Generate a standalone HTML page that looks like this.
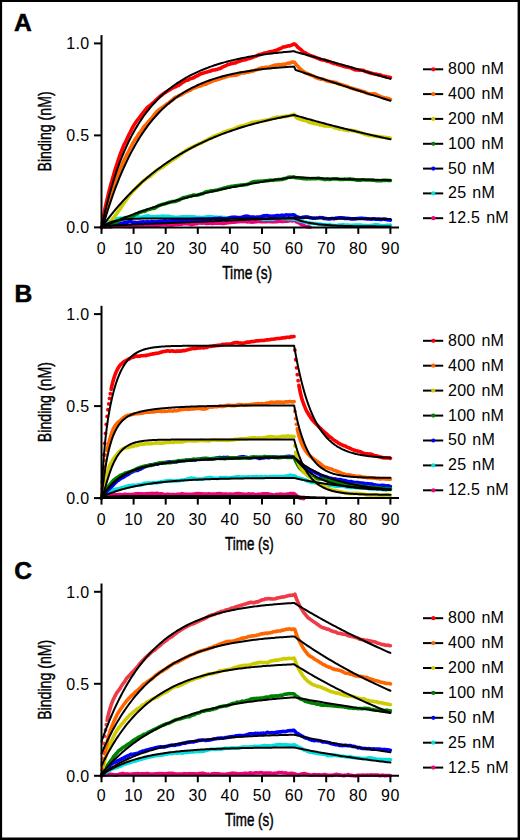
<!DOCTYPE html>
<html><head><meta charset="utf-8"><style>
html,body{margin:0;padding:0;background:#fff;}
body{width:520px;height:840px;overflow:hidden;}
svg{display:block;}
.tk{font-family:"Liberation Sans",sans-serif;font-size:16px;fill:#000;letter-spacing:0.4px;}
.lg{font-family:"Liberation Sans",sans-serif;font-size:16px;fill:#000;letter-spacing:0.25px;word-spacing:1.3px;}
.ti{font-family:"Liberation Sans",sans-serif;font-size:18px;fill:#000;stroke:#000;stroke-width:0.45px;}
.lt{font-family:"Liberation Sans",sans-serif;font-size:23px;font-weight:bold;fill:#000;stroke:#000;stroke-width:0.5px;}
</style></head><body>
<svg width="520" height="840" viewBox="0 0 520 840">
<rect x="0" y="0" width="520" height="840" fill="#fff"/>
<path d="M101.50,227.40 L102.30,227.37 L103.11,226.98 L103.91,227.06 L104.71,226.99 L105.51,226.99 L106.31,227.07 L107.12,226.84 L107.92,226.72 L108.72,226.61 L109.53,226.89 L110.33,226.92 L111.13,226.84 L111.93,226.58 L112.73,226.39 L113.54,226.30 L114.34,226.24 L115.14,226.21 L115.94,225.90 L116.75,226.03 L117.55,226.01 L118.35,225.86 L119.16,226.14 L119.96,226.22 L120.76,226.02 L121.56,225.89 L122.36,225.92 L123.17,226.06 L123.97,226.36 L124.77,226.17 L125.58,226.40 L126.38,226.47 L127.18,226.37 L127.98,226.37 L128.78,226.47 L129.59,226.59 L130.39,226.65 L131.19,226.27 L132.00,226.19 L132.80,225.94 L133.60,225.68 L134.40,225.54 L135.20,225.63 L136.01,225.67 L136.81,225.42 L137.61,225.33 L138.41,225.32 L139.22,225.57 L140.02,225.61 L140.82,225.93 L141.62,225.96 L142.43,225.84 L143.23,225.91 L144.03,225.95 L144.84,226.12 L145.64,225.97 L146.44,226.10 L147.24,226.22 L148.05,225.78 L148.85,225.69 L149.65,226.01 L150.45,225.83 L151.25,225.77 L152.06,225.70 L152.86,225.57 L153.66,225.43 L154.47,225.24 L155.27,225.44 L156.07,225.38 L156.87,225.08 L157.68,225.04 L158.48,225.27 L159.28,224.95 L160.08,225.03 L160.88,224.75 L161.69,224.63 L162.49,224.42 L163.29,224.65 L164.09,224.73 L164.90,224.76 L165.70,224.33 L166.50,224.71 L167.31,224.85 L168.11,224.97 L168.91,225.06 L169.71,225.00 L170.51,225.05 L171.32,225.14 L172.12,225.01 L172.92,225.01 L173.72,224.70 L174.53,224.56 L175.33,224.54 L176.13,224.50 L176.94,224.58 L177.74,224.29 L178.54,224.14 L179.34,224.09 L180.14,224.24 L180.95,224.24 L181.75,224.21 L182.55,223.81 L183.36,223.63 L184.16,223.38 L184.96,223.72 L185.76,223.64 L186.56,223.70 L187.37,223.59 L188.17,223.93 L188.97,223.78 L189.78,223.95 L190.58,224.28 L191.38,224.57 L192.18,224.38 L192.99,224.31 L193.79,224.12 L194.59,223.90 L195.39,223.60 L196.19,223.63 L197.00,223.72 L197.80,223.30 L198.60,223.05 L199.41,222.74 L200.21,222.86 L201.01,222.94 L201.81,223.28 L202.62,223.04 L203.42,223.02 L204.22,223.06 L205.02,223.31 L205.82,223.32 L206.63,223.56 L207.43,223.51 L208.23,223.40 L209.03,222.95 L209.84,223.15 L210.64,223.28 L211.44,223.36 L212.25,223.45 L213.05,223.42 L213.85,223.19 L214.65,223.04 L215.45,223.03 L216.26,223.31 L217.06,223.23 L217.86,223.33 L218.66,223.21 L219.47,223.00 L220.27,223.14 L221.07,223.28 L221.88,223.36 L222.68,223.42 L223.48,223.30 L224.28,223.34 L225.08,223.14 L225.89,222.95 L226.69,222.85 L227.49,222.51 L228.30,222.69 L229.10,222.45 L229.90,222.44 L230.70,222.50 L231.50,222.32 L232.31,222.13 L233.11,222.07 L233.91,222.11 L234.72,222.09 L235.52,221.84 L236.32,221.94 L237.12,221.75 L237.93,221.81 L238.73,221.61 L239.53,221.59 L240.33,221.42 L241.13,221.41 L241.94,221.64 L242.74,221.56 L243.54,221.42 L244.34,221.57 L245.15,221.42 L245.95,221.68 L246.75,221.57 L247.56,221.91 L248.36,221.75 L249.16,221.75 L249.96,221.87 L250.76,222.03 L251.57,222.08 L252.37,222.08 L253.17,221.92 L253.97,222.08 L254.78,221.89 L255.58,221.79 L256.38,221.64 L257.19,221.47 L257.99,221.38 L258.79,221.41 L259.59,221.31 L260.39,221.64 L261.20,221.55 L262.00,221.60 L262.80,221.64 L263.61,221.66 L264.41,221.76 L265.21,221.65 L266.01,221.49 L266.81,221.59 L267.62,221.33 L268.42,221.40 L269.22,221.40 L270.02,221.62 L270.83,221.61 L271.63,221.75 L272.43,221.79 L273.24,221.85 L274.04,221.65 L274.84,221.47 L275.64,221.67 L276.44,221.61 L277.25,221.49 L278.05,221.57 L278.85,221.20 L279.65,221.21 L280.46,221.26 L281.26,221.41 L282.06,221.57 L282.87,221.27 L283.67,221.43 L284.47,221.30 L285.27,221.05 L286.07,221.24 L286.88,221.23 L287.68,220.99 L288.48,221.00 L289.28,220.73 L290.09,220.69 L290.89,220.64 L291.69,220.79 L292.50,220.87 L293.30,220.40 L294.10,220.31 L294.90,220.64 L295.70,221.08 L296.51,221.87 L297.31,222.12 L298.11,222.56 L298.91,222.83 L299.72,223.25 L300.52,223.88 L301.32,224.40 L302.12,224.56 L302.93,224.99 L303.73,225.30 L304.53,226.01 L305.34,226.31 L306.14,226.58 L306.94,226.70 L307.74,226.89 L308.54,226.77 L309.35,227.08 L310.15,227.20" fill="none" stroke="#f0007a" stroke-width="3.6" stroke-linejoin="round" stroke-linecap="round"/>
<path d="M101.50,227.40 L102.30,226.05 L103.11,225.42 L103.91,224.76 L104.71,224.08 L105.51,223.89 L106.31,223.34 L107.12,222.64 L107.92,222.36 L108.72,221.97 L109.53,221.47 L110.33,221.14 L111.13,220.74 L111.93,220.75 L112.73,220.28 L113.54,219.81 L114.34,219.80 L115.14,219.22 L115.94,219.18 L116.75,218.90 L117.55,218.62 L118.35,218.74 L119.16,218.44 L119.96,218.18 L120.76,218.40 L121.56,218.32 L122.36,218.37 L123.17,218.32 L123.97,218.54 L124.77,218.53 L125.58,218.05 L126.38,217.94 L127.18,217.77 L127.98,217.36 L128.78,217.12 L129.59,217.24 L130.39,217.26 L131.19,217.00 L132.00,216.75 L132.80,216.78 L133.60,216.61 L134.40,216.75 L135.20,216.87 L136.01,216.90 L136.81,216.77 L137.61,216.74 L138.41,216.91 L139.22,217.06 L140.02,217.22 L140.82,217.39 L141.62,217.24 L142.43,217.28 L143.23,216.85 L144.03,216.68 L144.84,216.60 L145.64,216.30 L146.44,216.19 L147.24,216.14 L148.05,215.88 L148.85,216.06 L149.65,216.43 L150.45,216.70 L151.25,216.89 L152.06,216.63 L152.86,216.81 L153.66,217.01 L154.47,216.74 L155.27,217.02 L156.07,216.90 L156.87,216.35 L157.68,216.45 L158.48,216.39 L159.28,216.57 L160.08,216.40 L160.88,216.36 L161.69,216.49 L162.49,216.30 L163.29,216.04 L164.09,216.28 L164.90,216.42 L165.70,216.33 L166.50,216.41 L167.31,216.49 L168.11,216.38 L168.91,216.33 L169.71,216.50 L170.51,216.81 L171.32,217.10 L172.12,217.11 L172.92,217.03 L173.72,217.08 L174.53,217.22 L175.33,217.40 L176.13,217.49 L176.94,217.40 L177.74,217.55 L178.54,217.17 L179.34,217.04 L180.14,217.15 L180.95,217.17 L181.75,216.88 L182.55,216.69 L183.36,216.80 L184.16,216.90 L184.96,216.80 L185.76,216.79 L186.56,216.87 L187.37,216.85 L188.17,216.71 L188.97,216.78 L189.78,216.74 L190.58,216.75 L191.38,216.94 L192.18,216.89 L192.99,216.92 L193.79,216.88 L194.59,216.96 L195.39,217.11 L196.19,217.34 L197.00,217.58 L197.80,217.42 L198.60,217.18 L199.41,217.29 L200.21,217.57 L201.01,217.63 L201.81,217.54 L202.62,217.44 L203.42,217.50 L204.22,217.22 L205.02,217.23 L205.82,217.14 L206.63,217.00 L207.43,216.71 L208.23,216.64 L209.03,216.74 L209.84,216.91 L210.64,216.65 L211.44,216.82 L212.25,216.76 L213.05,217.15 L213.85,217.18 L214.65,217.22 L215.45,217.34 L216.26,217.40 L217.06,217.23 L217.86,217.36 L218.66,217.47 L219.47,217.76 L220.27,217.40 L221.07,217.34 L221.88,217.47 L222.68,217.43 L223.48,217.48 L224.28,217.46 L225.08,217.68 L225.89,217.80 L226.69,217.78 L227.49,218.06 L228.30,218.31 L229.10,218.33 L229.90,218.30 L230.70,218.47 L231.50,218.52 L232.31,218.63 L233.11,218.41 L233.91,218.64 L234.72,218.68 L235.52,218.54 L236.32,218.62 L237.12,218.80 L237.93,218.74 L238.73,218.79 L239.53,218.60 L240.33,218.69 L241.13,218.38 L241.94,218.32 L242.74,218.48 L243.54,218.51 L244.34,218.28 L245.15,218.12 L245.95,218.04 L246.75,218.05 L247.56,218.08 L248.36,218.13 L249.16,218.10 L249.96,217.96 L250.76,217.82 L251.57,218.07 L252.37,218.22 L253.17,218.41 L253.97,218.21 L254.78,217.89 L255.58,218.02 L256.38,217.99 L257.19,218.39 L257.99,218.47 L258.79,218.40 L259.59,218.54 L260.39,218.45 L261.20,218.88 L262.00,219.24 L262.80,219.23 L263.61,219.40 L264.41,219.03 L265.21,218.94 L266.01,219.13 L266.81,219.19 L267.62,219.23 L268.42,219.06 L269.22,219.20 L270.02,219.27 L270.83,219.14 L271.63,219.28 L272.43,219.33 L273.24,219.13 L274.04,218.75 L274.84,218.67 L275.64,218.60 L276.44,218.33 L277.25,218.15 L278.05,218.06 L278.85,218.21 L279.65,218.23 L280.46,218.28 L281.26,218.32 L282.06,218.50 L282.87,218.53 L283.67,218.64 L284.47,218.61 L285.27,218.70 L286.07,218.60 L286.88,218.68 L287.68,218.76 L288.48,218.96 L289.28,218.99 L290.09,219.04 L290.89,218.86 L291.69,219.13 L292.50,219.17 L293.30,219.18 L294.10,219.15 L294.90,218.89 L295.70,219.15 L296.51,219.46 L297.31,219.74 L298.11,220.30 L298.91,220.60 L299.72,220.99 L300.52,221.17 L301.32,221.32 L302.12,221.37 L302.93,221.48 L303.73,221.63 L304.53,222.02 L305.34,222.24 L306.14,222.39 L306.94,222.41 L307.74,222.64 L308.54,223.12 L309.35,223.16 L310.15,223.11 L310.95,223.33 L311.75,223.28 L312.56,223.32 L313.36,223.30 L314.16,223.62 L314.97,223.51 L315.77,223.51 L316.57,223.58 L317.37,223.86 L318.18,223.95 L318.98,224.09 L319.78,224.08 L320.58,224.35 L321.38,224.28 L322.19,224.60 L322.99,224.81 L323.79,224.85 L324.60,224.84 L325.40,224.84 L326.20,224.72 L327.00,224.99 L327.81,224.94 L328.61,224.71 L329.41,224.57 L330.21,224.66 L331.01,225.27 L331.82,225.50 L332.62,225.39 L333.42,225.62 L334.23,225.56 L335.03,225.50 L335.83,225.84 L336.63,225.96 L337.44,225.60 L338.24,225.15 L339.04,224.99 L339.84,225.21 L340.64,225.11 L341.45,225.15 L342.25,225.08 L343.05,224.66 L343.86,224.79 L344.66,225.17 L345.46,225.30 L346.26,225.31 L347.06,225.11 L347.87,225.05 L348.67,225.11 L349.47,225.38 L350.27,225.55 L351.08,225.60 L351.88,225.20 L352.68,225.18 L353.49,225.14 L354.29,225.19 L355.09,225.23 L355.89,225.04 L356.69,225.07 L357.50,225.19 L358.30,225.06 L359.10,225.16 L359.90,224.98 L360.71,225.12 L361.51,225.30 L362.31,225.49 L363.12,225.63 L363.92,225.42 L364.72,225.56 L365.52,225.42 L366.32,225.43 L367.13,225.61 L367.93,225.74 L368.73,225.63 L369.54,225.45 L370.34,225.64 L371.14,225.58 L371.94,225.28 L372.75,225.38 L373.55,225.36 L374.35,225.03 L375.15,224.71 L375.95,224.86 L376.76,224.95 L377.56,224.75 L378.36,224.92 L379.17,225.42 L379.97,225.37 L380.77,225.51 L381.57,225.79 L382.38,225.96 L383.18,225.74 L383.98,225.78 L384.78,225.86 L385.58,225.77 L386.39,225.30 L387.19,225.44 L387.99,225.19 L388.80,225.18 L389.60,225.23 L390.40,225.15" fill="none" stroke="#00e0e0" stroke-width="3.6" stroke-linejoin="round" stroke-linecap="round"/>
<path d="M101.50,227.40 L102.30,227.01 L103.11,226.70 L103.91,226.47 L104.71,226.35 L105.51,225.95 L106.31,225.71 L107.12,225.70 L107.92,225.53 L108.72,225.37 L109.53,225.17 L110.33,224.88 L111.13,224.45 L111.93,224.05 L112.73,223.91 L113.54,223.77 L114.34,223.76 L115.14,223.70 L115.94,223.84 L116.75,223.81 L117.55,223.84 L118.35,223.69 L119.16,223.66 L119.96,223.69 L120.76,223.51 L121.56,223.37 L122.36,223.17 L123.17,222.88 L123.97,222.66 L124.77,222.39 L125.58,222.42 L126.38,222.21 L127.18,222.04 L127.98,222.09 L128.78,221.79 L129.59,221.64 L130.39,221.65 L131.19,221.70 L132.00,222.13 L132.80,222.22 L133.60,222.35 L134.40,222.34 L135.20,222.33 L136.01,222.61 L136.81,222.74 L137.61,222.53 L138.41,222.43 L139.22,222.19 L140.02,222.28 L140.82,222.13 L141.62,222.09 L142.43,222.00 L143.23,221.70 L144.03,221.96 L144.84,222.03 L145.64,222.07 L146.44,222.02 L147.24,221.67 L148.05,221.78 L148.85,221.95 L149.65,221.94 L150.45,221.96 L151.25,221.65 L152.06,221.75 L152.86,221.89 L153.66,221.83 L154.47,221.91 L155.27,221.93 L156.07,221.88 L156.87,221.59 L157.68,221.92 L158.48,221.94 L159.28,221.50 L160.08,221.28 L160.88,221.28 L161.69,221.42 L162.49,221.22 L163.29,221.13 L164.09,221.27 L164.90,220.87 L165.70,220.91 L166.50,221.01 L167.31,221.13 L168.11,221.20 L168.91,221.02 L169.71,221.19 L170.51,220.94 L171.32,220.82 L172.12,220.83 L172.92,220.73 L173.72,220.86 L174.53,220.70 L175.33,220.48 L176.13,220.46 L176.94,220.33 L177.74,220.35 L178.54,220.53 L179.34,220.35 L180.14,220.37 L180.95,220.27 L181.75,220.01 L182.55,220.19 L183.36,220.14 L184.16,220.34 L184.96,220.35 L185.76,220.38 L186.56,220.49 L187.37,220.39 L188.17,220.34 L188.97,220.29 L189.78,220.08 L190.58,219.96 L191.38,219.74 L192.18,219.67 L192.99,219.55 L193.79,219.68 L194.59,219.57 L195.39,219.35 L196.19,219.44 L197.00,219.50 L197.80,219.35 L198.60,219.35 L199.41,219.36 L200.21,219.36 L201.01,219.22 L201.81,219.22 L202.62,219.14 L203.42,219.18 L204.22,219.20 L205.02,219.43 L205.82,219.37 L206.63,219.46 L207.43,219.26 L208.23,219.02 L209.03,218.92 L209.84,219.04 L210.64,219.13 L211.44,219.17 L212.25,218.91 L213.05,218.71 L213.85,218.65 L214.65,218.60 L215.45,218.65 L216.26,218.58 L217.06,218.59 L217.86,218.46 L218.66,218.19 L219.47,218.29 L220.27,218.38 L221.07,218.38 L221.88,218.72 L222.68,218.78 L223.48,219.00 L224.28,218.96 L225.08,218.78 L225.89,218.73 L226.69,218.75 L227.49,218.70 L228.30,218.30 L229.10,217.99 L229.90,217.75 L230.70,217.43 L231.50,217.39 L232.31,217.26 L233.11,217.34 L233.91,217.14 L234.72,217.22 L235.52,217.41 L236.32,217.42 L237.12,217.43 L237.93,217.59 L238.73,217.58 L239.53,217.85 L240.33,217.59 L241.13,217.45 L241.94,217.27 L242.74,216.95 L243.54,216.71 L244.34,216.47 L245.15,216.30 L245.95,216.46 L246.75,216.11 L247.56,216.21 L248.36,216.51 L249.16,216.58 L249.96,216.93 L250.76,216.98 L251.57,217.33 L252.37,217.12 L253.17,216.82 L253.97,217.16 L254.78,217.28 L255.58,217.19 L256.38,217.30 L257.19,217.08 L257.99,217.03 L258.79,216.95 L259.59,217.15 L260.39,217.14 L261.20,216.73 L262.00,216.33 L262.80,216.22 L263.61,215.85 L264.41,215.88 L265.21,215.79 L266.01,215.77 L266.81,215.58 L267.62,215.75 L268.42,216.00 L269.22,216.14 L270.02,216.04 L270.83,216.27 L271.63,216.21 L272.43,216.20 L273.24,216.02 L274.04,216.17 L274.84,215.97 L275.64,215.85 L276.44,215.64 L277.25,215.60 L278.05,215.55 L278.85,215.71 L279.65,215.68 L280.46,215.52 L281.26,215.36 L282.06,215.23 L282.87,215.22 L283.67,215.51 L284.47,215.45 L285.27,215.24 L286.07,214.86 L286.88,214.99 L287.68,215.08 L288.48,215.13 L289.28,215.10 L290.09,215.08 L290.89,214.95 L291.69,215.07 L292.50,214.89 L293.30,214.93 L294.10,214.81 L294.90,215.51 L295.70,216.21 L296.51,216.61 L297.31,217.10 L298.11,217.37 L298.91,217.41 L299.72,217.55 L300.52,217.67 L301.32,217.57 L302.12,217.42 L302.93,217.22 L303.73,217.43 L304.53,217.05 L305.34,216.96 L306.14,216.88 L306.94,217.17 L307.74,217.06 L308.54,217.33 L309.35,217.62 L310.15,217.69 L310.95,217.82 L311.75,217.98 L312.56,218.15 L313.36,218.16 L314.16,218.04 L314.97,218.31 L315.77,218.15 L316.57,217.89 L317.37,218.06 L318.18,217.91 L318.98,217.74 L319.78,217.53 L320.58,217.74 L321.38,217.82 L322.19,217.64 L322.99,217.86 L323.79,218.34 L324.60,218.35 L325.40,218.56 L326.20,218.61 L327.00,218.71 L327.81,218.85 L328.61,218.94 L329.41,218.96 L330.21,218.90 L331.01,218.62 L331.82,218.57 L332.62,218.45 L333.42,218.66 L334.23,218.68 L335.03,218.42 L335.83,218.10 L336.63,218.37 L337.44,217.98 L338.24,217.91 L339.04,217.77 L339.84,217.89 L340.64,217.87 L341.45,217.88 L342.25,218.04 L343.05,218.15 L343.86,217.90 L344.66,218.34 L345.46,218.39 L346.26,218.47 L347.06,218.31 L347.87,218.41 L348.67,218.48 L349.47,218.53 L350.27,218.78 L351.08,219.03 L351.88,218.73 L352.68,218.78 L353.49,218.88 L354.29,219.06 L355.09,218.88 L355.89,218.66 L356.69,218.68 L357.50,218.50 L358.30,218.46 L359.10,218.45 L359.90,218.31 L360.71,218.43 L361.51,218.21 L362.31,218.34 L363.12,218.51 L363.92,218.46 L364.72,218.62 L365.52,218.61 L366.32,218.76 L367.13,218.89 L367.93,218.92 L368.73,218.84 L369.54,218.92 L370.34,219.05 L371.14,219.20 L371.94,219.05 L372.75,218.88 L373.55,218.94 L374.35,218.85 L375.15,218.93 L375.95,219.23 L376.76,219.28 L377.56,219.22 L378.36,219.10 L379.17,219.44 L379.97,219.19 L380.77,219.34 L381.57,219.42 L382.38,219.16 L383.18,219.02 L383.98,218.95 L384.78,219.32 L385.58,219.52 L386.39,219.20 L387.19,219.70 L387.99,219.74 L388.80,220.07 L389.60,220.04 L390.40,220.10" fill="none" stroke="#0000ff" stroke-width="3.6" stroke-linejoin="round" stroke-linecap="round"/>
<path d="M101.50,227.40 L102.30,227.05 L103.11,226.67 L103.91,226.44 L104.71,226.15 L105.51,225.65 L106.31,225.42 L107.12,225.18 L107.92,224.95 L108.72,224.80 L109.53,224.34 L110.33,224.02 L111.13,223.63 L111.93,223.10 L112.73,223.05 L113.54,222.99 L114.34,222.73 L115.14,222.63 L115.94,222.05 L116.75,221.79 L117.55,221.62 L118.35,221.29 L119.16,220.84 L119.96,220.27 L120.76,219.61 L121.56,219.20 L122.36,218.81 L123.17,218.64 L123.97,218.28 L124.77,217.92 L125.58,217.58 L126.38,217.61 L127.18,217.69 L127.98,217.67 L128.78,217.48 L129.59,216.95 L130.39,216.47 L131.19,216.38 L132.00,216.28 L132.80,215.91 L133.60,215.39 L134.40,215.05 L135.20,214.37 L136.01,213.99 L136.81,213.69 L137.61,213.51 L138.41,212.96 L139.22,212.40 L140.02,212.35 L140.82,212.15 L141.62,211.76 L142.43,211.50 L143.23,211.37 L144.03,211.47 L144.84,211.14 L145.64,210.81 L146.44,210.37 L147.24,209.81 L148.05,209.70 L148.85,209.42 L149.65,209.32 L150.45,208.91 L151.25,208.71 L152.06,208.53 L152.86,208.37 L153.66,208.42 L154.47,208.28 L155.27,207.63 L156.07,207.26 L156.87,206.76 L157.68,206.35 L158.48,205.73 L159.28,205.40 L160.08,205.23 L160.88,204.66 L161.69,204.47 L162.49,204.47 L163.29,204.11 L164.09,204.10 L164.90,203.92 L165.70,203.57 L166.50,203.35 L167.31,203.03 L168.11,202.82 L168.91,202.39 L169.71,202.25 L170.51,202.28 L171.32,201.75 L172.12,201.50 L172.92,201.68 L173.72,201.63 L174.53,201.40 L175.33,201.41 L176.13,201.21 L176.94,200.74 L177.74,200.25 L178.54,200.36 L179.34,200.08 L180.14,199.29 L180.95,198.98 L181.75,198.57 L182.55,198.07 L183.36,197.81 L184.16,197.60 L184.96,197.59 L185.76,197.33 L186.56,197.08 L187.37,196.99 L188.17,196.49 L188.97,196.31 L189.78,196.10 L190.58,196.03 L191.38,195.97 L192.18,195.56 L192.99,195.15 L193.79,195.03 L194.59,195.16 L195.39,195.19 L196.19,195.31 L197.00,195.20 L197.80,195.08 L198.60,194.73 L199.41,194.51 L200.21,194.35 L201.01,193.97 L201.81,193.71 L202.62,193.74 L203.42,193.21 L204.22,192.83 L205.02,192.30 L205.82,192.04 L206.63,191.81 L207.43,191.62 L208.23,191.79 L209.03,191.53 L209.84,190.97 L210.64,190.99 L211.44,190.73 L212.25,190.95 L213.05,190.86 L213.85,190.60 L214.65,190.52 L215.45,190.31 L216.26,190.24 L217.06,190.23 L217.86,189.77 L218.66,189.79 L219.47,189.34 L220.27,189.17 L221.07,189.04 L221.88,188.77 L222.68,188.57 L223.48,188.27 L224.28,187.98 L225.08,187.85 L225.89,187.75 L226.69,187.59 L227.49,187.08 L228.30,187.14 L229.10,187.16 L229.90,186.74 L230.70,186.46 L231.50,186.34 L232.31,186.31 L233.11,186.19 L233.91,186.03 L234.72,186.20 L235.52,185.82 L236.32,185.66 L237.12,185.76 L237.93,185.65 L238.73,185.55 L239.53,185.35 L240.33,185.16 L241.13,185.16 L241.94,184.94 L242.74,184.98 L243.54,184.89 L244.34,184.79 L245.15,184.78 L245.95,184.64 L246.75,184.58 L247.56,184.31 L248.36,184.02 L249.16,183.67 L249.96,183.29 L250.76,182.97 L251.57,182.45 L252.37,182.05 L253.17,181.92 L253.97,181.76 L254.78,181.60 L255.58,181.52 L256.38,181.49 L257.19,181.49 L257.99,181.24 L258.79,181.39 L259.59,181.37 L260.39,181.24 L261.20,181.07 L262.00,181.33 L262.80,181.20 L263.61,181.04 L264.41,180.90 L265.21,180.89 L266.01,180.65 L266.81,180.70 L267.62,180.65 L268.42,180.68 L269.22,180.36 L270.02,180.16 L270.83,180.35 L271.63,180.18 L272.43,180.28 L273.24,180.36 L274.04,180.14 L274.84,179.76 L275.64,179.69 L276.44,179.86 L277.25,179.83 L278.05,179.61 L278.85,179.79 L279.65,179.62 L280.46,179.50 L281.26,179.39 L282.06,179.35 L282.87,179.37 L283.67,178.67 L284.47,178.63 L285.27,178.59 L286.07,178.25 L286.88,178.00 L287.68,177.49 L288.48,177.26 L289.28,177.31 L290.09,177.07 L290.89,177.36 L291.69,177.31 L292.50,177.08 L293.30,177.17 L294.10,176.88 L294.90,177.57 L295.70,177.79 L296.51,177.66 L297.31,177.93 L298.11,178.03 L298.91,177.95 L299.72,178.09 L300.52,178.04 L301.32,178.26 L302.12,178.37 L302.93,178.42 L303.73,178.78 L304.53,178.80 L305.34,178.54 L306.14,178.79 L306.94,178.93 L307.74,178.78 L308.54,178.72 L309.35,178.75 L310.15,178.84 L310.95,178.70 L311.75,178.61 L312.56,178.74 L313.36,178.63 L314.16,178.54 L314.97,178.66 L315.77,178.74 L316.57,178.45 L317.37,178.20 L318.18,178.46 L318.98,178.23 L319.78,178.49 L320.58,178.73 L321.38,178.68 L322.19,178.91 L322.99,179.08 L323.79,179.21 L324.60,179.54 L325.40,179.45 L326.20,179.56 L327.00,179.26 L327.81,179.02 L328.61,179.35 L329.41,179.37 L330.21,179.37 L331.01,179.28 L331.82,179.09 L332.62,178.87 L333.42,178.77 L334.23,179.00 L335.03,179.03 L335.83,178.77 L336.63,178.84 L337.44,178.84 L338.24,179.05 L339.04,179.34 L339.84,179.36 L340.64,179.44 L341.45,179.27 L342.25,179.46 L343.05,179.54 L343.86,179.22 L344.66,179.13 L345.46,179.33 L346.26,179.17 L347.06,179.10 L347.87,179.23 L348.67,179.33 L349.47,178.89 L350.27,178.93 L351.08,179.16 L351.88,179.42 L352.68,179.42 L353.49,179.26 L354.29,179.49 L355.09,179.65 L355.89,179.85 L356.69,180.21 L357.50,180.12 L358.30,180.22 L359.10,179.99 L359.90,179.98 L360.71,180.15 L361.51,180.07 L362.31,179.84 L363.12,179.79 L363.92,179.82 L364.72,179.87 L365.52,179.96 L366.32,180.04 L367.13,179.92 L367.93,179.84 L368.73,179.93 L369.54,180.05 L370.34,179.98 L371.14,180.07 L371.94,180.18 L372.75,179.96 L373.55,179.95 L374.35,180.18 L375.15,180.38 L375.95,180.67 L376.76,180.55 L377.56,180.65 L378.36,180.52 L379.17,180.66 L379.97,180.73 L380.77,180.72 L381.57,180.45 L382.38,180.60 L383.18,180.21 L383.98,180.35 L384.78,180.39 L385.58,180.37 L386.39,180.27 L387.19,180.30 L387.99,180.47 L388.80,180.58 L389.60,180.40 L390.40,180.54" fill="none" stroke="#008000" stroke-width="3.6" stroke-linejoin="round" stroke-linecap="round"/>
<path d="M101.50,227.40 L102.30,227.24 L103.11,226.97 L103.91,226.63 L104.71,226.45 L105.51,226.04 L106.31,225.46 L107.12,224.93 L107.92,224.27 L108.72,223.61 L109.53,222.64 L110.33,221.67 L111.13,220.63 L111.93,219.71 L112.73,218.46 L113.54,217.77 L114.34,216.82 L115.14,215.68 L115.94,214.63 L116.75,213.61 L117.55,212.43 L118.35,211.43 L119.16,210.11 L119.96,209.27 L120.76,208.08 L121.56,206.74 L122.36,205.59 L123.17,204.36 L123.97,202.95 L124.77,201.82 L125.58,200.63 L126.38,199.50 L127.18,198.14 L127.98,197.03 L128.78,196.05 L129.59,195.09 L130.39,194.13 L131.19,193.24 L132.00,192.31 L132.80,191.35 L133.60,190.51 L134.40,189.90 L135.20,189.01 L136.01,188.13 L136.81,187.21 L137.61,186.42 L138.41,185.76 L139.22,184.92 L140.02,184.08 L140.82,183.40 L141.62,182.49 L142.43,181.74 L143.23,180.93 L144.03,180.44 L144.84,179.88 L145.64,179.03 L146.44,178.61 L147.24,178.09 L148.05,177.39 L148.85,176.94 L149.65,176.57 L150.45,176.14 L151.25,175.32 L152.06,174.56 L152.86,174.01 L153.66,173.30 L154.47,172.52 L155.27,171.80 L156.07,171.04 L156.87,170.47 L157.68,169.88 L158.48,169.56 L159.28,169.05 L160.08,168.54 L160.88,168.09 L161.69,167.69 L162.49,167.10 L163.29,166.61 L164.09,165.85 L164.90,165.42 L165.70,164.81 L166.50,164.40 L167.31,163.83 L168.11,163.00 L168.91,162.38 L169.71,161.91 L170.51,161.48 L171.32,160.90 L172.12,160.24 L172.92,159.77 L173.72,159.24 L174.53,158.70 L175.33,158.33 L176.13,157.63 L176.94,157.07 L177.74,156.51 L178.54,156.06 L179.34,155.35 L180.14,154.74 L180.95,153.98 L181.75,153.40 L182.55,152.66 L183.36,152.29 L184.16,151.86 L184.96,151.22 L185.76,150.69 L186.56,150.29 L187.37,149.74 L188.17,149.16 L188.97,148.76 L189.78,148.42 L190.58,148.10 L191.38,147.61 L192.18,147.23 L192.99,146.79 L193.79,146.37 L194.59,146.00 L195.39,145.87 L196.19,145.33 L197.00,145.00 L197.80,144.59 L198.60,144.08 L199.41,143.60 L200.21,143.49 L201.01,143.22 L201.81,142.68 L202.62,142.11 L203.42,141.88 L204.22,141.30 L205.02,140.92 L205.82,140.67 L206.63,140.35 L207.43,139.69 L208.23,139.18 L209.03,138.77 L209.84,138.48 L210.64,137.91 L211.44,137.76 L212.25,137.33 L213.05,136.76 L213.85,136.40 L214.65,135.92 L215.45,135.69 L216.26,135.46 L217.06,135.11 L217.86,134.89 L218.66,134.50 L219.47,134.13 L220.27,133.90 L221.07,133.45 L221.88,133.21 L222.68,132.77 L223.48,132.33 L224.28,132.11 L225.08,131.97 L225.89,131.45 L226.69,131.01 L227.49,130.77 L228.30,130.56 L229.10,130.37 L229.90,130.29 L230.70,130.07 L231.50,129.82 L232.31,129.29 L233.11,129.24 L233.91,129.07 L234.72,128.60 L235.52,128.17 L236.32,127.83 L237.12,127.31 L237.93,127.19 L238.73,126.83 L239.53,126.63 L240.33,126.15 L241.13,125.99 L241.94,125.88 L242.74,125.81 L243.54,125.66 L244.34,125.54 L245.15,125.03 L245.95,124.74 L246.75,124.49 L247.56,124.31 L248.36,124.09 L249.16,123.79 L249.96,123.42 L250.76,122.90 L251.57,122.52 L252.37,122.51 L253.17,122.34 L253.97,122.26 L254.78,122.22 L255.58,122.02 L256.38,121.84 L257.19,121.64 L257.99,121.66 L258.79,121.52 L259.59,121.40 L260.39,121.19 L261.20,121.02 L262.00,120.91 L262.80,120.63 L263.61,120.54 L264.41,120.55 L265.21,120.36 L266.01,120.37 L266.81,120.07 L267.62,119.92 L268.42,119.62 L269.22,119.41 L270.02,119.22 L270.83,119.00 L271.63,118.66 L272.43,118.33 L273.24,118.05 L274.04,117.94 L274.84,117.90 L275.64,117.77 L276.44,117.34 L277.25,117.04 L278.05,117.20 L278.85,117.25 L279.65,117.24 L280.46,117.22 L281.26,116.98 L282.06,116.65 L282.87,116.56 L283.67,116.57 L284.47,116.76 L285.27,116.46 L286.07,116.34 L286.88,116.08 L287.68,116.02 L288.48,115.93 L289.28,115.73 L290.09,115.56 L290.89,115.35 L291.69,115.14 L292.50,114.88 L293.30,114.58 L294.10,114.33 L294.90,115.71 L295.70,116.70 L296.51,117.62 L297.31,118.23 L298.11,118.62 L298.91,118.88 L299.72,119.09 L300.52,119.38 L301.32,119.63 L302.12,119.67 L302.93,120.11 L303.73,120.12 L304.53,120.27 L305.34,120.57 L306.14,120.82 L306.94,121.07 L307.74,121.43 L308.54,121.90 L309.35,122.40 L310.15,122.46 L310.95,122.73 L311.75,122.87 L312.56,123.05 L313.36,123.27 L314.16,123.70 L314.97,123.72 L315.77,123.80 L316.57,123.85 L317.37,123.91 L318.18,124.19 L318.98,124.46 L319.78,124.90 L320.58,124.95 L321.38,124.95 L322.19,125.23 L322.99,125.38 L323.79,125.69 L324.60,126.06 L325.40,126.01 L326.20,126.08 L327.00,125.91 L327.81,126.06 L328.61,126.16 L329.41,126.23 L330.21,126.20 L331.01,126.26 L331.82,126.30 L332.62,126.69 L333.42,126.97 L334.23,127.48 L335.03,127.93 L335.83,128.00 L336.63,128.03 L337.44,128.47 L338.24,128.63 L339.04,128.81 L339.84,129.05 L340.64,129.00 L341.45,129.02 L342.25,129.06 L343.05,129.67 L343.86,129.83 L344.66,129.94 L345.46,129.93 L346.26,130.26 L347.06,130.28 L347.87,130.62 L348.67,130.65 L349.47,130.52 L350.27,130.16 L351.08,130.33 L351.88,130.54 L352.68,130.78 L353.49,130.69 L354.29,130.83 L355.09,130.94 L355.89,131.07 L356.69,131.53 L357.50,131.90 L358.30,132.03 L359.10,132.25 L359.90,132.49 L360.71,132.70 L361.51,133.06 L362.31,133.28 L363.12,133.67 L363.92,133.79 L364.72,134.12 L365.52,134.53 L366.32,134.63 L367.13,134.82 L367.93,135.09 L368.73,135.35 L369.54,135.32 L370.34,135.33 L371.14,135.54 L371.94,135.61 L372.75,135.64 L373.55,135.84 L374.35,136.01 L375.15,136.19 L375.95,136.04 L376.76,136.43 L377.56,136.51 L378.36,136.51 L379.17,136.61 L379.97,136.66 L380.77,136.71 L381.57,136.94 L382.38,137.01 L383.18,137.20 L383.98,137.28 L384.78,137.45 L385.58,137.39 L386.39,137.50 L387.19,137.73 L387.99,137.90 L388.80,137.79 L389.60,137.98 L390.40,138.22" fill="none" stroke="#cccc00" stroke-width="3.6" stroke-linejoin="round" stroke-linecap="round"/>
<path d="M101.50,227.40 L102.30,224.27 L103.11,221.30 L103.91,218.41 L104.71,215.33 L105.51,212.50 L106.31,209.74 L107.12,207.05 L107.92,204.35 L108.72,201.64 L109.53,199.01 L110.33,196.38 L111.13,193.74 L111.93,191.31 L112.73,188.62 L113.54,186.39 L114.34,183.93 L115.14,181.59 L115.94,179.50 L116.75,177.60 L117.55,175.59 L118.35,173.71 L119.16,171.73 L119.96,169.97 L120.76,167.88 L121.56,166.12 L122.36,164.28 L123.17,162.25 L123.97,160.51 L124.77,158.85 L125.58,157.24 L126.38,155.44 L127.18,153.97 L127.98,152.63 L128.78,151.03 L129.59,149.27 L130.39,147.78 L131.19,146.38 L132.00,144.83 L132.80,143.21 L133.60,141.90 L134.40,140.57 L135.20,139.14 L136.01,138.20 L136.81,137.28 L137.61,135.96 L138.41,134.50 L139.22,133.49 L140.02,132.60 L140.82,131.42 L141.62,130.19 L142.43,128.99 L143.23,127.80 L144.03,126.63 L144.84,125.82 L145.64,125.02 L146.44,124.08 L147.24,123.08 L148.05,122.26 L148.85,121.28 L149.65,120.45 L150.45,119.48 L151.25,118.52 L152.06,117.79 L152.86,116.67 L153.66,115.38 L154.47,114.39 L155.27,113.49 L156.07,112.54 L156.87,111.69 L157.68,110.90 L158.48,110.24 L159.28,109.50 L160.08,109.09 L160.88,108.54 L161.69,107.76 L162.49,107.23 L163.29,106.72 L164.09,106.12 L164.90,105.56 L165.70,105.00 L166.50,104.34 L167.31,103.83 L168.11,103.32 L168.91,102.91 L169.71,101.96 L170.51,101.28 L171.32,100.79 L172.12,100.20 L172.92,99.38 L173.72,98.62 L174.53,97.85 L175.33,97.35 L176.13,96.98 L176.94,96.77 L177.74,96.42 L178.54,95.99 L179.34,95.31 L180.14,95.27 L180.95,95.02 L181.75,94.55 L182.55,94.04 L183.36,93.24 L184.16,92.94 L184.96,92.59 L185.76,92.08 L186.56,91.86 L187.37,91.28 L188.17,90.96 L188.97,90.49 L189.78,90.28 L190.58,90.17 L191.38,89.46 L192.18,88.81 L192.99,88.36 L193.79,88.11 L194.59,87.82 L195.39,87.48 L196.19,87.40 L197.00,86.99 L197.80,86.44 L198.60,86.25 L199.41,86.22 L200.21,86.09 L201.01,85.81 L201.81,85.26 L202.62,85.08 L203.42,84.61 L204.22,84.43 L205.02,84.40 L205.82,84.31 L206.63,83.82 L207.43,83.45 L208.23,82.72 L209.03,82.70 L209.84,82.31 L210.64,82.01 L211.44,81.50 L212.25,81.15 L213.05,80.94 L213.85,80.63 L214.65,80.29 L215.45,80.31 L216.26,80.01 L217.06,79.55 L217.86,79.44 L218.66,79.26 L219.47,79.00 L220.27,78.38 L221.07,78.37 L221.88,78.24 L222.68,77.92 L223.48,77.60 L224.28,77.45 L225.08,77.18 L225.89,76.85 L226.69,76.68 L227.49,76.55 L228.30,76.04 L229.10,75.74 L229.90,75.74 L230.70,75.70 L231.50,75.46 L232.31,75.37 L233.11,75.46 L233.91,75.26 L234.72,75.24 L235.52,75.17 L236.32,75.18 L237.12,74.71 L237.93,74.45 L238.73,74.26 L239.53,73.84 L240.33,73.44 L241.13,73.07 L241.94,72.86 L242.74,73.04 L243.54,72.70 L244.34,72.89 L245.15,72.69 L245.95,72.40 L246.75,72.32 L247.56,72.23 L248.36,72.26 L249.16,72.00 L249.96,71.58 L250.76,71.56 L251.57,71.15 L252.37,71.03 L253.17,70.93 L253.97,70.79 L254.78,70.43 L255.58,70.02 L256.38,69.81 L257.19,69.63 L257.99,69.22 L258.79,68.92 L259.59,68.50 L260.39,68.34 L261.20,68.08 L262.00,67.84 L262.80,67.96 L263.61,67.72 L264.41,67.65 L265.21,67.37 L266.01,67.42 L266.81,67.39 L267.62,67.36 L268.42,67.23 L269.22,67.16 L270.02,66.61 L270.83,66.65 L271.63,66.43 L272.43,65.97 L273.24,65.64 L274.04,65.47 L274.84,65.12 L275.64,65.27 L276.44,65.01 L277.25,65.03 L278.05,64.89 L278.85,64.54 L279.65,64.91 L280.46,64.98 L281.26,64.76 L282.06,64.62 L282.87,64.21 L283.67,64.25 L284.47,64.27 L285.27,64.12 L286.07,63.99 L286.88,63.61 L287.68,63.29 L288.48,63.16 L289.28,63.10 L290.09,62.91 L290.89,62.86 L291.69,62.34 L292.50,62.09 L293.30,62.00 L294.10,62.00 L294.90,62.79 L295.70,63.74 L296.51,64.78 L297.31,65.82 L298.11,66.59 L298.91,67.73 L299.72,68.42 L300.52,69.30 L301.32,69.90 L302.12,70.36 L302.93,71.33 L303.73,71.71 L304.53,72.12 L305.34,72.76 L306.14,73.08 L306.94,73.47 L307.74,73.56 L308.54,74.13 L309.35,74.43 L310.15,74.65 L310.95,75.05 L311.75,75.45 L312.56,75.66 L313.36,75.97 L314.16,76.47 L314.97,77.24 L315.77,77.44 L316.57,77.88 L317.37,78.15 L318.18,78.42 L318.98,78.69 L319.78,78.82 L320.58,79.15 L321.38,79.26 L322.19,79.17 L322.99,79.36 L323.79,79.57 L324.60,79.82 L325.40,80.23 L326.20,80.52 L327.00,80.89 L327.81,81.04 L328.61,81.34 L329.41,81.58 L330.21,81.66 L331.01,81.64 L331.82,81.89 L332.62,81.91 L333.42,82.01 L334.23,82.16 L335.03,82.39 L335.83,82.51 L336.63,82.74 L337.44,83.18 L338.24,83.69 L339.04,83.90 L339.84,84.19 L340.64,84.35 L341.45,84.63 L342.25,84.87 L343.05,84.99 L343.86,85.43 L344.66,85.71 L345.46,85.84 L346.26,86.10 L347.06,86.50 L347.87,86.76 L348.67,87.04 L349.47,87.47 L350.27,87.65 L351.08,87.92 L351.88,88.11 L352.68,88.48 L353.49,88.70 L354.29,88.75 L355.09,89.18 L355.89,89.42 L356.69,89.54 L357.50,90.11 L358.30,90.05 L359.10,90.26 L359.90,90.44 L360.71,90.76 L361.51,91.09 L362.31,91.20 L363.12,91.47 L363.92,91.53 L364.72,91.94 L365.52,92.55 L366.32,92.83 L367.13,93.24 L367.93,93.39 L368.73,93.66 L369.54,93.83 L370.34,93.95 L371.14,94.17 L371.94,93.99 L372.75,93.82 L373.55,93.95 L374.35,93.84 L375.15,94.00 L375.95,94.21 L376.76,94.65 L377.56,95.06 L378.36,95.38 L379.17,95.99 L379.97,96.34 L380.77,96.71 L381.57,96.98 L382.38,97.24 L383.18,97.48 L383.98,97.55 L384.78,97.90 L385.58,98.15 L386.39,98.04 L387.19,98.50 L387.99,98.53 L388.80,98.85 L389.60,99.08 L390.40,99.38" fill="none" stroke="#ff6600" stroke-width="3.6" stroke-linejoin="round" stroke-linecap="round"/>
<path d="M102.30,222.75 L103.11,218.62 L103.91,214.57 L104.71,210.21 L105.51,206.46 L106.31,203.00 L107.12,199.39 L107.92,196.19 L108.72,192.73 L109.53,189.41 L110.33,186.36 L111.13,183.36 L111.93,180.84 L112.73,178.01 L113.54,175.23 L114.34,172.42 L115.14,169.59 L115.94,167.11 L116.75,164.90 L117.55,162.20 L118.35,159.68 L119.16,157.25 L119.96,155.04 L120.76,152.81 L121.56,151.00 L122.36,148.84 L123.17,146.84 L123.97,144.95 L124.77,143.42 L125.58,142.09 L126.38,140.33 L127.18,138.57 L127.98,136.73 L128.78,134.83 L129.59,133.59 L130.39,132.05 L131.19,130.29 L132.00,128.68 L132.80,127.04 L133.60,125.67 L134.40,124.38 L135.20,123.15 L136.01,122.15 L136.81,120.87 L137.61,119.79 L138.41,118.80 L139.22,117.86 L140.02,116.74 L140.82,115.71 L141.62,114.67 L142.43,113.66 L143.23,112.53 L144.03,111.46 L144.84,110.59 L145.64,109.56 L146.44,108.43 L147.24,107.66 L148.05,107.00 L148.85,106.32 L149.65,105.78 L150.45,105.15 L151.25,104.55 L152.06,103.60 L152.86,103.07 L153.66,102.49 L154.47,101.68 L155.27,100.96 L156.07,100.03 L156.87,99.23 L157.68,98.48 L158.48,97.76 L159.28,97.09 L160.08,96.25 L160.88,95.64 L161.69,95.20 L162.49,94.40 L163.29,93.86 L164.09,93.28 L164.90,92.76 L165.70,92.16 L166.50,91.69 L167.31,91.35 L168.11,90.82 L168.91,90.06 L169.71,89.73 L170.51,89.44 L171.32,88.75 L172.12,88.23 L172.92,87.82 L173.72,87.43 L174.53,87.17 L175.33,86.88 L176.13,86.51 L176.94,85.85 L177.74,85.55 L178.54,85.42 L179.34,84.85 L180.14,84.32 L180.95,83.81 L181.75,82.95 L182.55,82.40 L183.36,81.99 L184.16,81.67 L184.96,80.94 L185.76,80.61 L186.56,80.28 L187.37,80.19 L188.17,79.96 L188.97,79.37 L189.78,79.06 L190.58,78.60 L191.38,78.45 L192.18,78.24 L192.99,77.85 L193.79,77.74 L194.59,77.11 L195.39,76.49 L196.19,76.41 L197.00,75.83 L197.80,75.64 L198.60,75.02 L199.41,74.60 L200.21,74.03 L201.01,73.71 L201.81,73.50 L202.62,73.23 L203.42,72.95 L204.22,72.81 L205.02,72.53 L205.82,72.41 L206.63,72.11 L207.43,71.89 L208.23,71.61 L209.03,71.32 L209.84,71.14 L210.64,71.05 L211.44,70.66 L212.25,70.29 L213.05,70.00 L213.85,70.06 L214.65,70.05 L215.45,69.82 L216.26,69.57 L217.06,69.47 L217.86,69.02 L218.66,68.84 L219.47,68.59 L220.27,68.54 L221.07,67.82 L221.88,67.38 L222.68,66.92 L223.48,66.65 L224.28,66.25 L225.08,65.94 L225.89,65.66 L226.69,65.24 L227.49,64.75 L228.30,64.41 L229.10,64.33 L229.90,64.20 L230.70,63.74 L231.50,63.50 L232.31,63.37 L233.11,63.35 L233.91,63.05 L234.72,62.99 L235.52,62.91 L236.32,62.40 L237.12,61.97 L237.93,61.65 L238.73,61.44 L239.53,61.23 L240.33,60.80 L241.13,60.88 L241.94,60.30 L242.74,60.15 L243.54,59.90 L244.34,59.88 L245.15,59.80 L245.95,59.54 L246.75,59.20 L247.56,59.03 L248.36,58.46 L249.16,58.38 L249.96,58.38 L250.76,58.07 L251.57,57.72 L252.37,57.58 L253.17,56.96 L253.97,56.70 L254.78,56.48 L255.58,56.42 L256.38,56.05 L257.19,55.53 L257.99,55.21 L258.79,54.80 L259.59,54.54 L260.39,54.58 L261.20,54.25 L262.00,53.89 L262.80,53.62 L263.61,53.32 L264.41,52.99 L265.21,53.05 L266.01,53.00 L266.81,52.71 L267.62,52.48 L268.42,52.39 L269.22,51.94 L270.02,51.75 L270.83,51.74 L271.63,51.52 L272.43,51.38 L273.24,51.19 L274.04,50.82 L274.84,50.72 L275.64,50.49 L276.44,50.28 L277.25,49.86 L278.05,49.48 L278.85,49.23 L279.65,48.80 L280.46,48.40 L281.26,48.25 L282.06,47.56 L282.87,47.15 L283.67,47.07 L284.47,46.89 L285.27,46.65 L286.07,46.60 L286.88,46.37 L287.68,45.99 L288.48,45.89 L289.28,46.01 L290.09,45.71 L290.89,45.25 L291.69,45.12 L292.50,44.71 L293.30,44.35 L294.10,43.82 L294.90,44.11 L295.70,44.93 L296.51,45.66 L297.31,46.53 L298.11,47.57 L298.91,47.91 L299.72,48.79 L300.52,49.25 L301.32,50.09 L302.12,50.93 L302.93,51.56 L303.73,52.16 L304.53,52.62 L305.34,52.77 L306.14,53.45 L306.94,53.85 L307.74,54.53 L308.54,54.86 L309.35,54.98 L310.15,55.46 L310.95,55.64 L311.75,55.92 L312.56,56.18 L313.36,56.61 L314.16,56.88 L314.97,57.03 L315.77,57.47 L316.57,57.89 L317.37,58.03 L318.18,58.40 L318.98,58.75 L319.78,59.13 L320.58,59.33 L321.38,59.76 L322.19,59.97 L322.99,60.02 L323.79,60.09 L324.60,60.07 L325.40,60.44 L326.20,60.64 L327.00,61.16 L327.81,61.33 L328.61,61.32 L329.41,61.62 L330.21,61.88 L331.01,62.35 L331.82,62.81 L332.62,62.95 L333.42,63.42 L334.23,63.63 L335.03,63.58 L335.83,63.86 L336.63,64.17 L337.44,64.54 L338.24,64.43 L339.04,64.91 L339.84,65.20 L340.64,65.21 L341.45,65.40 L342.25,65.85 L343.05,66.24 L343.86,66.37 L344.66,66.46 L345.46,66.85 L346.26,66.73 L347.06,66.90 L347.87,67.06 L348.67,67.24 L349.47,67.59 L350.27,67.72 L351.08,67.96 L351.88,68.36 L352.68,68.80 L353.49,69.19 L354.29,69.38 L355.09,69.80 L355.89,70.03 L356.69,69.82 L357.50,69.87 L358.30,70.06 L359.10,70.16 L359.90,69.98 L360.71,70.12 L361.51,70.21 L362.31,70.27 L363.12,70.26 L363.92,70.89 L364.72,71.12 L365.52,71.51 L366.32,71.66 L367.13,71.90 L367.93,71.93 L368.73,72.49 L369.54,72.68 L370.34,72.99 L371.14,73.11 L371.94,73.51 L372.75,73.53 L373.55,73.77 L374.35,73.99 L375.15,74.21 L375.95,74.06 L376.76,74.26 L377.56,74.66 L378.36,74.84 L379.17,74.69 L379.97,74.99 L380.77,75.08 L381.57,75.48 L382.38,75.83 L383.18,76.13 L383.98,76.29 L384.78,76.24 L385.58,76.40 L386.39,76.73 L387.19,76.98 L387.99,77.11 L388.80,77.16 L389.60,77.27 L390.40,77.48" fill="none" stroke="#ff0000" stroke-width="3.6" stroke-linejoin="round" stroke-linecap="round"/>
<circle cx="101.50" cy="227.40" r="1.9" fill="#ff0000"/>
<polyline points="101.50,227.40 103.11,226.14 104.71,225.06 106.31,224.13 107.92,223.33 109.53,222.64 111.13,222.05 112.73,221.54 114.34,221.10 115.94,220.72 117.55,220.40 119.16,220.12 120.76,219.87 122.36,219.67 123.97,219.49 125.58,219.33 127.18,219.20 128.78,219.09 130.39,218.99 132.00,218.91 133.60,218.83 135.20,218.77 136.81,218.72 138.41,218.67 140.02,218.63 141.62,218.60 143.23,218.57 144.84,218.54 146.44,218.52 148.05,218.50 149.65,218.48 151.25,218.47 152.86,218.46 154.47,218.45 156.07,218.44 157.68,218.43 159.28,218.42 160.88,218.42 162.49,218.41 164.09,218.41 165.70,218.41 167.31,218.40 168.91,218.40 170.51,218.40 172.12,218.40 173.72,218.39 175.33,218.39 176.94,218.39 178.54,218.39 180.14,218.39 181.75,218.39 183.36,218.39 184.96,218.39 186.56,218.39 188.17,218.39 189.78,218.39 191.38,218.39 192.99,218.39 194.59,218.39 196.19,218.39 197.80,218.39 199.41,218.38 201.01,218.38 202.62,218.38 204.22,218.38 205.82,218.38 207.43,218.38 209.03,218.38 210.64,218.38 212.25,218.38 213.85,218.38 215.45,218.38 217.06,218.38 218.66,218.38 220.27,218.38 221.88,218.38 223.48,218.38 225.08,218.38 226.69,218.38 228.30,218.38 229.90,218.38 231.50,218.38 233.11,218.38 234.72,218.38 236.32,218.38 237.93,218.38 239.53,218.38 241.13,218.38 242.74,218.38 244.34,218.38 245.95,218.38 247.56,218.38 249.16,218.38 250.76,218.38 252.37,218.38 253.97,218.38 255.58,218.38 257.19,218.38 258.79,218.38 260.39,218.38 262.00,218.38 263.61,218.38 265.21,218.38 266.81,218.38 268.42,218.38 270.02,218.38 271.63,218.38 273.24,218.38 274.84,218.38 276.44,218.38 278.05,218.38 279.65,218.38 281.26,218.38 282.87,218.38 284.47,218.38 286.07,218.38 287.68,218.38 289.28,218.38 290.89,218.38 292.50,218.38 294.10,218.38 295.70,219.04 297.31,219.65 298.91,220.21 300.52,220.72 302.12,221.19 303.73,221.62 305.34,222.01 306.94,222.38 308.54,222.71 310.15,223.02 311.75,223.30 313.36,223.56 314.97,223.80 316.57,224.02 318.18,224.22 319.78,224.40 321.38,224.57 322.99,224.73 324.60,224.87 326.20,225.00 327.81,225.12 329.41,225.23 331.01,225.33 332.62,225.43 334.23,225.51 335.83,225.59 337.44,225.66 339.04,225.73 340.64,225.79 342.25,225.85 343.86,225.90 345.46,225.95 347.06,225.99 348.67,226.03 350.27,226.07 351.88,226.10 353.49,226.13 355.09,226.16 356.69,226.19 358.30,226.21 359.90,226.23 361.51,226.25 363.12,226.27 364.72,226.29 366.32,226.30 367.93,226.32 369.54,226.33 371.14,226.34 372.75,226.35 374.35,226.36 375.95,226.37 377.56,226.38 379.17,226.39 380.77,226.40 382.38,226.40 383.98,226.41 385.58,226.42 387.19,226.42 388.80,226.43 390.40,226.43" fill="none" stroke="#000" stroke-width="2.0" stroke-linejoin="round" stroke-linecap="round"/>
<polyline points="101.50,227.40 103.11,225.85 104.71,225.78 106.31,225.71 107.92,225.64 109.53,225.58 111.13,225.51 112.73,225.44 114.34,225.37 115.94,225.30 117.55,225.24 119.16,225.17 120.76,225.10 122.36,225.03 123.97,224.96 125.58,224.90 127.18,224.83 128.78,224.76 130.39,224.69 132.00,224.62 133.60,224.56 135.20,224.49 136.81,224.42 138.41,224.35 140.02,224.28 141.62,224.22 143.23,224.15 144.84,224.08 146.44,224.01 148.05,223.95 149.65,223.88 151.25,223.81 152.86,223.74 154.47,223.67 156.07,223.61 157.68,223.54 159.28,223.47 160.88,223.40 162.49,223.33 164.09,223.27 165.70,223.20 167.31,223.13 168.91,223.06 170.51,223.00 172.12,222.93 173.72,222.86 175.33,222.79 176.94,222.72 178.54,222.66 180.14,222.59 181.75,222.52 183.36,222.45 184.96,222.39 186.56,222.32 188.17,222.25 189.78,222.18 191.38,222.12 192.99,222.05 194.59,221.98 196.19,221.91 197.80,221.85 199.41,221.78 201.01,221.71 202.62,221.64 204.22,221.57 205.82,221.51 207.43,221.44 209.03,221.37 210.64,221.30 212.25,221.24 213.85,221.17 215.45,221.10 217.06,221.03 218.66,220.97 220.27,220.90 221.88,220.83 223.48,220.76 225.08,220.70 226.69,220.63 228.30,220.56 229.90,220.49 231.50,220.43 233.11,220.36 234.72,220.29 236.32,220.23 237.93,220.16 239.53,220.09 241.13,220.02 242.74,219.96 244.34,219.89 245.95,219.82 247.56,219.75 249.16,219.69 250.76,219.62 252.37,219.55 253.97,219.48 255.58,219.42 257.19,219.35 258.79,219.28 260.39,219.21 262.00,219.15 263.61,219.08 265.21,219.01 266.81,218.95 268.42,218.88 270.02,218.81 271.63,218.74 273.24,218.68 274.84,218.61 276.44,218.54 278.05,218.48 279.65,218.41 281.26,218.34 282.87,218.27 284.47,218.21 286.07,218.14 287.68,218.07 289.28,218.01 290.89,217.94 292.50,217.87 294.10,217.80 295.70,217.51 297.31,217.55 298.91,217.60 300.52,217.64 302.12,217.68 303.73,217.72 305.34,217.76 306.94,217.80 308.54,217.84 310.15,217.88 311.75,217.91 313.36,217.95 314.97,217.98 316.57,218.02 318.18,218.05 319.78,218.08 321.38,218.11 322.99,218.14 324.60,218.17 326.20,218.20 327.81,218.23 329.41,218.26 331.01,218.28 332.62,218.31 334.23,218.33 335.83,218.36 337.44,218.38 339.04,218.41 340.64,218.43 342.25,218.45 343.86,218.48 345.46,218.50 347.06,218.52 348.67,218.54 350.27,218.56 351.88,218.58 353.49,218.60 355.09,218.62 356.69,218.64 358.30,218.65 359.90,218.67 361.51,218.69 363.12,218.71 364.72,218.72 366.32,218.74 367.93,218.75 369.54,218.77 371.14,218.78 372.75,218.80 374.35,218.81 375.95,218.83 377.56,218.84 379.17,218.85 380.77,218.87 382.38,218.88 383.98,218.89 385.58,218.90 387.19,218.91 388.80,218.92 390.40,218.94" fill="none" stroke="#000" stroke-width="2.0" stroke-linejoin="round" stroke-linecap="round"/>
<polyline points="101.50,227.40 103.11,226.68 104.71,225.96 106.31,225.25 107.92,224.55 109.53,223.86 111.13,223.17 112.73,222.49 114.34,221.82 115.94,221.15 117.55,220.49 119.16,219.84 120.76,219.20 122.36,218.56 123.97,217.92 125.58,217.30 127.18,216.68 128.78,216.06 130.39,215.46 132.00,214.85 133.60,214.26 135.20,213.67 136.81,213.09 138.41,212.51 140.02,211.94 141.62,211.37 143.23,210.81 144.84,210.26 146.44,209.71 148.05,209.17 149.65,208.63 151.25,208.10 152.86,207.57 154.47,207.05 156.07,206.53 157.68,206.02 159.28,205.52 160.88,205.02 162.49,204.52 164.09,204.03 165.70,203.54 167.31,203.06 168.91,202.59 170.51,202.12 172.12,201.65 173.72,201.19 175.33,200.73 176.94,200.28 178.54,199.83 180.14,199.39 181.75,198.95 183.36,198.52 184.96,198.09 186.56,197.66 188.17,197.24 189.78,196.83 191.38,196.41 192.99,196.01 194.59,195.60 196.19,195.20 197.80,194.81 199.41,194.41 201.01,194.03 202.62,193.64 204.22,193.26 205.82,192.89 207.43,192.51 209.03,192.14 210.64,191.78 212.25,191.42 213.85,191.06 215.45,190.71 217.06,190.36 218.66,190.01 220.27,189.67 221.88,189.33 223.48,188.99 225.08,188.66 226.69,188.33 228.30,188.00 229.90,187.68 231.50,187.36 233.11,187.04 234.72,186.73 236.32,186.42 237.93,186.11 239.53,185.81 241.13,185.51 242.74,185.21 244.34,184.92 245.95,184.63 247.56,184.34 249.16,184.05 250.76,183.77 252.37,183.49 253.97,183.21 255.58,182.94 257.19,182.67 258.79,182.40 260.39,182.13 262.00,181.87 263.61,181.61 265.21,181.35 266.81,181.10 268.42,180.84 270.02,180.59 271.63,180.34 273.24,180.10 274.84,179.86 276.44,179.62 278.05,179.38 279.65,179.14 281.26,178.91 282.87,178.68 284.47,178.45 286.07,178.23 287.68,178.00 289.28,177.78 290.89,177.56 292.50,177.35 294.10,177.13 295.70,177.21 297.31,177.29 298.91,177.37 300.52,177.45 302.12,177.53 303.73,177.60 305.34,177.68 306.94,177.75 308.54,177.82 310.15,177.89 311.75,177.96 313.36,178.03 314.97,178.10 316.57,178.16 318.18,178.23 319.78,178.29 321.38,178.35 322.99,178.41 324.60,178.47 326.20,178.53 327.81,178.59 329.41,178.64 331.01,178.70 332.62,178.75 334.23,178.81 335.83,178.86 337.44,178.91 339.04,178.96 340.64,179.01 342.25,179.06 343.86,179.11 345.46,179.16 347.06,179.20 348.67,179.25 350.27,179.29 351.88,179.34 353.49,179.38 355.09,179.42 356.69,179.47 358.30,179.51 359.90,179.55 361.51,179.59 363.12,179.62 364.72,179.66 366.32,179.70 367.93,179.74 369.54,179.77 371.14,179.81 372.75,179.84 374.35,179.88 375.95,179.91 377.56,179.94 379.17,179.98 380.77,180.01 382.38,180.04 383.98,180.07 385.58,180.10 387.19,180.13 388.80,180.16 390.40,180.19" fill="none" stroke="#000" stroke-width="2.0" stroke-linejoin="round" stroke-linecap="round"/>
<polyline points="101.50,227.40 103.11,225.21 104.71,223.06 106.31,220.95 107.92,218.87 109.53,216.83 111.13,214.82 112.73,212.85 114.34,210.91 115.94,209.00 117.55,207.13 119.16,205.28 120.76,203.47 122.36,201.69 123.97,199.94 125.58,198.22 127.18,196.53 128.78,194.86 130.39,193.23 132.00,191.62 133.60,190.04 135.20,188.49 136.81,186.96 138.41,185.46 140.02,183.98 141.62,182.53 143.23,181.11 144.84,179.70 146.44,178.32 148.05,176.97 149.65,175.64 151.25,174.33 152.86,173.04 154.47,171.78 156.07,170.53 157.68,169.31 159.28,168.11 160.88,166.93 162.49,165.77 164.09,164.62 165.70,163.50 167.31,162.40 168.91,161.31 170.51,160.25 172.12,159.20 173.72,158.17 175.33,157.15 176.94,156.16 178.54,155.18 180.14,154.22 181.75,153.27 183.36,152.34 184.96,151.43 186.56,150.53 188.17,149.64 189.78,148.78 191.38,147.92 192.99,147.08 194.59,146.26 196.19,145.45 197.80,144.65 199.41,143.86 201.01,143.09 202.62,142.34 204.22,141.59 205.82,140.86 207.43,140.14 209.03,139.43 210.64,138.74 212.25,138.05 213.85,137.38 215.45,136.72 217.06,136.07 218.66,135.43 220.27,134.81 221.88,134.19 223.48,133.58 225.08,132.99 226.69,132.40 228.30,131.82 229.90,131.26 231.50,130.70 233.11,130.15 234.72,129.62 236.32,129.09 237.93,128.57 239.53,128.05 241.13,127.55 242.74,127.06 244.34,126.57 245.95,126.10 247.56,125.63 249.16,125.16 250.76,124.71 252.37,124.27 253.97,123.83 255.58,123.40 257.19,122.97 258.79,122.56 260.39,122.15 262.00,121.74 263.61,121.35 265.21,120.96 266.81,120.58 268.42,120.20 270.02,119.83 271.63,119.47 273.24,119.11 274.84,118.76 276.44,118.42 278.05,118.08 279.65,117.74 281.26,117.42 282.87,117.09 284.47,116.78 286.07,116.47 287.68,116.16 289.28,115.86 290.89,115.56 292.50,115.27 294.10,114.99 295.70,115.46 297.31,115.92 298.91,116.39 300.52,116.85 302.12,117.31 303.73,117.77 305.34,118.22 306.94,118.68 308.54,119.13 310.15,119.57 311.75,120.02 313.36,120.46 314.97,120.90 316.57,121.34 318.18,121.78 319.78,122.21 321.38,122.65 322.99,123.08 324.60,123.50 326.20,123.93 327.81,124.35 329.41,124.77 331.01,125.19 332.62,125.61 334.23,126.02 335.83,126.43 337.44,126.84 339.04,127.25 340.64,127.66 342.25,128.06 343.86,128.46 345.46,128.86 347.06,129.26 348.67,129.66 350.27,130.05 351.88,130.44 353.49,130.83 355.09,131.22 356.69,131.60 358.30,131.99 359.90,132.37 361.51,132.75 363.12,133.12 364.72,133.50 366.32,133.87 367.93,134.24 369.54,134.61 371.14,134.98 372.75,135.35 374.35,135.71 375.95,136.07 377.56,136.43 379.17,136.79 380.77,137.15 382.38,137.50 383.98,137.86 385.58,138.21 387.19,138.55 388.80,138.90 390.40,139.25" fill="none" stroke="#000" stroke-width="2.0" stroke-linejoin="round" stroke-linecap="round"/>
<polyline points="101.50,227.40 103.11,225.58 104.71,220.23 106.31,214.93 107.92,209.81 109.53,204.86 111.13,200.07 112.73,195.46 114.34,190.99 115.94,186.68 117.55,182.52 119.16,178.49 120.76,174.61 122.36,170.85 123.97,167.22 125.58,163.72 127.18,160.33 128.78,157.06 130.39,153.90 132.00,150.85 133.60,147.90 135.20,145.05 136.81,142.30 138.41,139.64 140.02,137.07 141.62,134.59 143.23,132.19 144.84,129.87 146.44,127.64 148.05,125.47 149.65,123.39 151.25,121.37 152.86,119.42 154.47,117.54 156.07,115.72 157.68,113.96 159.28,112.26 160.88,110.62 162.49,109.04 164.09,107.51 165.70,106.03 167.31,104.60 168.91,103.22 170.51,101.89 172.12,100.60 173.72,99.35 175.33,98.15 176.94,96.99 178.54,95.87 180.14,94.78 181.75,93.74 183.36,92.73 184.96,91.75 186.56,90.80 188.17,89.89 189.78,89.01 191.38,88.16 192.99,87.34 194.59,86.54 196.19,85.78 197.80,85.03 199.41,84.32 201.01,83.63 202.62,82.96 204.22,82.31 205.82,81.69 207.43,81.08 209.03,80.50 210.64,79.94 212.25,79.40 213.85,78.87 215.45,78.36 217.06,77.87 218.66,77.40 220.27,76.94 221.88,76.50 223.48,76.07 225.08,75.66 226.69,75.26 228.30,74.88 229.90,74.51 231.50,74.15 233.11,73.80 234.72,73.47 236.32,73.14 237.93,72.83 239.53,72.53 241.13,72.23 242.74,71.95 244.34,71.68 245.95,71.42 247.56,71.16 249.16,70.92 250.76,70.68 252.37,70.45 253.97,70.23 255.58,70.01 257.19,69.81 258.79,69.61 260.39,69.41 262.00,69.23 263.61,69.05 265.21,68.87 266.81,68.71 268.42,68.54 270.02,68.39 271.63,68.24 273.24,68.09 274.84,67.95 276.44,67.81 278.05,67.68 279.65,67.55 281.26,67.43 282.87,67.31 284.47,67.19 286.07,67.08 287.68,66.98 289.28,66.87 290.89,66.77 292.50,66.68 294.10,66.58 295.70,69.98 297.31,70.56 298.91,71.09 300.52,71.63 302.12,72.16 303.73,72.69 305.34,73.23 306.94,73.76 308.54,74.29 310.15,74.82 311.75,75.35 313.36,75.88 314.97,76.41 316.57,76.94 318.18,77.47 319.78,78.00 321.38,78.53 322.99,79.05 324.60,79.58 326.20,80.11 327.81,80.63 329.41,81.16 331.01,81.68 332.62,82.20 334.23,82.73 335.83,83.25 337.44,83.77 339.04,84.29 340.64,84.82 342.25,85.34 343.86,85.86 345.46,86.38 347.06,86.89 348.67,87.41 350.27,87.93 351.88,88.45 353.49,88.97 355.09,89.48 356.69,90.00 358.30,90.51 359.90,91.03 361.51,91.54 363.12,92.06 364.72,92.57 366.32,93.08 367.93,93.59 369.54,94.11 371.14,94.62 372.75,95.13 374.35,95.64 375.95,96.15 377.56,96.66 379.17,97.16 380.77,97.67 382.38,98.18 383.98,98.69 385.58,99.19 387.19,99.70 388.80,100.20 390.40,100.71" fill="none" stroke="#000" stroke-width="2.0" stroke-linejoin="round" stroke-linecap="round"/>
<polyline points="101.50,227.40 103.11,220.07 104.71,213.11 106.31,206.51 107.92,200.25 109.53,194.30 111.13,188.64 112.73,183.26 114.34,178.14 115.94,173.26 117.55,168.62 119.16,164.18 120.76,159.96 122.36,155.92 123.97,152.06 125.58,148.38 127.18,144.86 128.78,141.48 130.39,138.25 132.00,135.16 133.60,132.20 135.20,129.36 136.81,126.63 138.41,124.01 140.02,121.50 141.62,119.08 143.23,116.76 144.84,114.53 146.44,112.38 148.05,110.32 149.65,108.32 151.25,106.41 152.86,104.56 154.47,102.78 156.07,101.06 157.68,99.40 159.28,97.80 160.88,96.26 162.49,94.77 164.09,93.33 165.70,91.93 167.31,90.59 168.91,89.29 170.51,88.03 172.12,86.81 173.72,85.64 175.33,84.50 176.94,83.39 178.54,82.33 180.14,81.29 181.75,80.29 183.36,79.32 184.96,78.38 186.56,77.47 188.17,76.59 189.78,75.73 191.38,74.90 192.99,74.09 194.59,73.31 196.19,72.56 197.80,71.82 199.41,71.11 201.01,70.42 202.62,69.74 204.22,69.09 205.82,68.46 207.43,67.85 209.03,67.25 210.64,66.67 212.25,66.11 213.85,65.56 215.45,65.03 217.06,64.52 218.66,64.02 220.27,63.53 221.88,63.06 223.48,62.60 225.08,62.15 226.69,61.72 228.30,61.30 229.90,60.89 231.50,60.49 233.11,60.11 234.72,59.73 236.32,59.37 237.93,59.01 239.53,58.67 241.13,58.33 242.74,58.01 244.34,57.69 245.95,57.38 247.56,57.08 249.16,56.79 250.76,56.51 252.37,56.23 253.97,55.97 255.58,55.71 257.19,55.45 258.79,55.21 260.39,54.97 262.00,54.74 263.61,54.51 265.21,54.29 266.81,54.08 268.42,53.87 270.02,53.67 271.63,53.47 273.24,53.28 274.84,53.09 276.44,52.91 278.05,52.74 279.65,52.57 281.26,52.40 282.87,52.24 284.47,52.08 286.07,51.93 287.68,51.78 289.28,51.64 290.89,51.50 292.50,51.36 294.10,51.23 295.70,51.94 297.31,52.37 298.91,52.80 300.52,53.23 302.12,53.66 303.73,54.09 305.34,54.53 306.94,54.96 308.54,55.40 310.15,55.83 311.75,56.27 313.36,56.71 314.97,57.15 316.57,57.59 318.18,58.03 319.78,58.48 321.38,58.92 322.99,59.37 324.60,59.81 326.20,60.26 327.81,60.71 329.41,61.16 331.01,61.61 332.62,62.06 334.23,62.52 335.83,62.97 337.44,63.42 339.04,63.88 340.64,64.34 342.25,64.79 343.86,65.25 345.46,65.71 347.06,66.17 348.67,66.63 350.27,67.09 351.88,67.56 353.49,68.02 355.09,68.48 356.69,68.95 358.30,69.41 359.90,69.88 361.51,70.35 363.12,70.82 364.72,71.29 366.32,71.76 367.93,72.23 369.54,72.70 371.14,73.17 372.75,73.64 374.35,74.12 375.95,74.59 377.56,75.06 379.17,75.54 380.77,76.02 382.38,76.49 383.98,76.97 385.58,77.45 387.19,77.93 388.80,78.41 390.40,78.89" fill="none" stroke="#000" stroke-width="2.0" stroke-linejoin="round" stroke-linecap="round"/>
<path d="M101.50,498.10 L102.30,497.57 L103.11,496.84 L103.91,496.43 L104.71,495.79 L105.51,495.31 L106.31,494.76 L107.12,494.24 L107.92,494.33 L108.72,494.09 L109.53,493.99 L110.33,494.24 L111.13,494.07 L111.93,494.23 L112.73,494.28 L113.54,494.34 L114.34,494.73 L115.14,494.51 L115.94,494.64 L116.75,494.73 L117.55,495.00 L118.35,494.75 L119.16,494.45 L119.96,494.53 L120.76,494.67 L121.56,494.69 L122.36,494.72 L123.17,494.65 L123.97,494.45 L124.77,494.08 L125.58,494.40 L126.38,494.70 L127.18,494.60 L127.98,494.77 L128.78,494.56 L129.59,494.51 L130.39,494.66 L131.19,494.64 L132.00,494.66 L132.80,494.40 L133.60,494.28 L134.40,494.33 L135.20,494.05 L136.01,493.85 L136.81,493.86 L137.61,493.63 L138.41,493.88 L139.22,493.84 L140.02,493.99 L140.82,493.91 L141.62,493.87 L142.43,493.80 L143.23,493.96 L144.03,494.02 L144.84,494.09 L145.64,493.75 L146.44,493.90 L147.24,493.81 L148.05,493.61 L148.85,493.67 L149.65,493.69 L150.45,493.65 L151.25,493.41 L152.06,493.26 L152.86,493.65 L153.66,493.53 L154.47,493.50 L155.27,493.57 L156.07,493.49 L156.87,493.36 L157.68,493.33 L158.48,493.75 L159.28,493.98 L160.08,494.03 L160.88,493.81 L161.69,493.87 L162.49,494.00 L163.29,494.26 L164.09,494.57 L164.90,494.67 L165.70,494.57 L166.50,494.55 L167.31,494.37 L168.11,494.34 L168.91,494.41 L169.71,494.59 L170.51,494.46 L171.32,494.45 L172.12,494.53 L172.92,494.51 L173.72,494.62 L174.53,494.57 L175.33,494.78 L176.13,494.90 L176.94,494.46 L177.74,494.17 L178.54,494.37 L179.34,494.41 L180.14,494.25 L180.95,493.93 L181.75,493.67 L182.55,493.96 L183.36,493.93 L184.16,494.25 L184.96,494.40 L185.76,494.31 L186.56,494.20 L187.37,494.27 L188.17,494.35 L188.97,494.75 L189.78,494.48 L190.58,494.32 L191.38,494.31 L192.18,494.21 L192.99,494.10 L193.79,493.96 L194.59,494.10 L195.39,493.96 L196.19,493.57 L197.00,493.70 L197.80,493.66 L198.60,493.56 L199.41,493.86 L200.21,493.71 L201.01,493.82 L201.81,493.85 L202.62,494.05 L203.42,494.15 L204.22,494.06 L205.02,494.19 L205.82,494.01 L206.63,494.01 L207.43,494.06 L208.23,493.99 L209.03,493.77 L209.84,494.02 L210.64,494.17 L211.44,494.17 L212.25,494.10 L213.05,494.22 L213.85,494.02 L214.65,494.04 L215.45,494.15 L216.26,494.12 L217.06,493.71 L217.86,493.91 L218.66,493.60 L219.47,493.64 L220.27,493.62 L221.07,493.90 L221.88,493.98 L222.68,494.17 L223.48,494.16 L224.28,494.21 L225.08,493.95 L225.89,494.26 L226.69,494.14 L227.49,494.36 L228.30,494.22 L229.10,494.26 L229.90,493.98 L230.70,494.12 L231.50,494.40 L232.31,494.36 L233.11,494.27 L233.91,494.13 L234.72,494.08 L235.52,493.95 L236.32,493.58 L237.12,493.73 L237.93,493.78 L238.73,493.54 L239.53,493.66 L240.33,493.72 L241.13,493.97 L241.94,494.00 L242.74,493.94 L243.54,494.26 L244.34,494.35 L245.15,494.34 L245.95,494.43 L246.75,494.32 L247.56,494.20 L248.36,493.91 L249.16,493.96 L249.96,494.11 L250.76,494.30 L251.57,494.14 L252.37,494.04 L253.17,494.11 L253.97,494.27 L254.78,494.52 L255.58,494.95 L256.38,494.71 L257.19,494.43 L257.99,494.35 L258.79,494.17 L259.59,494.25 L260.39,494.35 L261.20,494.16 L262.00,493.93 L262.80,493.69 L263.61,493.81 L264.41,493.84 L265.21,493.73 L266.01,493.87 L266.81,493.77 L267.62,493.71 L268.42,494.02 L269.22,494.35 L270.02,494.46 L270.83,494.38 L271.63,494.83 L272.43,494.89 L273.24,494.77 L274.04,495.10 L274.84,494.92 L275.64,494.63 L276.44,494.31 L277.25,494.45 L278.05,494.45 L278.85,494.40 L279.65,494.14 L280.46,494.45 L281.26,494.17 L282.06,494.33 L282.87,494.36 L283.67,494.67 L284.47,494.44 L285.27,494.41 L286.07,494.23 L286.88,494.19 L287.68,494.03 L288.48,493.98 L289.28,493.81 L290.09,493.58 L290.89,493.46 L291.69,493.54 L292.50,493.64 L293.30,493.56 L294.10,493.74 L294.90,494.26 L295.70,494.89 L296.51,495.56 L297.31,496.33 L298.11,496.76 L298.91,497.62 L299.72,497.88 L300.52,498.23 L301.32,498.31 L302.12,498.38 L302.93,498.45 L303.73,498.57" fill="none" stroke="#f0007a" stroke-width="3.6" stroke-linejoin="round" stroke-linecap="round"/>
<path d="M101.50,498.10 L102.30,496.67 L103.11,496.19 L103.91,495.37 L104.71,494.98 L105.51,494.23 L106.31,493.52 L107.12,492.73 L107.92,492.40 L108.72,491.97 L109.53,491.38 L110.33,490.71 L111.13,490.36 L111.93,489.77 L112.73,489.60 L113.54,489.65 L114.34,489.72 L115.14,489.56 L115.94,489.12 L116.75,489.09 L117.55,488.90 L118.35,488.92 L119.16,488.89 L119.96,488.40 L120.76,487.93 L121.56,487.79 L122.36,487.43 L123.17,487.51 L123.97,487.22 L124.77,487.14 L125.58,486.65 L126.38,486.34 L127.18,486.30 L127.98,486.03 L128.78,485.88 L129.59,485.83 L130.39,485.78 L131.19,485.53 L132.00,485.28 L132.80,485.42 L133.60,485.18 L134.40,485.33 L135.20,485.28 L136.01,485.29 L136.81,485.28 L137.61,484.98 L138.41,484.75 L139.22,484.80 L140.02,484.75 L140.82,484.91 L141.62,484.34 L142.43,484.21 L143.23,483.88 L144.03,483.38 L144.84,483.22 L145.64,483.52 L146.44,483.33 L147.24,483.24 L148.05,482.75 L148.85,483.05 L149.65,482.98 L150.45,482.99 L151.25,483.19 L152.06,483.12 L152.86,482.78 L153.66,482.71 L154.47,482.62 L155.27,482.85 L156.07,482.71 L156.87,482.77 L157.68,482.60 L158.48,482.48 L159.28,482.34 L160.08,482.27 L160.88,481.87 L161.69,481.73 L162.49,481.69 L163.29,481.36 L164.09,481.26 L164.90,481.18 L165.70,480.96 L166.50,480.96 L167.31,480.90 L168.11,480.94 L168.91,480.74 L169.71,480.61 L170.51,480.81 L171.32,480.70 L172.12,480.84 L172.92,481.00 L173.72,481.05 L174.53,480.91 L175.33,480.87 L176.13,480.92 L176.94,480.85 L177.74,480.77 L178.54,480.83 L179.34,480.63 L180.14,480.40 L180.95,480.15 L181.75,480.06 L182.55,480.13 L183.36,480.32 L184.16,480.10 L184.96,479.75 L185.76,479.43 L186.56,479.21 L187.37,479.10 L188.17,478.78 L188.97,478.76 L189.78,478.49 L190.58,478.01 L191.38,477.99 L192.18,478.12 L192.99,478.22 L193.79,478.41 L194.59,478.43 L195.39,478.74 L196.19,478.87 L197.00,479.11 L197.80,479.30 L198.60,479.15 L199.41,479.12 L200.21,479.02 L201.01,478.99 L201.81,479.15 L202.62,478.94 L203.42,478.79 L204.22,478.63 L205.02,478.23 L205.82,478.13 L206.63,477.98 L207.43,477.90 L208.23,477.69 L209.03,477.57 L209.84,477.41 L210.64,477.50 L211.44,477.50 L212.25,477.92 L213.05,478.28 L213.85,478.29 L214.65,478.26 L215.45,478.21 L216.26,478.19 L217.06,478.48 L217.86,478.37 L218.66,478.38 L219.47,477.98 L220.27,477.63 L221.07,477.60 L221.88,477.69 L222.68,477.81 L223.48,477.71 L224.28,477.62 L225.08,477.75 L225.89,477.51 L226.69,477.62 L227.49,477.81 L228.30,477.94 L229.10,477.95 L229.90,477.71 L230.70,477.84 L231.50,477.77 L232.31,477.45 L233.11,477.37 L233.91,477.28 L234.72,477.22 L235.52,477.15 L236.32,476.92 L237.12,476.88 L237.93,476.80 L238.73,476.72 L239.53,476.79 L240.33,477.19 L241.13,477.36 L241.94,477.24 L242.74,477.00 L243.54,477.00 L244.34,477.12 L245.15,477.14 L245.95,477.13 L246.75,477.05 L247.56,477.03 L248.36,476.82 L249.16,476.98 L249.96,477.06 L250.76,477.06 L251.57,476.93 L252.37,476.70 L253.17,476.66 L253.97,476.81 L254.78,476.72 L255.58,476.66 L256.38,476.50 L257.19,476.76 L257.99,477.05 L258.79,477.01 L259.59,476.86 L260.39,476.83 L261.20,476.72 L262.00,476.55 L262.80,476.99 L263.61,477.15 L264.41,476.83 L265.21,476.47 L266.01,476.82 L266.81,476.93 L267.62,476.95 L268.42,476.80 L269.22,476.84 L270.02,476.51 L270.83,476.50 L271.63,476.57 L272.43,476.56 L273.24,476.41 L274.04,476.49 L274.84,476.61 L275.64,476.59 L276.44,476.43 L277.25,476.71 L278.05,476.51 L278.85,476.42 L279.65,476.58 L280.46,476.49 L281.26,476.54 L282.06,476.60 L282.87,476.73 L283.67,476.65 L284.47,476.30 L285.27,476.17 L286.07,476.16 L286.88,475.94 L287.68,475.89 L288.48,475.77 L289.28,475.38 L290.09,475.18 L290.89,475.32 L291.69,475.46 L292.50,475.74 L293.30,475.82 L294.10,475.91 L294.90,476.11 L295.70,476.53 L296.51,477.06 L297.31,477.53 L298.11,477.95 L298.91,477.90 L299.72,477.98 L300.52,478.47 L301.32,478.88 L302.12,478.84 L302.93,479.07 L303.73,479.35 L304.53,479.64 L305.34,479.84 L306.14,480.41 L306.94,480.87 L307.74,480.85 L308.54,481.32 L309.35,481.71 L310.15,481.83 L310.95,482.14 L311.75,482.47 L312.56,482.41 L313.36,482.41 L314.16,482.49 L314.97,482.80 L315.77,482.67 L316.57,482.78 L317.37,483.12 L318.18,483.27 L318.98,483.22 L319.78,483.66 L320.58,484.14 L321.38,484.42 L322.19,484.49 L322.99,484.72 L323.79,485.10 L324.60,485.02 L325.40,485.00 L326.20,485.24 L327.00,485.36 L327.81,485.20 L328.61,484.99 L329.41,485.18 L330.21,485.12 L331.01,485.00 L331.82,485.25 L332.62,485.54 L333.42,485.81 L334.23,485.83 L335.03,486.00 L335.83,486.17 L336.63,486.26 L337.44,486.24 L338.24,486.24 L339.04,486.18 L339.84,486.17 L340.64,485.85 L341.45,485.95 L342.25,486.01 L343.05,486.06 L343.86,486.27 L344.66,486.63 L345.46,486.50 L346.26,486.94 L347.06,487.03 L347.87,487.21 L348.67,487.10 L349.47,487.25 L350.27,487.42 L351.08,487.41 L351.88,487.39 L352.68,487.55 L353.49,487.40 L354.29,487.40 L355.09,487.48 L355.89,487.70 L356.69,487.68 L357.50,487.79 L358.30,487.83 L359.10,487.77 L359.90,488.08 L360.71,488.06 L361.51,487.86 L362.31,487.78 L363.12,487.58 L363.92,487.77 L364.72,487.76 L365.52,487.79 L366.32,488.01 L367.13,488.13 L367.93,488.45 L368.73,488.65 L369.54,488.80 L370.34,488.98 L371.14,488.77 L371.94,488.76 L372.75,488.80 L373.55,488.78 L374.35,488.53 L375.15,488.29 L375.95,488.48 L376.76,488.67 L377.56,488.91 L378.36,488.90 L379.17,488.97 L379.97,488.96 L380.77,489.08 L381.57,489.16 L382.38,489.56 L383.18,489.59 L383.98,489.64 L384.78,489.70 L385.58,489.91 L386.39,489.97 L387.19,489.62 L387.99,489.56 L388.80,489.57 L389.60,489.51 L390.40,489.73" fill="none" stroke="#00e0e0" stroke-width="3.6" stroke-linejoin="round" stroke-linecap="round"/>
<path d="M101.50,498.10 L102.30,496.82 L103.11,496.13 L103.91,494.85 L104.71,493.69 L105.51,492.95 L106.31,491.95 L107.12,490.80 L107.92,490.09 L108.72,489.32 L109.53,488.63 L110.33,487.76 L111.13,486.93 L111.93,486.31 L112.73,485.61 L113.54,484.76 L114.34,483.89 L115.14,483.01 L115.94,482.22 L116.75,481.42 L117.55,480.70 L118.35,480.36 L119.16,479.72 L119.96,478.96 L120.76,478.55 L121.56,477.96 L122.36,477.78 L123.17,477.21 L123.97,476.89 L124.77,476.42 L125.58,475.75 L126.38,475.29 L127.18,474.94 L127.98,474.41 L128.78,474.10 L129.59,473.33 L130.39,472.80 L131.19,472.34 L132.00,472.06 L132.80,471.73 L133.60,471.27 L134.40,470.78 L135.20,470.68 L136.01,470.56 L136.81,470.47 L137.61,470.44 L138.41,470.00 L139.22,469.54 L140.02,469.15 L140.82,468.97 L141.62,468.52 L142.43,468.09 L143.23,467.54 L144.03,467.21 L144.84,466.77 L145.64,466.47 L146.44,466.14 L147.24,465.85 L148.05,465.69 L148.85,465.63 L149.65,465.19 L150.45,465.02 L151.25,464.79 L152.06,464.67 L152.86,464.69 L153.66,464.58 L154.47,464.38 L155.27,464.06 L156.07,463.95 L156.87,464.10 L157.68,464.12 L158.48,463.63 L159.28,463.50 L160.08,463.26 L160.88,463.20 L161.69,463.21 L162.49,463.18 L163.29,463.02 L164.09,462.60 L164.90,462.42 L165.70,462.53 L166.50,462.35 L167.31,462.15 L168.11,462.06 L168.91,461.91 L169.71,461.87 L170.51,462.01 L171.32,462.26 L172.12,462.18 L172.92,462.29 L173.72,462.23 L174.53,462.08 L175.33,462.05 L176.13,461.95 L176.94,461.72 L177.74,461.49 L178.54,461.35 L179.34,461.09 L180.14,460.80 L180.95,460.73 L181.75,460.81 L182.55,460.59 L183.36,460.74 L184.16,460.67 L184.96,460.47 L185.76,460.05 L186.56,460.20 L187.37,460.30 L188.17,460.18 L188.97,460.17 L189.78,460.16 L190.58,459.92 L191.38,459.91 L192.18,459.90 L192.99,460.01 L193.79,459.99 L194.59,459.75 L195.39,459.99 L196.19,459.65 L197.00,459.42 L197.80,459.45 L198.60,459.23 L199.41,459.19 L200.21,459.14 L201.01,458.79 L201.81,458.77 L202.62,458.44 L203.42,458.53 L204.22,458.62 L205.02,458.55 L205.82,458.76 L206.63,458.93 L207.43,458.74 L208.23,458.69 L209.03,458.88 L209.84,458.79 L210.64,458.80 L211.44,459.02 L212.25,459.04 L213.05,458.90 L213.85,458.41 L214.65,458.44 L215.45,458.34 L216.26,458.09 L217.06,457.98 L217.86,458.12 L218.66,457.73 L219.47,457.50 L220.27,457.62 L221.07,457.77 L221.88,457.69 L222.68,457.58 L223.48,457.41 L224.28,457.59 L225.08,457.43 L225.89,457.54 L226.69,457.45 L227.49,457.37 L228.30,457.51 L229.10,457.88 L229.90,458.08 L230.70,458.18 L231.50,458.14 L232.31,458.20 L233.11,458.14 L233.91,458.10 L234.72,458.14 L235.52,457.99 L236.32,457.73 L237.12,457.69 L237.93,457.56 L238.73,457.36 L239.53,457.21 L240.33,456.98 L241.13,456.99 L241.94,456.76 L242.74,456.70 L243.54,456.86 L244.34,456.87 L245.15,457.12 L245.95,457.35 L246.75,457.40 L247.56,457.79 L248.36,458.03 L249.16,458.12 L249.96,458.09 L250.76,457.97 L251.57,457.92 L252.37,457.60 L253.17,457.34 L253.97,457.44 L254.78,457.44 L255.58,457.43 L256.38,457.46 L257.19,457.75 L257.99,457.91 L258.79,458.17 L259.59,458.44 L260.39,458.36 L261.20,457.99 L262.00,457.88 L262.80,457.82 L263.61,457.87 L264.41,457.82 L265.21,457.61 L266.01,457.38 L266.81,457.38 L267.62,457.48 L268.42,457.73 L269.22,457.46 L270.02,457.46 L270.83,457.18 L271.63,456.99 L272.43,456.96 L273.24,456.88 L274.04,456.96 L274.84,457.13 L275.64,457.09 L276.44,457.26 L277.25,457.15 L278.05,457.36 L278.85,457.49 L279.65,457.51 L280.46,457.55 L281.26,457.47 L282.06,457.22 L282.87,457.11 L283.67,456.96 L284.47,456.88 L285.27,456.88 L286.07,456.43 L286.88,456.50 L287.68,456.47 L288.48,456.27 L289.28,456.36 L290.09,456.41 L290.89,456.61 L291.69,456.74 L292.50,456.61 L293.30,456.70 L294.10,456.68 L294.90,457.79 L295.70,458.82 L296.51,459.79 L297.31,460.78 L298.11,461.54 L298.91,462.52 L299.72,463.27 L300.52,464.13 L301.32,464.80 L302.12,465.48 L302.93,466.12 L303.73,466.83 L304.53,467.22 L305.34,467.82 L306.14,467.82 L306.94,468.46 L307.74,469.09 L308.54,469.56 L309.35,470.04 L310.15,470.36 L310.95,470.66 L311.75,471.21 L312.56,471.28 L313.36,471.83 L314.16,472.08 L314.97,472.33 L315.77,472.78 L316.57,473.12 L317.37,473.36 L318.18,473.81 L318.98,474.23 L319.78,474.73 L320.58,475.44 L321.38,475.49 L322.19,475.92 L322.99,476.07 L323.79,476.34 L324.60,476.64 L325.40,476.67 L326.20,476.96 L327.00,477.41 L327.81,477.30 L328.61,477.95 L329.41,478.00 L330.21,478.22 L331.01,478.29 L331.82,478.49 L332.62,479.05 L333.42,478.94 L334.23,478.83 L335.03,479.13 L335.83,479.11 L336.63,479.40 L337.44,479.51 L338.24,479.72 L339.04,479.86 L339.84,479.52 L340.64,479.77 L341.45,480.11 L342.25,480.04 L343.05,480.46 L343.86,480.63 L344.66,480.65 L345.46,480.56 L346.26,480.97 L347.06,481.27 L347.87,481.51 L348.67,481.55 L349.47,481.81 L350.27,481.69 L351.08,481.59 L351.88,481.81 L352.68,482.15 L353.49,482.20 L354.29,482.49 L355.09,482.44 L355.89,482.44 L356.69,482.64 L357.50,482.49 L358.30,482.59 L359.10,482.73 L359.90,482.90 L360.71,483.03 L361.51,483.10 L362.31,483.10 L363.12,483.20 L363.92,483.26 L364.72,483.56 L365.52,483.74 L366.32,483.71 L367.13,483.62 L367.93,483.75 L368.73,483.70 L369.54,483.91 L370.34,484.05 L371.14,483.90 L371.94,484.08 L372.75,484.41 L373.55,484.61 L374.35,485.08 L375.15,484.88 L375.95,485.09 L376.76,485.21 L377.56,485.34 L378.36,485.58 L379.17,485.61 L379.97,485.43 L380.77,485.37 L381.57,485.29 L382.38,485.34 L383.18,485.29 L383.98,485.63 L384.78,485.63 L385.58,485.95 L386.39,485.93 L387.19,485.72 L387.99,485.78 L388.80,485.96 L389.60,486.37 L390.40,486.49" fill="none" stroke="#0000ff" stroke-width="3.6" stroke-linejoin="round" stroke-linecap="round"/>
<path d="M101.50,498.10 L102.30,496.31 L103.11,494.50 L103.91,493.29 L104.71,492.03 L105.51,490.84 L106.31,489.51 L107.12,488.63 L107.92,487.18 L108.72,485.91 L109.53,485.01 L110.33,484.18 L111.13,483.08 L111.93,482.04 L112.73,481.11 L113.54,480.40 L114.34,479.52 L115.14,479.03 L115.94,478.36 L116.75,477.80 L117.55,477.34 L118.35,476.82 L119.16,476.19 L119.96,475.50 L120.76,475.24 L121.56,474.83 L122.36,474.43 L123.17,474.16 L123.97,473.76 L124.77,473.29 L125.58,472.99 L126.38,472.86 L127.18,472.65 L127.98,472.26 L128.78,472.11 L129.59,471.86 L130.39,471.64 L131.19,471.22 L132.00,471.02 L132.80,470.68 L133.60,470.36 L134.40,470.02 L135.20,469.60 L136.01,469.06 L136.81,468.68 L137.61,468.26 L138.41,468.00 L139.22,467.81 L140.02,467.52 L140.82,467.12 L141.62,466.98 L142.43,466.80 L143.23,466.49 L144.03,466.26 L144.84,465.95 L145.64,466.14 L146.44,465.75 L147.24,465.68 L148.05,465.64 L148.85,465.33 L149.65,465.14 L150.45,465.23 L151.25,465.42 L152.06,465.32 L152.86,464.70 L153.66,464.54 L154.47,464.38 L155.27,464.24 L156.07,464.11 L156.87,463.87 L157.68,463.44 L158.48,463.03 L159.28,463.15 L160.08,463.12 L160.88,462.86 L161.69,462.73 L162.49,462.65 L163.29,462.73 L164.09,462.84 L164.90,463.07 L165.70,463.14 L166.50,462.83 L167.31,462.72 L168.11,462.66 L168.91,462.60 L169.71,462.57 L170.51,462.60 L171.32,462.52 L172.12,462.23 L172.92,461.53 L173.72,461.60 L174.53,461.61 L175.33,461.52 L176.13,461.41 L176.94,461.17 L177.74,460.92 L178.54,460.69 L179.34,460.61 L180.14,460.90 L180.95,460.85 L181.75,460.62 L182.55,460.66 L183.36,460.56 L184.16,460.66 L184.96,460.48 L185.76,460.46 L186.56,460.48 L187.37,460.26 L188.17,460.05 L188.97,459.95 L189.78,460.06 L190.58,459.85 L191.38,459.63 L192.18,459.41 L192.99,459.25 L193.79,459.10 L194.59,459.19 L195.39,459.24 L196.19,459.43 L197.00,459.29 L197.80,459.22 L198.60,459.33 L199.41,459.50 L200.21,459.34 L201.01,459.25 L201.81,459.06 L202.62,458.70 L203.42,458.69 L204.22,458.61 L205.02,458.62 L205.82,458.35 L206.63,458.25 L207.43,458.41 L208.23,458.54 L209.03,458.82 L209.84,458.86 L210.64,458.90 L211.44,458.78 L212.25,458.65 L213.05,458.63 L213.85,458.86 L214.65,458.70 L215.45,458.68 L216.26,458.48 L217.06,458.35 L217.86,458.06 L218.66,458.23 L219.47,458.46 L220.27,458.45 L221.07,458.20 L221.88,458.33 L222.68,458.47 L223.48,458.47 L224.28,458.70 L225.08,458.60 L225.89,458.48 L226.69,458.24 L227.49,458.15 L228.30,458.35 L229.10,458.26 L229.90,457.84 L230.70,457.80 L231.50,457.72 L232.31,457.68 L233.11,457.68 L233.91,457.79 L234.72,458.12 L235.52,457.84 L236.32,457.81 L237.12,458.02 L237.93,458.27 L238.73,458.13 L239.53,458.14 L240.33,458.13 L241.13,457.91 L241.94,457.99 L242.74,458.05 L243.54,458.18 L244.34,457.79 L245.15,457.78 L245.95,458.03 L246.75,458.20 L247.56,457.98 L248.36,458.02 L249.16,457.66 L249.96,457.67 L250.76,457.18 L251.57,457.59 L252.37,457.22 L253.17,456.84 L253.97,456.89 L254.78,457.07 L255.58,457.03 L256.38,457.01 L257.19,457.13 L257.99,457.37 L258.79,457.04 L259.59,457.09 L260.39,457.20 L261.20,457.02 L262.00,456.99 L262.80,456.92 L263.61,456.85 L264.41,456.53 L265.21,456.54 L266.01,456.75 L266.81,456.68 L267.62,456.72 L268.42,456.77 L269.22,456.74 L270.02,456.76 L270.83,457.01 L271.63,457.20 L272.43,457.22 L273.24,457.29 L274.04,457.46 L274.84,457.60 L275.64,457.45 L276.44,457.43 L277.25,457.67 L278.05,457.32 L278.85,457.43 L279.65,457.24 L280.46,457.13 L281.26,457.14 L282.06,457.09 L282.87,457.23 L283.67,457.02 L284.47,456.81 L285.27,457.04 L286.07,457.01 L286.88,457.34 L287.68,457.40 L288.48,457.40 L289.28,457.37 L290.09,457.34 L290.89,457.45 L291.69,457.43 L292.50,457.38 L293.30,457.17 L294.10,456.98 L294.90,459.32 L295.70,461.11 L296.51,462.68 L297.31,464.04 L298.11,465.53 L298.91,467.02 L299.72,468.00 L300.52,468.84 L301.32,469.73 L302.12,470.41 L302.93,471.16 L303.73,471.96 L304.53,472.63 L305.34,473.22 L306.14,473.70 L306.94,474.25 L307.74,474.93 L308.54,475.22 L309.35,475.76 L310.15,476.42 L310.95,476.83 L311.75,477.11 L312.56,477.51 L313.36,477.63 L314.16,478.02 L314.97,478.38 L315.77,478.50 L316.57,478.61 L317.37,478.58 L318.18,478.78 L318.98,478.90 L319.78,478.69 L320.58,478.86 L321.38,478.80 L322.19,478.76 L322.99,479.14 L323.79,479.39 L324.60,479.59 L325.40,479.65 L326.20,480.04 L327.00,480.43 L327.81,480.69 L328.61,480.92 L329.41,480.99 L330.21,481.08 L331.01,481.43 L331.82,481.48 L332.62,481.83 L333.42,482.10 L334.23,482.23 L335.03,482.22 L335.83,482.35 L336.63,482.55 L337.44,482.58 L338.24,482.52 L339.04,482.79 L339.84,482.73 L340.64,482.76 L341.45,482.83 L342.25,483.00 L343.05,483.22 L343.86,483.61 L344.66,483.93 L345.46,484.20 L346.26,484.30 L347.06,484.57 L347.87,484.80 L348.67,485.17 L349.47,485.28 L350.27,485.29 L351.08,485.18 L351.88,485.28 L352.68,485.12 L353.49,485.14 L354.29,485.19 L355.09,485.06 L355.89,484.98 L356.69,485.08 L357.50,485.25 L358.30,485.33 L359.10,485.42 L359.90,485.82 L360.71,485.94 L361.51,485.90 L362.31,486.21 L363.12,486.36 L363.92,486.67 L364.72,486.69 L365.52,486.87 L366.32,486.86 L367.13,486.99 L367.93,487.04 L368.73,487.33 L369.54,487.36 L370.34,487.32 L371.14,487.31 L371.94,487.57 L372.75,487.52 L373.55,487.71 L374.35,487.55 L375.15,487.41 L375.95,487.49 L376.76,487.55 L377.56,487.87 L378.36,488.04 L379.17,487.97 L379.97,488.11 L380.77,488.14 L381.57,488.31 L382.38,488.78 L383.18,488.99 L383.98,488.88 L384.78,488.73 L385.58,488.51 L386.39,488.65 L387.19,488.66 L387.99,488.82 L388.80,488.94 L389.60,488.91 L390.40,488.72" fill="none" stroke="#008000" stroke-width="3.6" stroke-linejoin="round" stroke-linecap="round"/>
<path d="M101.50,498.10 L102.30,493.92 L103.11,489.88 L103.91,485.53 L104.71,481.95 L105.51,478.74 L106.31,475.80 L107.12,472.89 L107.92,470.40 L108.72,468.08 L109.53,466.03 L110.33,464.23 L111.13,462.77 L111.93,461.39 L112.73,459.92 L113.54,458.67 L114.34,457.63 L115.14,456.61 L115.94,455.48 L116.75,454.65 L117.55,453.68 L118.35,452.69 L119.16,451.72 L119.96,451.00 L120.76,450.21 L121.56,449.64 L122.36,449.08 L123.17,448.76 L123.97,448.31 L124.77,447.86 L125.58,447.74 L126.38,447.63 L127.18,447.56 L127.98,447.72 L128.78,447.29 L129.59,446.91 L130.39,446.90 L131.19,446.55 L132.00,446.45 L132.80,446.43 L133.60,446.21 L134.40,445.91 L135.20,445.49 L136.01,445.51 L136.81,445.59 L137.61,445.23 L138.41,445.08 L139.22,444.84 L140.02,444.44 L140.82,444.31 L141.62,444.09 L142.43,444.22 L143.23,444.44 L144.03,444.05 L144.84,443.92 L145.64,443.79 L146.44,443.76 L147.24,443.77 L148.05,443.77 L148.85,443.83 L149.65,443.68 L150.45,443.45 L151.25,443.60 L152.06,443.49 L152.86,443.47 L153.66,443.25 L154.47,443.24 L155.27,443.13 L156.07,442.98 L156.87,442.83 L157.68,443.05 L158.48,442.95 L159.28,443.00 L160.08,443.09 L160.88,443.28 L161.69,443.23 L162.49,443.04 L163.29,443.02 L164.09,442.99 L164.90,442.52 L165.70,442.41 L166.50,442.45 L167.31,442.47 L168.11,442.49 L168.91,442.27 L169.71,442.37 L170.51,442.26 L171.32,442.17 L172.12,442.28 L172.92,442.49 L173.72,442.38 L174.53,441.95 L175.33,441.86 L176.13,442.00 L176.94,441.98 L177.74,441.92 L178.54,441.94 L179.34,442.00 L180.14,441.88 L180.95,441.82 L181.75,442.03 L182.55,441.79 L183.36,441.36 L184.16,441.13 L184.96,441.17 L185.76,441.12 L186.56,441.05 L187.37,440.86 L188.17,440.65 L188.97,440.52 L189.78,440.62 L190.58,440.79 L191.38,440.93 L192.18,440.98 L192.99,440.96 L193.79,440.82 L194.59,440.85 L195.39,440.84 L196.19,440.90 L197.00,440.85 L197.80,440.77 L198.60,440.62 L199.41,440.43 L200.21,440.45 L201.01,440.27 L201.81,440.22 L202.62,440.42 L203.42,440.40 L204.22,440.49 L205.02,440.69 L205.82,440.78 L206.63,440.76 L207.43,440.79 L208.23,440.87 L209.03,440.86 L209.84,440.51 L210.64,440.43 L211.44,440.18 L212.25,439.86 L213.05,439.90 L213.85,440.01 L214.65,439.99 L215.45,440.08 L216.26,439.97 L217.06,440.13 L217.86,440.06 L218.66,440.14 L219.47,440.34 L220.27,440.19 L221.07,440.22 L221.88,440.13 L222.68,440.18 L223.48,440.20 L224.28,440.09 L225.08,440.24 L225.89,440.21 L226.69,440.36 L227.49,440.45 L228.30,440.30 L229.10,440.29 L229.90,440.02 L230.70,440.01 L231.50,439.99 L232.31,439.87 L233.11,439.95 L233.91,439.64 L234.72,439.39 L235.52,439.41 L236.32,439.18 L237.12,439.27 L237.93,439.22 L238.73,439.08 L239.53,438.98 L240.33,438.88 L241.13,438.78 L241.94,438.81 L242.74,438.77 L243.54,438.69 L244.34,438.91 L245.15,438.76 L245.95,438.64 L246.75,438.56 L247.56,438.63 L248.36,438.49 L249.16,438.16 L249.96,437.99 L250.76,438.15 L251.57,437.85 L252.37,437.89 L253.17,438.04 L253.97,437.90 L254.78,437.57 L255.58,437.94 L256.38,438.23 L257.19,438.27 L257.99,437.88 L258.79,437.83 L259.59,437.93 L260.39,437.95 L261.20,438.01 L262.00,438.24 L262.80,437.82 L263.61,437.75 L264.41,437.60 L265.21,437.69 L266.01,437.52 L266.81,437.16 L267.62,436.89 L268.42,436.92 L269.22,436.68 L270.02,436.64 L270.83,436.56 L271.63,436.68 L272.43,436.71 L273.24,436.83 L274.04,437.00 L274.84,437.55 L275.64,437.44 L276.44,437.18 L277.25,437.17 L278.05,437.07 L278.85,436.93 L279.65,436.99 L280.46,436.79 L281.26,436.68 L282.06,436.26 L282.87,436.20 L283.67,436.44 L284.47,436.46 L285.27,436.42 L286.07,436.29 L286.88,436.14 L287.68,436.06 L288.48,436.00 L289.28,436.21 L290.09,436.42 L290.89,436.33 L291.69,436.44 L292.50,436.40 L293.30,436.63 L294.10,436.65 M295.70,452.30 L296.51,456.65 L297.31,459.81 L298.11,462.37 L298.91,464.38 L299.72,466.13 L300.52,467.38 L301.32,468.65 L302.12,469.82 L302.93,470.88 L303.73,471.86 L304.53,472.86 L305.34,473.74 L306.14,474.21 L306.94,474.91 L307.74,475.74 L308.54,476.39 L309.35,476.95 L310.15,477.41 L310.95,477.84 L311.75,478.52 L312.56,478.88 L313.36,479.88 L314.16,480.56 L314.97,481.21 L315.77,482.00 L316.57,482.78 L317.37,483.18 L318.18,483.64 L318.98,484.09 L319.78,484.92 L320.58,485.06 L321.38,485.59 L322.19,485.83 L322.99,485.77 L323.79,485.83 L324.60,486.23 L325.40,486.71 L326.20,487.12 L327.00,487.40 L327.81,488.08 L328.61,488.22 L329.41,488.70 L330.21,489.19 L331.01,489.60 L331.82,490.10 L332.62,490.31 L333.42,490.40 L334.23,490.63 L335.03,490.52 L335.83,490.77 L336.63,490.99 L337.44,491.06 L338.24,491.35 L339.04,491.43 L339.84,491.60 L340.64,491.74 L341.45,491.90 L342.25,492.21 L343.05,492.39 L343.86,492.49 L344.66,492.67 L345.46,492.71 L346.26,492.95 L347.06,492.97 L347.87,493.15 L348.67,493.34 L349.47,493.42 L350.27,493.49 L351.08,493.46 L351.88,493.41 L352.68,493.50 L353.49,493.35 L354.29,493.50 L355.09,493.32 L355.89,493.24 L356.69,493.34 L357.50,493.44 L358.30,493.48 L359.10,493.68 L359.90,493.48 L360.71,493.91 L361.51,493.95 L362.31,494.13 L363.12,494.17 L363.92,494.31 L364.72,494.30 L365.52,494.60 L366.32,494.61 L367.13,494.96 L367.93,494.81 L368.73,495.00 L369.54,495.02 L370.34,495.22 L371.14,495.04 L371.94,495.07 L372.75,494.72 L373.55,494.86 L374.35,494.80 L375.15,495.04 L375.95,495.10 L376.76,495.00 L377.56,494.93 L378.36,495.12 L379.17,495.21 L379.97,495.32 L380.77,495.59 L381.57,495.38 L382.38,495.11 L383.18,495.01 L383.98,495.23 L384.78,494.96 L385.58,494.98 L386.39,494.88 L387.19,494.99 L387.99,494.95 L388.80,495.19 L389.60,495.20 L390.40,495.33" fill="none" stroke="#cccc00" stroke-width="3.6" stroke-linejoin="round" stroke-linecap="round"/>
<circle cx="294.90" cy="445.89" r="1.9" fill="#cccc00"/>
<path d="M107.12,450.56 L107.92,446.67 L108.72,443.20 L109.53,440.21 L110.33,437.24 L111.13,434.68 L111.93,432.40 L112.73,430.20 L113.54,428.28 L114.34,427.04 L115.14,425.64 L115.94,424.63 L116.75,423.66 L117.55,422.74 L118.35,422.19 L119.16,421.20 L119.96,420.94 L120.76,420.40 L121.56,419.41 L122.36,418.82 L123.17,418.11 L123.97,417.27 L124.77,416.91 L125.58,416.22 L126.38,416.05 L127.18,415.60 L127.98,415.27 L128.78,415.25 L129.59,415.07 L130.39,414.84 L131.19,414.73 L132.00,414.43 L132.80,414.33 L133.60,414.19 L134.40,413.91 L135.20,413.69 L136.01,413.69 L136.81,413.76 L137.61,413.70 L138.41,413.54 L139.22,413.41 L140.02,413.47 L140.82,413.08 L141.62,413.19 L142.43,413.09 L143.23,412.94 L144.03,412.43 L144.84,412.26 L145.64,412.34 L146.44,412.29 L147.24,412.14 L148.05,412.29 L148.85,412.14 L149.65,412.29 L150.45,412.05 L151.25,411.98 L152.06,411.97 L152.86,412.00 L153.66,411.96 L154.47,411.77 L155.27,411.57 L156.07,411.47 L156.87,411.32 L157.68,411.19 L158.48,411.32 L159.28,411.28 L160.08,411.32 L160.88,411.36 L161.69,411.40 L162.49,411.45 L163.29,411.31 L164.09,411.30 L164.90,411.36 L165.70,411.27 L166.50,411.23 L167.31,411.18 L168.11,411.02 L168.91,410.81 L169.71,410.83 L170.51,410.92 L171.32,411.01 L172.12,411.05 L172.92,411.09 L173.72,410.92 L174.53,410.64 L175.33,410.56 L176.13,410.68 L176.94,410.72 L177.74,410.59 L178.54,410.38 L179.34,410.04 L180.14,409.81 L180.95,409.61 L181.75,409.47 L182.55,409.53 L183.36,409.55 L184.16,409.30 L184.96,409.15 L185.76,409.00 L186.56,409.13 L187.37,409.06 L188.17,409.35 L188.97,409.31 L189.78,409.31 L190.58,409.06 L191.38,408.79 L192.18,409.06 L192.99,409.04 L193.79,408.98 L194.59,408.82 L195.39,408.58 L196.19,408.66 L197.00,408.39 L197.80,408.25 L198.60,408.59 L199.41,408.27 L200.21,408.39 L201.01,408.71 L201.81,408.91 L202.62,408.97 L203.42,409.08 L204.22,408.88 L205.02,409.05 L205.82,408.72 L206.63,408.57 L207.43,408.01 L208.23,407.65 L209.03,407.25 L209.84,407.21 L210.64,406.88 L211.44,407.10 L212.25,407.00 L213.05,406.94 L213.85,406.72 L214.65,406.66 L215.45,406.47 L216.26,406.76 L217.06,406.65 L217.86,406.51 L218.66,406.32 L219.47,406.06 L220.27,406.08 L221.07,406.38 L221.88,406.53 L222.68,406.56 L223.48,406.17 L224.28,406.10 L225.08,406.01 L225.89,405.85 L226.69,405.61 L227.49,405.26 L228.30,405.22 L229.10,405.37 L229.90,405.28 L230.70,405.52 L231.50,405.68 L232.31,405.54 L233.11,405.59 L233.91,405.65 L234.72,405.82 L235.52,405.48 L236.32,405.23 L237.12,405.18 L237.93,404.76 L238.73,404.54 L239.53,404.60 L240.33,404.81 L241.13,404.70 L241.94,404.69 L242.74,404.94 L243.54,405.15 L244.34,405.14 L245.15,405.08 L245.95,404.81 L246.75,405.03 L247.56,405.03 L248.36,404.80 L249.16,404.79 L249.96,404.77 L250.76,404.47 L251.57,404.31 L252.37,404.30 L253.17,404.34 L253.97,404.17 L254.78,403.77 L255.58,404.18 L256.38,404.01 L257.19,403.74 L257.99,403.58 L258.79,403.69 L259.59,403.93 L260.39,403.81 L261.20,403.60 L262.00,403.83 L262.80,403.77 L263.61,403.74 L264.41,403.76 L265.21,403.54 L266.01,403.30 L266.81,402.99 L267.62,402.99 L268.42,402.98 L269.22,402.72 L270.02,402.42 L270.83,402.44 L271.63,402.13 L272.43,402.47 L273.24,402.38 L274.04,402.45 L274.84,402.43 L275.64,402.18 L276.44,402.02 L277.25,402.12 L278.05,402.13 L278.85,402.17 L279.65,402.13 L280.46,402.13 L281.26,402.23 L282.06,402.12 L282.87,402.38 L283.67,402.48 L284.47,402.19 L285.27,401.81 L286.07,401.93 L286.88,401.81 L287.68,402.04 L288.48,401.83 L289.28,401.65 L290.09,401.59 L290.89,401.63 L291.69,401.75 L292.50,402.00 L293.30,401.86 L294.10,401.57 M297.31,428.83 L298.11,432.44 L298.91,435.62 L299.72,438.28 L300.52,440.34 L301.32,442.66 L302.12,444.40 L302.93,446.15 L303.73,447.87 L304.53,449.31 L305.34,450.58 L306.14,451.60 L306.94,452.34 L307.74,453.74 L308.54,454.43 L309.35,455.34 L310.15,456.09 L310.95,456.79 L311.75,457.35 L312.56,458.06 L313.36,458.82 L314.16,459.38 L314.97,459.78 L315.77,460.39 L316.57,461.10 L317.37,461.47 L318.18,462.09 L318.98,462.69 L319.78,463.31 L320.58,463.84 L321.38,464.75 L322.19,465.42 L322.99,466.11 L323.79,466.47 L324.60,467.06 L325.40,467.32 L326.20,467.51 L327.00,467.57 L327.81,468.03 L328.61,468.38 L329.41,468.48 L330.21,468.77 L331.01,468.92 L331.82,469.12 L332.62,469.66 L333.42,470.08 L334.23,470.44 L335.03,470.59 L335.83,470.82 L336.63,471.21 L337.44,471.30 L338.24,471.79 L339.04,472.13 L339.84,472.28 L340.64,472.70 L341.45,473.24 L342.25,473.45 L343.05,473.74 L343.86,473.89 L344.66,474.39 L345.46,474.52 L346.26,474.74 L347.06,474.84 L347.87,474.80 L348.67,474.78 L349.47,474.95 L350.27,475.03 L351.08,475.34 L351.88,475.41 L352.68,475.63 L353.49,475.75 L354.29,475.80 L355.09,476.01 L355.89,476.18 L356.69,476.28 L357.50,476.41 L358.30,476.37 L359.10,476.35 L359.90,476.33 L360.71,476.50 L361.51,476.90 L362.31,477.09 L363.12,477.32 L363.92,477.29 L364.72,477.16 L365.52,477.35 L366.32,477.53 L367.13,477.64 L367.93,477.89 L368.73,477.64 L369.54,477.67 L370.34,477.71 L371.14,477.87 L371.94,477.96 L372.75,477.92 L373.55,477.75 L374.35,478.03 L375.15,478.00 L375.95,478.33 L376.76,478.59 L377.56,478.47 L378.36,478.36 L379.17,478.74 L379.97,478.89 L380.77,478.93 L381.57,478.80 L382.38,478.75 L383.18,478.79 L383.98,478.59 L384.78,478.87 L385.58,479.12 L386.39,478.92 L387.19,478.84 L387.99,479.12 L388.80,479.14 L389.60,479.11 L390.40,479.16" fill="none" stroke="#ff6600" stroke-width="3.6" stroke-linejoin="round" stroke-linecap="round"/>
<circle cx="101.50" cy="498.10" r="1.9" fill="#ff6600"/>
<circle cx="102.30" cy="488.62" r="1.9" fill="#ff6600"/>
<circle cx="103.11" cy="480.36" r="1.9" fill="#ff6600"/>
<circle cx="103.91" cy="472.83" r="1.9" fill="#ff6600"/>
<circle cx="104.71" cy="466.29" r="1.9" fill="#ff6600"/>
<circle cx="105.51" cy="460.44" r="1.9" fill="#ff6600"/>
<circle cx="106.31" cy="455.23" r="1.9" fill="#ff6600"/>
<circle cx="294.90" cy="411.25" r="1.9" fill="#ff6600"/>
<circle cx="295.70" cy="418.54" r="1.9" fill="#ff6600"/>
<circle cx="296.51" cy="424.28" r="1.9" fill="#ff6600"/>
<path d="M111.13,389.30 L111.93,385.48 L112.73,382.34 L113.54,379.52 L114.34,376.80 L115.14,374.48 L115.94,372.45 L116.75,370.73 L117.55,369.11 L118.35,367.63 L119.16,366.51 L119.96,365.37 L120.76,364.46 L121.56,363.78 L122.36,363.12 L123.17,362.31 L123.97,361.68 L124.77,361.15 L125.58,360.83 L126.38,360.31 L127.18,359.90 L127.98,359.46 L128.78,359.06 L129.59,358.77 L130.39,358.11 L131.19,357.81 L132.00,357.41 L132.80,357.09 L133.60,357.09 L134.40,356.77 L135.20,356.56 L136.01,356.37 L136.81,356.02 L137.61,356.34 L138.41,356.12 L139.22,356.19 L140.02,356.09 L140.82,355.71 L141.62,355.78 L142.43,355.81 L143.23,355.67 L144.03,355.55 L144.84,355.54 L145.64,355.62 L146.44,355.25 L147.24,355.09 L148.05,355.06 L148.85,354.94 L149.65,354.61 L150.45,354.31 L151.25,354.22 L152.06,354.12 L152.86,353.78 L153.66,353.95 L154.47,353.65 L155.27,353.58 L156.07,353.35 L156.87,353.25 L157.68,353.31 L158.48,353.11 L159.28,352.78 L160.08,352.49 L160.88,352.12 L161.69,352.17 L162.49,351.71 L163.29,351.51 L164.09,351.44 L164.90,351.34 L165.70,351.15 L166.50,350.92 L167.31,350.91 L168.11,350.92 L168.91,350.92 L169.71,351.20 L170.51,351.13 L171.32,351.04 L172.12,350.76 L172.92,351.13 L173.72,351.05 L174.53,351.17 L175.33,351.35 L176.13,351.33 L176.94,351.07 L177.74,350.93 L178.54,351.13 L179.34,351.27 L180.14,350.90 L180.95,351.10 L181.75,350.97 L182.55,350.68 L183.36,350.42 L184.16,350.54 L184.96,350.66 L185.76,350.34 L186.56,350.07 L187.37,350.00 L188.17,349.60 L188.97,349.42 L189.78,348.99 L190.58,349.09 L191.38,348.85 L192.18,348.61 L192.99,348.40 L193.79,348.62 L194.59,348.48 L195.39,348.55 L196.19,348.18 L197.00,348.30 L197.80,347.93 L198.60,347.91 L199.41,347.82 L200.21,348.06 L201.01,347.77 L201.81,347.75 L202.62,347.78 L203.42,347.85 L204.22,347.74 L205.02,347.52 L205.82,347.48 L206.63,347.56 L207.43,347.05 L208.23,346.89 L209.03,346.65 L209.84,346.29 L210.64,346.39 L211.44,346.28 L212.25,346.31 L213.05,346.02 L213.85,345.84 L214.65,345.88 L215.45,345.75 L216.26,345.63 L217.06,345.36 L217.86,345.34 L218.66,345.38 L219.47,345.36 L220.27,345.12 L221.07,345.10 L221.88,344.67 L222.68,344.27 L223.48,344.58 L224.28,344.64 L225.08,344.30 L225.89,344.14 L226.69,344.24 L227.49,344.28 L228.30,344.13 L229.10,344.17 L229.90,344.27 L230.70,344.00 L231.50,343.75 L232.31,343.51 L233.11,343.18 L233.91,342.85 L234.72,342.68 L235.52,342.52 L236.32,342.63 L237.12,342.82 L237.93,342.58 L238.73,342.95 L239.53,342.98 L240.33,343.23 L241.13,343.11 L241.94,343.16 L242.74,343.21 L243.54,343.18 L244.34,342.93 L245.15,342.69 L245.95,342.32 L246.75,342.34 L247.56,341.99 L248.36,342.06 L249.16,342.12 L249.96,342.00 L250.76,341.66 L251.57,341.53 L252.37,341.61 L253.17,341.55 L253.97,341.48 L254.78,341.34 L255.58,341.03 L256.38,340.86 L257.19,340.79 L257.99,340.83 L258.79,340.82 L259.59,340.75 L260.39,340.58 L261.20,340.44 L262.00,340.48 L262.80,340.53 L263.61,340.44 L264.41,340.35 L265.21,340.10 L266.01,339.99 L266.81,339.89 L267.62,339.88 L268.42,339.74 L269.22,339.71 L270.02,339.76 L270.83,339.32 L271.63,339.24 L272.43,339.23 L273.24,339.18 L274.04,339.02 L274.84,339.07 L275.64,338.83 L276.44,338.65 L277.25,338.56 L278.05,338.51 L278.85,338.52 L279.65,338.55 L280.46,338.20 L281.26,338.24 L282.06,337.86 L282.87,337.97 L283.67,338.01 L284.47,337.58 L285.27,337.69 L286.07,337.44 L286.88,337.20 L287.68,337.27 L288.48,337.31 L289.28,337.46 L290.09,337.08 L290.89,336.65 L291.69,336.90 L292.50,336.72 L293.30,336.43 L294.10,336.49 M298.91,385.38 L299.72,389.65 L300.52,393.54 L301.32,396.75 L302.12,399.65 L302.93,401.99 L303.73,404.26 L304.53,406.15 L305.34,408.18 L306.14,409.98 L306.94,411.59 L307.74,412.83 L308.54,414.26 L309.35,415.47 L310.15,416.80 L310.95,417.98 L311.75,419.30 L312.56,420.09 L313.36,420.89 L314.16,421.97 L314.97,422.90 L315.77,423.56 L316.57,424.48 L317.37,425.22 L318.18,426.00 L318.98,426.93 L319.78,427.75 L320.58,428.49 L321.38,429.17 L322.19,430.02 L322.99,430.78 L323.79,431.72 L324.60,432.30 L325.40,432.95 L326.20,433.44 L327.00,434.24 L327.81,435.20 L328.61,435.82 L329.41,436.45 L330.21,437.28 L331.01,437.59 L331.82,438.33 L332.62,439.06 L333.42,439.73 L334.23,440.25 L335.03,440.66 L335.83,441.21 L336.63,441.83 L337.44,442.35 L338.24,442.92 L339.04,443.42 L339.84,443.68 L340.64,444.27 L341.45,444.63 L342.25,444.95 L343.05,445.46 L343.86,445.75 L344.66,445.73 L345.46,446.19 L346.26,446.61 L347.06,447.05 L347.87,447.39 L348.67,447.69 L349.47,448.15 L350.27,448.35 L351.08,448.80 L351.88,449.33 L352.68,449.59 L353.49,449.91 L354.29,450.24 L355.09,450.28 L355.89,450.67 L356.69,450.91 L357.50,451.00 L358.30,451.18 L359.10,451.39 L359.90,451.76 L360.71,451.87 L361.51,452.33 L362.31,452.74 L363.12,453.02 L363.92,453.36 L364.72,453.62 L365.52,453.73 L366.32,453.95 L367.13,453.85 L367.93,454.06 L368.73,453.93 L369.54,454.15 L370.34,454.05 L371.14,454.04 L371.94,454.44 L372.75,454.81 L373.55,455.17 L374.35,455.60 L375.15,455.67 L375.95,455.86 L376.76,455.88 L377.56,456.35 L378.36,456.70 L379.17,456.60 L379.97,456.88 L380.77,457.07 L381.57,457.37 L382.38,457.74 L383.18,457.59 L383.98,457.94 L384.78,457.84 L385.58,457.67 L386.39,458.01 L387.19,457.97 L387.99,457.90 L388.80,457.67 L389.60,457.88 L390.40,458.39" fill="none" stroke="#ff0000" stroke-width="3.6" stroke-linejoin="round" stroke-linecap="round"/>
<circle cx="101.50" cy="498.10" r="1.9" fill="#ff0000"/>
<circle cx="102.30" cy="482.02" r="1.9" fill="#ff0000"/>
<circle cx="103.11" cy="467.28" r="1.9" fill="#ff0000"/>
<circle cx="103.91" cy="454.61" r="1.9" fill="#ff0000"/>
<circle cx="104.71" cy="443.31" r="1.9" fill="#ff0000"/>
<circle cx="105.51" cy="433.31" r="1.9" fill="#ff0000"/>
<circle cx="106.31" cy="424.29" r="1.9" fill="#ff0000"/>
<circle cx="107.12" cy="416.49" r="1.9" fill="#ff0000"/>
<circle cx="107.92" cy="409.76" r="1.9" fill="#ff0000"/>
<circle cx="108.72" cy="403.94" r="1.9" fill="#ff0000"/>
<circle cx="109.53" cy="398.45" r="1.9" fill="#ff0000"/>
<circle cx="110.33" cy="393.75" r="1.9" fill="#ff0000"/>
<circle cx="294.90" cy="350.03" r="1.9" fill="#ff0000"/>
<circle cx="295.70" cy="359.73" r="1.9" fill="#ff0000"/>
<circle cx="296.51" cy="367.78" r="1.9" fill="#ff0000"/>
<circle cx="297.31" cy="374.72" r="1.9" fill="#ff0000"/>
<circle cx="298.11" cy="380.70" r="1.9" fill="#ff0000"/>
<polyline points="101.50,498.10 102.30,497.75 103.11,497.53 103.91,497.34 104.71,497.18 105.51,497.04 106.31,496.92 107.12,496.81 107.92,496.71 108.72,496.63 109.53,496.56 110.33,496.50 111.13,496.44 111.93,496.39 112.73,496.35 113.54,496.31 114.34,496.28 115.14,496.26 115.94,496.23 116.75,496.21 117.55,496.19 118.35,496.18 119.16,496.16 119.96,496.15 120.76,496.14 121.56,496.13 122.36,496.12 123.17,496.11 123.97,496.11 124.77,496.10 125.58,496.10 126.38,496.09 127.18,496.09 127.98,496.09 128.78,496.08 129.59,496.08 130.39,496.08 131.19,496.08 132.00,496.08 132.80,496.07 133.60,496.07 134.40,496.07 135.20,496.07 136.01,496.07 136.81,496.07 137.61,496.07 138.41,496.07 139.22,496.07 140.02,496.07 140.82,496.07 141.62,496.07 142.43,496.07 143.23,496.07 144.03,496.07 144.84,496.07 145.64,496.07 146.44,496.07 147.24,496.07 148.05,496.07 148.85,496.07 149.65,496.07 150.45,496.07 151.25,496.07 152.06,496.07 152.86,496.07 153.66,496.07 154.47,496.07 155.27,496.07 156.07,496.06 156.87,496.06 157.68,496.06 158.48,496.06 159.28,496.06 160.08,496.06 160.88,496.06 161.69,496.06 162.49,496.06 163.29,496.06 164.09,496.06 164.90,496.06 165.70,496.06 166.50,496.06 167.31,496.06 168.11,496.06 168.91,496.06 169.71,496.06 170.51,496.06 171.32,496.06 172.12,496.06 172.92,496.06 173.72,496.06 174.53,496.06 175.33,496.06 176.13,496.06 176.94,496.06 177.74,496.06 178.54,496.06 179.34,496.06 180.14,496.06 180.95,496.06 181.75,496.06 182.55,496.06 183.36,496.06 184.16,496.06 184.96,496.06 185.76,496.06 186.56,496.06 187.37,496.06 188.17,496.06 188.97,496.06 189.78,496.06 190.58,496.06 191.38,496.06 192.18,496.06 192.99,496.06 193.79,496.06 194.59,496.06 195.39,496.06 196.19,496.06 197.00,496.06 197.80,496.06 198.60,496.06 199.41,496.06 200.21,496.06 201.01,496.06 201.81,496.06 202.62,496.06 203.42,496.06 204.22,496.06 205.02,496.06 205.82,496.06 206.63,496.06 207.43,496.06 208.23,496.06 209.03,496.06 209.84,496.06 210.64,496.06 211.44,496.06 212.25,496.06 213.05,496.06 213.85,496.06 214.65,496.06 215.45,496.06 216.26,496.06 217.06,496.06 217.86,496.06 218.66,496.06 219.47,496.06 220.27,496.06 221.07,496.06 221.88,496.06 222.68,496.06 223.48,496.06 224.28,496.06 225.08,496.06 225.89,496.06 226.69,496.06 227.49,496.06 228.30,496.06 229.10,496.06 229.90,496.06 230.70,496.06 231.50,496.06 232.31,496.06 233.11,496.06 233.91,496.06 234.72,496.06 235.52,496.06 236.32,496.06 237.12,496.06 237.93,496.06 238.73,496.06 239.53,496.06 240.33,496.06 241.13,496.06 241.94,496.06 242.74,496.06 243.54,496.06 244.34,496.06 245.15,496.06 245.95,496.06 246.75,496.06 247.56,496.06 248.36,496.06 249.16,496.06 249.96,496.06 250.76,496.06 251.57,496.06 252.37,496.06 253.17,496.06 253.97,496.06 254.78,496.06 255.58,496.06 256.38,496.06 257.19,496.06 257.99,496.06 258.79,496.06 259.59,496.06 260.39,496.06 261.20,496.06 262.00,496.06 262.80,496.06 263.61,496.06 264.41,496.06 265.21,496.06 266.01,496.06 266.81,496.06 267.62,496.06 268.42,496.06 269.22,496.06 270.02,496.06 270.83,496.06 271.63,496.06 272.43,496.06 273.24,496.06 274.04,496.06 274.84,496.06 275.64,496.06 276.44,496.06 277.25,496.06 278.05,496.06 278.85,496.06 279.65,496.06 280.46,496.06 281.26,496.06 282.06,496.06 282.87,496.06 283.67,496.06 284.47,496.06 285.27,496.06 286.07,496.06 286.88,496.06 287.68,496.06 288.48,496.06 289.28,496.06 290.09,496.06 290.89,496.06 291.69,496.06 292.50,496.06 293.30,496.06 294.10,496.06 294.90,496.14 295.70,496.21 296.51,496.28 297.31,496.35 298.11,496.41 298.91,496.47 299.72,496.53 300.52,496.59 301.32,496.65 302.12,496.70 302.93,496.75 303.73,496.80 304.53,496.85 305.34,496.90 306.14,496.94 306.94,496.98 307.74,497.02 308.54,497.06 309.35,497.10 310.15,497.14 310.95,497.17 311.75,497.21 312.56,497.24 313.36,497.27 314.16,497.30 314.97,497.33 315.77,497.36 316.57,497.39 317.37,497.41 318.18,497.44 318.98,497.46 319.78,497.49 320.58,497.51 321.38,497.53 322.19,497.55 322.99,497.57 323.79,497.59 324.60,497.61 325.40,497.63 326.20,497.65 327.00,497.66 327.81,497.68 328.61,497.69 329.41,497.71 330.21,497.72 331.01,497.74 331.82,497.75 332.62,497.76 333.42,497.78 334.23,497.79 335.03,497.80 335.83,497.81 336.63,497.82 337.44,497.83 338.24,497.84 339.04,497.85 339.84,497.86 340.64,497.87 341.45,497.88 342.25,497.89 343.05,497.89 343.86,497.90 344.66,497.91 345.46,497.92 346.26,497.92 347.06,497.93 347.87,497.94 348.67,497.94 349.47,497.95 350.27,497.95 351.08,497.96 351.88,497.96 352.68,497.97 353.49,497.97 354.29,497.98 355.09,497.98 355.89,497.99 356.69,497.99 357.50,497.99 358.30,498.00 359.10,498.00 359.90,498.01 360.71,498.01 361.51,498.01 362.31,498.02 363.12,498.02 363.92,498.02 364.72,498.02 365.52,498.03 366.32,498.03 367.13,498.03 367.93,498.04 368.73,498.04 369.54,498.04 370.34,498.04 371.14,498.04 371.94,498.05 372.75,498.05 373.55,498.05 374.35,498.05 375.15,498.05 375.95,498.06 376.76,498.06 377.56,498.06 378.36,498.06 379.17,498.06 379.97,498.06 380.77,498.06 381.57,498.07 382.38,498.07 383.18,498.07 383.98,498.07 384.78,498.07 385.58,498.07 386.39,498.07 387.19,498.07 387.99,498.07 388.80,498.08 389.60,498.08 390.40,498.08" fill="none" stroke="#000" stroke-width="2.0" stroke-linejoin="round" stroke-linecap="round"/>
<polyline points="101.50,498.10 102.30,496.62 103.11,496.17 103.91,495.82 104.71,495.47 105.51,495.13 106.31,494.80 107.12,494.47 107.92,494.15 108.72,493.84 109.53,493.53 110.33,493.23 111.13,492.93 111.93,492.64 112.73,492.36 113.54,492.08 114.34,491.81 115.14,491.54 115.94,491.27 116.75,491.02 117.55,490.76 118.35,490.51 119.16,490.27 119.96,490.03 120.76,489.80 121.56,489.56 122.36,489.34 123.17,489.12 123.97,488.90 124.77,488.69 125.58,488.48 126.38,488.27 127.18,488.07 127.98,487.87 128.78,487.68 129.59,487.49 130.39,487.30 131.19,487.12 132.00,486.94 132.80,486.77 133.60,486.59 134.40,486.43 135.20,486.26 136.01,486.10 136.81,485.94 137.61,485.78 138.41,485.63 139.22,485.48 140.02,485.33 140.82,485.18 141.62,485.04 142.43,484.90 143.23,484.77 144.03,484.63 144.84,484.50 145.64,484.37 146.44,484.24 147.24,484.12 148.05,484.00 148.85,483.88 149.65,483.76 150.45,483.65 151.25,483.53 152.06,483.42 152.86,483.32 153.66,483.21 154.47,483.10 155.27,483.00 156.07,482.90 156.87,482.80 157.68,482.71 158.48,482.61 159.28,482.52 160.08,482.43 160.88,482.34 161.69,482.25 162.49,482.16 163.29,482.08 164.09,482.00 164.90,481.92 165.70,481.84 166.50,481.76 167.31,481.68 168.11,481.61 168.91,481.53 169.71,481.46 170.51,481.39 171.32,481.32 172.12,481.25 172.92,481.18 173.72,481.12 174.53,481.05 175.33,480.99 176.13,480.93 176.94,480.87 177.74,480.81 178.54,480.75 179.34,480.69 180.14,480.64 180.95,480.58 181.75,480.53 182.55,480.47 183.36,480.42 184.16,480.37 184.96,480.32 185.76,480.27 186.56,480.22 187.37,480.18 188.17,480.13 188.97,480.08 189.78,480.04 190.58,480.00 191.38,479.95 192.18,479.91 192.99,479.87 193.79,479.83 194.59,479.79 195.39,479.75 196.19,479.71 197.00,479.67 197.80,479.64 198.60,479.60 199.41,479.57 200.21,479.53 201.01,479.50 201.81,479.46 202.62,479.43 203.42,479.40 204.22,479.37 205.02,479.34 205.82,479.31 206.63,479.28 207.43,479.25 208.23,479.22 209.03,479.19 209.84,479.16 210.64,479.14 211.44,479.11 212.25,479.08 213.05,479.06 213.85,479.03 214.65,479.01 215.45,478.98 216.26,478.96 217.06,478.94 217.86,478.91 218.66,478.89 219.47,478.87 220.27,478.85 221.07,478.83 221.88,478.81 222.68,478.79 223.48,478.77 224.28,478.75 225.08,478.73 225.89,478.71 226.69,478.69 227.49,478.67 228.30,478.66 229.10,478.64 229.90,478.62 230.70,478.60 231.50,478.59 232.31,478.57 233.11,478.56 233.91,478.54 234.72,478.53 235.52,478.51 236.32,478.50 237.12,478.48 237.93,478.47 238.73,478.45 239.53,478.44 240.33,478.43 241.13,478.41 241.94,478.40 242.74,478.39 243.54,478.38 244.34,478.36 245.15,478.35 245.95,478.34 246.75,478.33 247.56,478.32 248.36,478.31 249.16,478.30 249.96,478.29 250.76,478.28 251.57,478.27 252.37,478.26 253.17,478.25 253.97,478.24 254.78,478.23 255.58,478.22 256.38,478.21 257.19,478.20 257.99,478.19 258.79,478.18 259.59,478.18 260.39,478.17 261.20,478.16 262.00,478.15 262.80,478.14 263.61,478.14 264.41,478.13 265.21,478.12 266.01,478.11 266.81,478.11 267.62,478.10 268.42,478.09 269.22,478.09 270.02,478.08 270.83,478.07 271.63,478.07 272.43,478.06 273.24,478.06 274.04,478.05 274.84,478.04 275.64,478.04 276.44,478.03 277.25,478.03 278.05,478.02 278.85,478.02 279.65,478.01 280.46,478.01 281.26,478.00 282.06,478.00 282.87,477.99 283.67,477.99 284.47,477.98 285.27,477.98 286.07,477.97 286.88,477.97 287.68,477.97 288.48,477.96 289.28,477.96 290.09,477.95 290.89,477.95 291.69,477.95 292.50,477.94 293.30,477.94 294.10,477.93 294.90,478.12 295.70,478.31 296.51,478.49 297.31,478.68 298.11,478.86 298.91,479.03 299.72,479.21 300.52,479.38 301.32,479.55 302.12,479.72 302.93,479.89 303.73,480.05 304.53,480.21 305.34,480.37 306.14,480.53 306.94,480.68 307.74,480.84 308.54,480.99 309.35,481.14 310.15,481.29 310.95,481.43 311.75,481.58 312.56,481.72 313.36,481.86 314.16,482.00 314.97,482.13 315.77,482.27 316.57,482.40 317.37,482.53 318.18,482.66 318.98,482.79 319.78,482.92 320.58,483.04 321.38,483.17 322.19,483.29 322.99,483.41 323.79,483.53 324.60,483.64 325.40,483.76 326.20,483.87 327.00,483.99 327.81,484.10 328.61,484.21 329.41,484.31 330.21,484.42 331.01,484.53 331.82,484.63 332.62,484.73 333.42,484.83 334.23,484.93 335.03,485.03 335.83,485.13 336.63,485.23 337.44,485.32 338.24,485.42 339.04,485.51 339.84,485.60 340.64,485.69 341.45,485.78 342.25,485.87 343.05,485.95 343.86,486.04 344.66,486.12 345.46,486.21 346.26,486.29 347.06,486.37 347.87,486.45 348.67,486.53 349.47,486.61 350.27,486.68 351.08,486.76 351.88,486.84 352.68,486.91 353.49,486.98 354.29,487.06 355.09,487.13 355.89,487.20 356.69,487.27 357.50,487.34 358.30,487.40 359.10,487.47 359.90,487.54 360.71,487.60 361.51,487.67 362.31,487.73 363.12,487.79 363.92,487.85 364.72,487.91 365.52,487.97 366.32,488.03 367.13,488.09 367.93,488.15 368.73,488.21 369.54,488.26 370.34,488.32 371.14,488.38 371.94,488.43 372.75,488.48 373.55,488.54 374.35,488.59 375.15,488.64 375.95,488.69 376.76,488.74 377.56,488.79 378.36,488.84 379.17,488.89 379.97,488.94 380.77,488.98 381.57,489.03 382.38,489.08 383.18,489.12 383.98,489.17 384.78,489.21 385.58,489.25 386.39,489.30 387.19,489.34 387.99,489.38 388.80,489.42 389.60,489.46 390.40,489.50" fill="none" stroke="#000" stroke-width="2.0" stroke-linejoin="round" stroke-linecap="round"/>
<polyline points="101.50,498.10 102.30,496.79 103.11,495.53 103.91,494.32 104.71,493.15 105.51,492.03 106.31,490.95 107.12,489.92 107.92,488.92 108.72,487.96 109.53,487.04 110.33,486.15 111.13,485.29 111.93,484.47 112.73,483.68 113.54,482.91 114.34,482.18 115.14,481.47 115.94,480.78 116.75,480.13 117.55,479.49 118.35,478.88 119.16,478.29 119.96,477.72 120.76,477.17 121.56,476.63 122.36,476.12 123.17,475.63 123.97,475.15 124.77,474.69 125.58,474.24 126.38,473.81 127.18,473.39 127.98,472.99 128.78,472.60 129.59,472.22 130.39,471.85 131.19,471.50 132.00,471.16 132.80,470.82 133.60,470.50 134.40,470.19 135.20,469.89 136.01,469.60 136.81,469.31 137.61,469.04 138.41,468.77 139.22,468.51 140.02,468.26 140.82,468.02 141.62,467.78 142.43,467.55 143.23,467.33 144.03,467.11 144.84,466.90 145.64,466.69 146.44,466.49 147.24,466.30 148.05,466.11 148.85,465.93 149.65,465.75 150.45,465.57 151.25,465.40 152.06,465.24 152.86,465.08 153.66,464.92 154.47,464.77 155.27,464.62 156.07,464.47 156.87,464.33 157.68,464.19 158.48,464.05 159.28,463.92 160.08,463.79 160.88,463.67 161.69,463.54 162.49,463.42 163.29,463.31 164.09,463.19 164.90,463.08 165.70,462.97 166.50,462.86 167.31,462.76 168.11,462.65 168.91,462.55 169.71,462.45 170.51,462.36 171.32,462.26 172.12,462.17 172.92,462.08 173.72,461.99 174.53,461.90 175.33,461.82 176.13,461.73 176.94,461.65 177.74,461.57 178.54,461.49 179.34,461.42 180.14,461.34 180.95,461.27 181.75,461.19 182.55,461.12 183.36,461.05 184.16,460.98 184.96,460.91 185.76,460.85 186.56,460.78 187.37,460.72 188.17,460.66 188.97,460.59 189.78,460.53 190.58,460.47 191.38,460.42 192.18,460.36 192.99,460.30 193.79,460.25 194.59,460.19 195.39,460.14 196.19,460.08 197.00,460.03 197.80,459.98 198.60,459.93 199.41,459.88 200.21,459.83 201.01,459.79 201.81,459.74 202.62,459.69 203.42,459.65 204.22,459.60 205.02,459.56 205.82,459.51 206.63,459.47 207.43,459.43 208.23,459.39 209.03,459.35 209.84,459.31 210.64,459.27 211.44,459.23 212.25,459.19 213.05,459.15 213.85,459.12 214.65,459.08 215.45,459.04 216.26,459.01 217.06,458.97 217.86,458.94 218.66,458.91 219.47,458.87 220.27,458.84 221.07,458.81 221.88,458.78 222.68,458.74 223.48,458.71 224.28,458.68 225.08,458.65 225.89,458.62 226.69,458.59 227.49,458.57 228.30,458.54 229.10,458.51 229.90,458.48 230.70,458.46 231.50,458.43 232.31,458.40 233.11,458.38 233.91,458.35 234.72,458.33 235.52,458.30 236.32,458.28 237.12,458.25 237.93,458.23 238.73,458.21 239.53,458.18 240.33,458.16 241.13,458.14 241.94,458.12 242.74,458.09 243.54,458.07 244.34,458.05 245.15,458.03 245.95,458.01 246.75,457.99 247.56,457.97 248.36,457.95 249.16,457.93 249.96,457.91 250.76,457.89 251.57,457.88 252.37,457.86 253.17,457.84 253.97,457.82 254.78,457.80 255.58,457.79 256.38,457.77 257.19,457.75 257.99,457.74 258.79,457.72 259.59,457.70 260.39,457.69 261.20,457.67 262.00,457.66 262.80,457.64 263.61,457.63 264.41,457.61 265.21,457.60 266.01,457.58 266.81,457.57 267.62,457.55 268.42,457.54 269.22,457.53 270.02,457.51 270.83,457.50 271.63,457.49 272.43,457.48 273.24,457.46 274.04,457.45 274.84,457.44 275.64,457.43 276.44,457.41 277.25,457.40 278.05,457.39 278.85,457.38 279.65,457.37 280.46,457.36 281.26,457.35 282.06,457.33 282.87,457.32 283.67,457.31 284.47,457.30 285.27,457.29 286.07,457.28 286.88,457.27 287.68,457.26 288.48,457.25 289.28,457.24 290.09,457.23 290.89,457.22 291.69,457.22 292.50,457.21 293.30,457.20 294.10,457.19 294.90,457.89 295.70,458.57 296.51,459.24 297.31,459.90 298.11,460.54 298.91,461.17 299.72,461.79 300.52,462.40 301.32,462.99 302.12,463.58 302.93,464.15 303.73,464.71 304.53,465.26 305.34,465.79 306.14,466.32 306.94,466.84 307.74,467.35 308.54,467.84 309.35,468.33 310.15,468.81 310.95,469.28 311.75,469.74 312.56,470.19 313.36,470.63 314.16,471.06 314.97,471.48 315.77,471.90 316.57,472.31 317.37,472.71 318.18,473.10 318.98,473.48 319.78,473.86 320.58,474.23 321.38,474.59 322.19,474.94 322.99,475.29 323.79,475.63 324.60,475.97 325.40,476.29 326.20,476.61 327.00,476.93 327.81,477.24 328.61,477.54 329.41,477.84 330.21,478.13 331.01,478.41 331.82,478.69 332.62,478.96 333.42,479.23 334.23,479.49 335.03,479.75 335.83,480.01 336.63,480.25 337.44,480.50 338.24,480.73 339.04,480.97 339.84,481.20 340.64,481.42 341.45,481.64 342.25,481.86 343.05,482.07 343.86,482.27 344.66,482.48 345.46,482.68 346.26,482.87 347.06,483.06 347.87,483.25 348.67,483.43 349.47,483.61 350.27,483.79 351.08,483.96 351.88,484.13 352.68,484.30 353.49,484.46 354.29,484.62 355.09,484.78 355.89,484.93 356.69,485.08 357.50,485.23 358.30,485.38 359.10,485.52 359.90,485.66 360.71,485.79 361.51,485.93 362.31,486.06 363.12,486.19 363.92,486.31 364.72,486.44 365.52,486.56 366.32,486.68 367.13,486.79 367.93,486.91 368.73,487.02 369.54,487.13 370.34,487.24 371.14,487.34 371.94,487.44 372.75,487.55 373.55,487.64 374.35,487.74 375.15,487.84 375.95,487.93 376.76,488.02 377.56,488.11 378.36,488.20 379.17,488.29 379.97,488.37 380.77,488.45 381.57,488.54 382.38,488.62 383.18,488.69 383.98,488.77 384.78,488.84 385.58,488.92 386.39,488.99 387.19,489.06 387.99,489.13 388.80,489.20 389.60,489.27 390.40,489.33" fill="none" stroke="#000" stroke-width="2.0" stroke-linejoin="round" stroke-linecap="round"/>
<polyline points="101.50,498.10 102.30,496.74 103.11,495.43 103.91,494.17 104.71,492.97 105.51,491.82 106.31,490.71 107.12,489.64 107.92,488.62 108.72,487.64 109.53,486.70 110.33,485.79 111.13,484.92 111.93,484.09 112.73,483.29 113.54,482.51 114.34,481.77 115.14,481.06 115.94,480.37 116.75,479.71 117.55,479.07 118.35,478.46 119.16,477.87 119.96,477.30 120.76,476.75 121.56,476.22 122.36,475.71 123.17,475.22 123.97,474.75 124.77,474.29 125.58,473.85 126.38,473.43 127.18,473.01 127.98,472.62 128.78,472.24 129.59,471.87 130.39,471.51 131.19,471.16 132.00,470.83 132.80,470.50 133.60,470.19 134.40,469.89 135.20,469.59 136.01,469.31 136.81,469.03 137.61,468.77 138.41,468.51 139.22,468.26 140.02,468.02 140.82,467.78 141.62,467.55 142.43,467.33 143.23,467.11 144.03,466.90 144.84,466.70 145.64,466.50 146.44,466.31 147.24,466.12 148.05,465.94 148.85,465.76 149.65,465.59 150.45,465.42 151.25,465.26 152.06,465.10 152.86,464.95 153.66,464.79 154.47,464.65 155.27,464.50 156.07,464.36 156.87,464.23 157.68,464.09 158.48,463.96 159.28,463.84 160.08,463.71 160.88,463.59 161.69,463.47 162.49,463.36 163.29,463.24 164.09,463.13 164.90,463.03 165.70,462.92 166.50,462.82 167.31,462.71 168.11,462.62 168.91,462.52 169.71,462.42 170.51,462.33 171.32,462.24 172.12,462.15 172.92,462.06 173.72,461.98 174.53,461.89 175.33,461.81 176.13,461.73 176.94,461.65 177.74,461.57 178.54,461.49 179.34,461.42 180.14,461.35 180.95,461.27 181.75,461.20 182.55,461.13 183.36,461.06 184.16,461.00 184.96,460.93 185.76,460.87 186.56,460.80 187.37,460.74 188.17,460.68 188.97,460.62 189.78,460.56 190.58,460.50 191.38,460.44 192.18,460.39 192.99,460.33 193.79,460.27 194.59,460.22 195.39,460.17 196.19,460.12 197.00,460.06 197.80,460.01 198.60,459.96 199.41,459.92 200.21,459.87 201.01,459.82 201.81,459.77 202.62,459.73 203.42,459.68 204.22,459.64 205.02,459.59 205.82,459.55 206.63,459.51 207.43,459.47 208.23,459.43 209.03,459.39 209.84,459.35 210.64,459.31 211.44,459.27 212.25,459.23 213.05,459.19 213.85,459.15 214.65,459.12 215.45,459.08 216.26,459.05 217.06,459.01 217.86,458.98 218.66,458.94 219.47,458.91 220.27,458.88 221.07,458.84 221.88,458.81 222.68,458.78 223.48,458.75 224.28,458.72 225.08,458.69 225.89,458.66 226.69,458.63 227.49,458.60 228.30,458.57 229.10,458.54 229.90,458.51 230.70,458.49 231.50,458.46 232.31,458.43 233.11,458.41 233.91,458.38 234.72,458.36 235.52,458.33 236.32,458.31 237.12,458.28 237.93,458.26 238.73,458.23 239.53,458.21 240.33,458.19 241.13,458.16 241.94,458.14 242.74,458.12 243.54,458.10 244.34,458.07 245.15,458.05 245.95,458.03 246.75,458.01 247.56,457.99 248.36,457.97 249.16,457.95 249.96,457.93 250.76,457.91 251.57,457.89 252.37,457.87 253.17,457.86 253.97,457.84 254.78,457.82 255.58,457.80 256.38,457.78 257.19,457.77 257.99,457.75 258.79,457.73 259.59,457.72 260.39,457.70 261.20,457.68 262.00,457.67 262.80,457.65 263.61,457.64 264.41,457.62 265.21,457.60 266.01,457.59 266.81,457.57 267.62,457.56 268.42,457.55 269.22,457.53 270.02,457.52 270.83,457.50 271.63,457.49 272.43,457.48 273.24,457.46 274.04,457.45 274.84,457.44 275.64,457.42 276.44,457.41 277.25,457.40 278.05,457.39 278.85,457.38 279.65,457.36 280.46,457.35 281.26,457.34 282.06,457.33 282.87,457.32 283.67,457.31 284.47,457.30 285.27,457.28 286.07,457.27 286.88,457.26 287.68,457.25 288.48,457.24 289.28,457.23 290.09,457.22 290.89,457.21 291.69,457.20 292.50,457.19 293.30,457.18 294.10,457.17 294.90,458.22 295.70,459.22 296.51,460.20 297.31,461.15 298.11,462.07 298.91,462.95 299.72,463.82 300.52,464.65 301.32,465.46 302.12,466.24 302.93,467.00 303.73,467.74 304.53,468.45 305.34,469.14 306.14,469.81 306.94,470.46 307.74,471.09 308.54,471.70 309.35,472.29 310.15,472.86 310.95,473.42 311.75,473.95 312.56,474.48 313.36,474.98 314.16,475.47 314.97,475.94 315.77,476.40 316.57,476.85 317.37,477.28 318.18,477.69 318.98,478.10 319.78,478.49 320.58,478.87 321.38,479.24 322.19,479.59 322.99,479.94 323.79,480.28 324.60,480.60 325.40,480.91 326.20,481.22 327.00,481.51 327.81,481.80 328.61,482.08 329.41,482.35 330.21,482.61 331.01,482.86 331.82,483.10 332.62,483.34 333.42,483.57 334.23,483.79 335.03,484.01 335.83,484.22 336.63,484.42 337.44,484.61 338.24,484.80 339.04,484.99 339.84,485.17 340.64,485.34 341.45,485.51 342.25,485.67 343.05,485.83 343.86,485.98 344.66,486.13 345.46,486.27 346.26,486.41 347.06,486.54 347.87,486.67 348.67,486.80 349.47,486.92 350.27,487.04 351.08,487.15 351.88,487.27 352.68,487.37 353.49,487.48 354.29,487.58 355.09,487.68 355.89,487.77 356.69,487.86 357.50,487.95 358.30,488.04 359.10,488.12 359.90,488.20 360.71,488.28 361.51,488.36 362.31,488.43 363.12,488.50 363.92,488.57 364.72,488.64 365.52,488.71 366.32,488.77 367.13,488.83 367.93,488.89 368.73,488.95 369.54,489.00 370.34,489.06 371.14,489.11 371.94,489.16 372.75,489.21 373.55,489.26 374.35,489.30 375.15,489.35 375.95,489.39 376.76,489.43 377.56,489.47 378.36,489.51 379.17,489.55 379.97,489.59 380.77,489.62 381.57,489.66 382.38,489.69 383.18,489.72 383.98,489.75 384.78,489.78 385.58,489.81 386.39,489.84 387.19,489.87 387.99,489.90 388.80,489.92 389.60,489.95 390.40,489.97" fill="none" stroke="#000" stroke-width="2.0" stroke-linejoin="round" stroke-linecap="round"/>
<polyline points="101.50,498.10 102.30,496.43 103.11,494.28 103.91,491.83 104.71,489.20 105.51,486.49 106.31,483.76 107.12,481.06 107.92,478.43 108.72,475.90 109.53,473.48 110.33,471.17 111.13,468.99 111.93,466.93 112.73,465.00 113.54,463.19 114.34,461.49 115.14,459.91 115.94,458.43 116.75,457.06 117.55,455.78 118.35,454.59 119.16,453.49 119.96,452.46 120.76,451.51 121.56,450.63 122.36,449.81 123.17,449.05 123.97,448.35 124.77,447.69 125.58,447.09 126.38,446.53 127.18,446.01 127.98,445.53 128.78,445.09 129.59,444.68 130.39,444.29 131.19,443.94 132.00,443.61 132.80,443.31 133.60,443.03 134.40,442.77 135.20,442.53 136.01,442.31 136.81,442.10 137.61,441.91 138.41,441.73 139.22,441.57 140.02,441.42 140.82,441.28 141.62,441.15 142.43,441.03 143.23,440.92 144.03,440.81 144.84,440.72 145.64,440.63 146.44,440.55 147.24,440.47 148.05,440.40 148.85,440.34 149.65,440.28 150.45,440.22 151.25,440.17 152.06,440.12 152.86,440.08 153.66,440.04 154.47,440.00 155.27,439.96 156.07,439.93 156.87,439.90 157.68,439.87 158.48,439.85 159.28,439.82 160.08,439.80 160.88,439.78 161.69,439.76 162.49,439.74 163.29,439.73 164.09,439.71 164.90,439.70 165.70,439.69 166.50,439.67 167.31,439.66 168.11,439.65 168.91,439.64 169.71,439.63 170.51,439.63 171.32,439.62 172.12,439.61 172.92,439.61 173.72,439.60 174.53,439.59 175.33,439.59 176.13,439.58 176.94,439.58 177.74,439.58 178.54,439.57 179.34,439.57 180.14,439.56 180.95,439.56 181.75,439.56 182.55,439.56 183.36,439.55 184.16,439.55 184.96,439.55 185.76,439.55 186.56,439.55 187.37,439.54 188.17,439.54 188.97,439.54 189.78,439.54 190.58,439.54 191.38,439.54 192.18,439.54 192.99,439.54 193.79,439.54 194.59,439.53 195.39,439.53 196.19,439.53 197.00,439.53 197.80,439.53 198.60,439.53 199.41,439.53 200.21,439.53 201.01,439.53 201.81,439.53 202.62,439.53 203.42,439.53 204.22,439.53 205.02,439.53 205.82,439.53 206.63,439.53 207.43,439.53 208.23,439.53 209.03,439.53 209.84,439.53 210.64,439.53 211.44,439.53 212.25,439.53 213.05,439.53 213.85,439.53 214.65,439.53 215.45,439.53 216.26,439.53 217.06,439.53 217.86,439.53 218.66,439.53 219.47,439.53 220.27,439.53 221.07,439.53 221.88,439.53 222.68,439.53 223.48,439.53 224.28,439.53 225.08,439.53 225.89,439.53 226.69,439.53 227.49,439.53 228.30,439.53 229.10,439.53 229.90,439.53 230.70,439.53 231.50,439.52 232.31,439.52 233.11,439.52 233.91,439.52 234.72,439.52 235.52,439.52 236.32,439.52 237.12,439.52 237.93,439.52 238.73,439.52 239.53,439.52 240.33,439.52 241.13,439.52 241.94,439.52 242.74,439.52 243.54,439.52 244.34,439.52 245.15,439.52 245.95,439.52 246.75,439.52 247.56,439.52 248.36,439.52 249.16,439.52 249.96,439.52 250.76,439.52 251.57,439.52 252.37,439.52 253.17,439.52 253.97,439.52 254.78,439.52 255.58,439.52 256.38,439.52 257.19,439.52 257.99,439.52 258.79,439.52 259.59,439.52 260.39,439.52 261.20,439.52 262.00,439.52 262.80,439.52 263.61,439.52 264.41,439.52 265.21,439.52 266.01,439.52 266.81,439.52 267.62,439.52 268.42,439.52 269.22,439.52 270.02,439.52 270.83,439.52 271.63,439.52 272.43,439.52 273.24,439.52 274.04,439.52 274.84,439.52 275.64,439.52 276.44,439.52 277.25,439.52 278.05,439.52 278.85,439.52 279.65,439.52 280.46,439.52 281.26,439.52 282.06,439.52 282.87,439.52 283.67,439.52 284.47,439.52 285.27,439.52 286.07,439.52 286.88,439.52 287.68,439.52 288.48,439.52 289.28,439.52 290.09,439.52 290.89,439.52 291.69,439.52 292.50,439.52 293.30,439.52 294.10,439.52 294.90,442.52 295.70,445.36 296.51,448.04 297.31,450.57 298.11,452.97 298.91,455.24 299.72,457.38 300.52,459.41 301.32,461.33 302.12,463.14 302.93,464.86 303.73,466.48 304.53,468.02 305.34,469.47 306.14,470.84 306.94,472.14 307.74,473.37 308.54,474.53 309.35,475.63 310.15,476.67 310.95,477.65 311.75,478.58 312.56,479.46 313.36,480.29 314.16,481.07 314.97,481.82 315.77,482.52 316.57,483.19 317.37,483.82 318.18,484.41 318.98,484.97 319.78,485.51 320.58,486.01 321.38,486.49 322.19,486.94 322.99,487.36 323.79,487.76 324.60,488.14 325.40,488.50 326.20,488.85 327.00,489.17 327.81,489.47 328.61,489.76 329.41,490.03 330.21,490.29 331.01,490.54 331.82,490.77 332.62,490.98 333.42,491.19 334.23,491.39 335.03,491.57 335.83,491.74 336.63,491.91 337.44,492.07 338.24,492.21 339.04,492.35 339.84,492.48 340.64,492.61 341.45,492.73 342.25,492.84 343.05,492.95 343.86,493.04 344.66,493.14 345.46,493.23 346.26,493.31 347.06,493.39 347.87,493.47 348.67,493.54 349.47,493.61 350.27,493.67 351.08,493.73 351.88,493.79 352.68,493.84 353.49,493.90 354.29,493.94 355.09,493.99 355.89,494.03 356.69,494.07 357.50,494.11 358.30,494.15 359.10,494.18 359.90,494.22 360.71,494.25 361.51,494.28 362.31,494.30 363.12,494.33 363.92,494.36 364.72,494.38 365.52,494.40 366.32,494.42 367.13,494.44 367.93,494.46 368.73,494.48 369.54,494.50 370.34,494.51 371.14,494.53 371.94,494.54 372.75,494.55 373.55,494.57 374.35,494.58 375.15,494.59 375.95,494.60 376.76,494.61 377.56,494.62 378.36,494.63 379.17,494.64 379.97,494.65 380.77,494.65 381.57,494.66 382.38,494.67 383.18,494.67 383.98,494.68 384.78,494.69 385.58,494.69 386.39,494.70 387.19,494.70 387.99,494.71 388.80,494.71 389.60,494.72 390.40,494.72" fill="none" stroke="#000" stroke-width="2.0" stroke-linejoin="round" stroke-linecap="round"/>
<polyline points="101.50,498.10 102.30,490.64 103.11,483.85 103.91,477.68 104.71,472.05 105.51,466.93 106.31,462.26 107.12,458.01 107.92,454.13 108.72,450.59 109.53,447.36 110.33,444.41 111.13,441.71 111.93,439.25 112.73,436.99 113.54,434.93 114.34,433.04 115.14,431.30 115.94,429.71 116.75,428.25 117.55,426.90 118.35,425.67 119.16,424.53 119.96,423.48 120.76,422.51 121.56,421.61 122.36,420.79 123.17,420.02 123.97,419.31 124.77,418.65 125.58,418.04 126.38,417.47 127.18,416.94 127.98,416.44 128.78,415.98 129.59,415.55 130.39,415.14 131.19,414.76 132.00,414.40 132.80,414.07 133.60,413.75 134.40,413.45 135.20,413.17 136.01,412.90 136.81,412.65 137.61,412.41 138.41,412.18 139.22,411.97 140.02,411.76 140.82,411.56 141.62,411.38 142.43,411.20 143.23,411.02 144.03,410.86 144.84,410.70 145.64,410.55 146.44,410.41 147.24,410.27 148.05,410.13 148.85,410.00 149.65,409.88 150.45,409.76 151.25,409.64 152.06,409.53 152.86,409.42 153.66,409.31 154.47,409.21 155.27,409.11 156.07,409.01 156.87,408.92 157.68,408.83 158.48,408.74 159.28,408.66 160.08,408.58 160.88,408.50 161.69,408.42 162.49,408.34 163.29,408.27 164.09,408.20 164.90,408.13 165.70,408.06 166.50,407.99 167.31,407.93 168.11,407.87 168.91,407.81 169.71,407.75 170.51,407.69 171.32,407.63 172.12,407.58 172.92,407.52 173.72,407.47 174.53,407.42 175.33,407.37 176.13,407.32 176.94,407.27 177.74,407.23 178.54,407.18 179.34,407.14 180.14,407.10 180.95,407.05 181.75,407.01 182.55,406.97 183.36,406.93 184.16,406.90 184.96,406.86 185.76,406.82 186.56,406.79 187.37,406.75 188.17,406.72 188.97,406.69 189.78,406.65 190.58,406.62 191.38,406.59 192.18,406.56 192.99,406.53 193.79,406.51 194.59,406.48 195.39,406.45 196.19,406.42 197.00,406.40 197.80,406.37 198.60,406.35 199.41,406.32 200.21,406.30 201.01,406.28 201.81,406.26 202.62,406.23 203.42,406.21 204.22,406.19 205.02,406.17 205.82,406.15 206.63,406.13 207.43,406.11 208.23,406.09 209.03,406.08 209.84,406.06 210.64,406.04 211.44,406.02 212.25,406.01 213.05,405.99 213.85,405.98 214.65,405.96 215.45,405.95 216.26,405.93 217.06,405.92 217.86,405.90 218.66,405.89 219.47,405.88 220.27,405.86 221.07,405.85 221.88,405.84 222.68,405.83 223.48,405.81 224.28,405.80 225.08,405.79 225.89,405.78 226.69,405.77 227.49,405.76 228.30,405.75 229.10,405.74 229.90,405.73 230.70,405.72 231.50,405.71 232.31,405.70 233.11,405.69 233.91,405.68 234.72,405.68 235.52,405.67 236.32,405.66 237.12,405.65 237.93,405.64 238.73,405.64 239.53,405.63 240.33,405.62 241.13,405.62 241.94,405.61 242.74,405.60 243.54,405.60 244.34,405.59 245.15,405.58 245.95,405.58 246.75,405.57 247.56,405.57 248.36,405.56 249.16,405.55 249.96,405.55 250.76,405.54 251.57,405.54 252.37,405.53 253.17,405.53 253.97,405.52 254.78,405.52 255.58,405.51 256.38,405.51 257.19,405.51 257.99,405.50 258.79,405.50 259.59,405.49 260.39,405.49 261.20,405.49 262.00,405.48 262.80,405.48 263.61,405.47 264.41,405.47 265.21,405.47 266.01,405.46 266.81,405.46 267.62,405.46 268.42,405.45 269.22,405.45 270.02,405.45 270.83,405.45 271.63,405.44 272.43,405.44 273.24,405.44 274.04,405.43 274.84,405.43 275.64,405.43 276.44,405.43 277.25,405.42 278.05,405.42 278.85,405.42 279.65,405.42 280.46,405.42 281.26,405.41 282.06,405.41 282.87,405.41 283.67,405.41 284.47,405.41 285.27,405.40 286.07,405.40 286.88,405.40 287.68,405.40 288.48,405.40 289.28,405.39 290.09,405.39 290.89,405.39 291.69,405.39 292.50,405.39 293.30,405.39 294.10,405.39 294.90,409.49 295.70,413.36 296.51,417.01 297.31,420.45 298.11,423.70 298.91,426.76 299.72,429.65 300.52,432.38 301.32,434.95 302.12,437.38 302.93,439.67 303.73,441.83 304.53,443.87 305.34,445.80 306.14,447.61 306.94,449.32 307.74,450.94 308.54,452.46 309.35,453.90 310.15,455.25 310.95,456.53 311.75,457.74 312.56,458.88 313.36,459.95 314.16,460.97 314.97,461.92 315.77,462.82 316.57,463.67 317.37,464.48 318.18,465.23 318.98,465.95 319.78,466.62 320.58,467.26 321.38,467.86 322.19,468.42 322.99,468.96 323.79,469.46 324.60,469.94 325.40,470.39 326.20,470.81 327.00,471.21 327.81,471.58 328.61,471.94 329.41,472.27 330.21,472.59 331.01,472.89 331.82,473.17 332.62,473.44 333.42,473.69 334.23,473.92 335.03,474.14 335.83,474.35 336.63,474.55 337.44,474.74 338.24,474.92 339.04,475.08 339.84,475.24 340.64,475.39 341.45,475.53 342.25,475.66 343.05,475.78 343.86,475.90 344.66,476.01 345.46,476.12 346.26,476.22 347.06,476.31 347.87,476.40 348.67,476.48 349.47,476.56 350.27,476.63 351.08,476.70 351.88,476.77 352.68,476.83 353.49,476.89 354.29,476.94 355.09,476.99 355.89,477.04 356.69,477.09 357.50,477.13 358.30,477.17 359.10,477.21 359.90,477.25 360.71,477.28 361.51,477.32 362.31,477.35 363.12,477.38 363.92,477.40 364.72,477.43 365.52,477.45 366.32,477.48 367.13,477.50 367.93,477.52 368.73,477.54 369.54,477.56 370.34,477.57 371.14,477.59 371.94,477.61 372.75,477.62 373.55,477.63 374.35,477.65 375.15,477.66 375.95,477.67 376.76,477.68 377.56,477.69 378.36,477.70 379.17,477.71 379.97,477.72 380.77,477.73 381.57,477.73 382.38,477.74 383.18,477.75 383.98,477.75 384.78,477.76 385.58,477.77 386.39,477.77 387.19,477.78 387.99,477.78 388.80,477.78 389.60,477.79 390.40,477.79" fill="none" stroke="#000" stroke-width="2.0" stroke-linejoin="round" stroke-linecap="round"/>
<polyline points="101.50,498.10 102.30,480.71 103.11,466.92 103.91,455.69 104.71,446.33 105.51,438.33 106.31,431.37 107.12,425.20 107.92,419.67 108.72,414.65 109.53,410.06 110.33,405.83 111.13,401.93 111.93,398.30 112.73,394.93 113.54,391.78 114.34,388.85 115.14,386.11 115.94,383.55 116.75,381.15 117.55,378.90 118.35,376.80 119.16,374.84 119.96,372.99 120.76,371.27 121.56,369.65 122.36,368.14 123.17,366.72 123.97,365.39 124.77,364.15 125.58,362.98 126.38,361.89 127.18,360.87 127.98,359.91 128.78,359.01 129.59,358.17 130.39,357.38 131.19,356.65 132.00,355.95 132.80,355.31 133.60,354.70 134.40,354.13 135.20,353.60 136.01,353.10 136.81,352.63 137.61,352.19 138.41,351.78 139.22,351.40 140.02,351.04 140.82,350.70 141.62,350.39 142.43,350.09 143.23,349.81 144.03,349.55 144.84,349.31 145.64,349.08 146.44,348.87 147.24,348.67 148.05,348.48 148.85,348.30 149.65,348.14 150.45,347.99 151.25,347.84 152.06,347.71 152.86,347.58 153.66,347.46 154.47,347.35 155.27,347.24 156.07,347.15 156.87,347.06 157.68,346.97 158.48,346.89 159.28,346.81 160.08,346.74 160.88,346.68 161.69,346.62 162.49,346.56 163.29,346.50 164.09,346.45 164.90,346.41 165.70,346.36 166.50,346.32 167.31,346.28 168.11,346.24 168.91,346.21 169.71,346.18 170.51,346.15 171.32,346.12 172.12,346.09 172.92,346.07 173.72,346.04 174.53,346.02 175.33,346.00 176.13,345.98 176.94,345.96 177.74,345.95 178.54,345.93 179.34,345.92 180.14,345.90 180.95,345.89 181.75,345.88 182.55,345.87 183.36,345.86 184.16,345.85 184.96,345.84 185.76,345.83 186.56,345.82 187.37,345.81 188.17,345.81 188.97,345.80 189.78,345.79 190.58,345.79 191.38,345.78 192.18,345.78 192.99,345.77 193.79,345.77 194.59,345.76 195.39,345.76 196.19,345.75 197.00,345.75 197.80,345.75 198.60,345.74 199.41,345.74 200.21,345.74 201.01,345.74 201.81,345.73 202.62,345.73 203.42,345.73 204.22,345.73 205.02,345.73 205.82,345.72 206.63,345.72 207.43,345.72 208.23,345.72 209.03,345.72 209.84,345.72 210.64,345.72 211.44,345.71 212.25,345.71 213.05,345.71 213.85,345.71 214.65,345.71 215.45,345.71 216.26,345.71 217.06,345.71 217.86,345.71 218.66,345.71 219.47,345.71 220.27,345.71 221.07,345.71 221.88,345.71 222.68,345.71 223.48,345.70 224.28,345.70 225.08,345.70 225.89,345.70 226.69,345.70 227.49,345.70 228.30,345.70 229.10,345.70 229.90,345.70 230.70,345.70 231.50,345.70 232.31,345.70 233.11,345.70 233.91,345.70 234.72,345.70 235.52,345.70 236.32,345.70 237.12,345.70 237.93,345.70 238.73,345.70 239.53,345.70 240.33,345.70 241.13,345.70 241.94,345.70 242.74,345.70 243.54,345.70 244.34,345.70 245.15,345.70 245.95,345.70 246.75,345.70 247.56,345.70 248.36,345.70 249.16,345.70 249.96,345.70 250.76,345.70 251.57,345.70 252.37,345.70 253.17,345.70 253.97,345.70 254.78,345.70 255.58,345.70 256.38,345.70 257.19,345.70 257.99,345.70 258.79,345.70 259.59,345.70 260.39,345.70 261.20,345.70 262.00,345.70 262.80,345.70 263.61,345.70 264.41,345.70 265.21,345.70 266.01,345.70 266.81,345.70 267.62,345.70 268.42,345.70 269.22,345.70 270.02,345.70 270.83,345.70 271.63,345.70 272.43,345.70 273.24,345.70 274.04,345.70 274.84,345.70 275.64,345.70 276.44,345.70 277.25,345.70 278.05,345.70 278.85,345.70 279.65,345.70 280.46,345.70 281.26,345.70 282.06,345.70 282.87,345.70 283.67,345.70 284.47,345.70 285.27,345.70 286.07,345.70 286.88,345.70 287.68,345.70 288.48,345.70 289.28,345.70 290.09,345.70 290.89,345.70 291.69,345.70 292.50,345.70 293.30,345.70 294.10,345.70 294.90,350.29 295.70,354.69 296.51,358.91 297.31,362.96 298.11,366.84 298.91,370.57 299.72,374.15 300.52,377.58 301.32,380.87 302.12,384.03 302.93,387.06 303.73,389.96 304.53,392.75 305.34,395.42 306.14,397.99 306.94,400.45 307.74,402.81 308.54,405.08 309.35,407.25 310.15,409.34 310.95,411.34 311.75,413.25 312.56,415.10 313.36,416.86 314.16,418.56 314.97,420.18 315.77,421.74 316.57,423.24 317.37,424.67 318.18,426.05 318.98,427.37 319.78,428.64 320.58,429.85 321.38,431.02 322.19,432.14 322.99,433.21 323.79,434.24 324.60,435.23 325.40,436.18 326.20,437.08 327.00,437.96 327.81,438.79 328.61,439.60 329.41,440.37 330.21,441.10 331.01,441.81 331.82,442.49 332.62,443.15 333.42,443.77 334.23,444.37 335.03,444.95 335.83,445.50 336.63,446.03 337.44,446.54 338.24,447.03 339.04,447.49 339.84,447.94 340.64,448.37 341.45,448.79 342.25,449.18 343.05,449.56 343.86,449.93 344.66,450.28 345.46,450.62 346.26,450.94 347.06,451.25 347.87,451.54 348.67,451.83 349.47,452.10 350.27,452.36 351.08,452.61 351.88,452.85 352.68,453.09 353.49,453.31 354.29,453.52 355.09,453.72 355.89,453.92 356.69,454.11 357.50,454.29 358.30,454.46 359.10,454.63 359.90,454.79 360.71,454.94 361.51,455.08 362.31,455.22 363.12,455.36 363.92,455.49 364.72,455.61 365.52,455.73 366.32,455.85 367.13,455.96 367.93,456.06 368.73,456.16 369.54,456.26 370.34,456.35 371.14,456.44 371.94,456.53 372.75,456.61 373.55,456.69 374.35,456.76 375.15,456.83 375.95,456.90 376.76,456.97 377.56,457.03 378.36,457.09 379.17,457.15 379.97,457.21 380.77,457.26 381.57,457.32 382.38,457.37 383.18,457.41 383.98,457.46 384.78,457.50 385.58,457.55 386.39,457.59 387.19,457.62 387.99,457.66 388.80,457.70 389.60,457.73 390.40,457.76" fill="none" stroke="#000" stroke-width="2.0" stroke-linejoin="round" stroke-linecap="round"/>
<path d="M101.50,775.80 L102.30,774.92 L103.11,774.84 L103.91,774.92 L104.71,774.96 L105.51,774.97 L106.31,775.03 L107.12,774.67 L107.92,774.57 L108.72,774.51 L109.53,774.35 L110.33,774.27 L111.13,774.36 L111.93,774.53 L112.73,774.59 L113.54,774.66 L114.34,775.00 L115.14,775.19 L115.94,774.90 L116.75,774.99 L117.55,774.73 L118.35,774.55 L119.16,774.34 L119.96,774.00 L120.76,774.06 L121.56,773.75 L122.36,773.47 L123.17,773.79 L123.97,773.72 L124.77,773.92 L125.58,774.19 L126.38,774.05 L127.18,774.28 L127.98,773.92 L128.78,774.13 L129.59,774.25 L130.39,774.22 L131.19,774.23 L132.00,774.09 L132.80,773.85 L133.60,774.02 L134.40,773.92 L135.20,773.92 L136.01,773.87 L136.81,773.61 L137.61,773.64 L138.41,773.65 L139.22,773.84 L140.02,773.88 L140.82,773.94 L141.62,773.83 L142.43,773.78 L143.23,773.76 L144.03,774.05 L144.84,773.87 L145.64,773.70 L146.44,773.56 L147.24,773.51 L148.05,773.57 L148.85,773.71 L149.65,773.95 L150.45,774.15 L151.25,774.00 L152.06,774.07 L152.86,773.95 L153.66,774.03 L154.47,774.19 L155.27,773.93 L156.07,773.71 L156.87,773.76 L157.68,773.72 L158.48,773.60 L159.28,773.57 L160.08,773.93 L160.88,773.78 L161.69,773.60 L162.49,773.74 L163.29,773.81 L164.09,773.74 L164.90,773.76 L165.70,773.80 L166.50,773.69 L167.31,773.46 L168.11,773.46 L168.91,773.41 L169.71,773.30 L170.51,773.58 L171.32,773.51 L172.12,773.25 L172.92,773.46 L173.72,773.71 L174.53,773.70 L175.33,773.90 L176.13,774.10 L176.94,774.48 L177.74,774.17 L178.54,774.13 L179.34,774.08 L180.14,774.08 L180.95,773.95 L181.75,773.99 L182.55,773.93 L183.36,774.02 L184.16,773.61 L184.96,773.84 L185.76,773.81 L186.56,774.15 L187.37,773.81 L188.17,774.03 L188.97,773.74 L189.78,773.80 L190.58,773.63 L191.38,773.90 L192.18,773.66 L192.99,773.81 L193.79,773.79 L194.59,774.14 L195.39,773.85 L196.19,774.04 L197.00,774.08 L197.80,773.95 L198.60,773.63 L199.41,773.73 L200.21,773.55 L201.01,773.57 L201.81,773.21 L202.62,773.18 L203.42,773.45 L204.22,773.45 L205.02,773.91 L205.82,774.05 L206.63,774.32 L207.43,774.41 L208.23,774.07 L209.03,774.49 L209.84,774.46 L210.64,774.30 L211.44,774.35 L212.25,773.78 L213.05,773.79 L213.85,773.71 L214.65,773.60 L215.45,773.88 L216.26,773.79 L217.06,773.97 L217.86,773.78 L218.66,773.85 L219.47,774.22 L220.27,774.15 L221.07,774.25 L221.88,774.35 L222.68,774.30 L223.48,774.36 L224.28,774.41 L225.08,774.57 L225.89,774.35 L226.69,774.07 L227.49,774.16 L228.30,773.83 L229.10,773.76 L229.90,773.78 L230.70,773.50 L231.50,773.32 L232.31,773.17 L233.11,773.18 L233.91,773.28 L234.72,773.32 L235.52,773.66 L236.32,773.62 L237.12,773.65 L237.93,773.84 L238.73,773.95 L239.53,773.77 L240.33,773.85 L241.13,773.61 L241.94,773.89 L242.74,773.71 L243.54,773.50 L244.34,773.37 L245.15,773.20 L245.95,773.23 L246.75,773.79 L247.56,773.60 L248.36,773.68 L249.16,773.22 L249.96,772.90 L250.76,773.17 L251.57,773.12 L252.37,773.47 L253.17,773.43 L253.97,773.12 L254.78,773.00 L255.58,772.86 L256.38,772.78 L257.19,772.98 L257.99,772.98 L258.79,773.05 L259.59,772.75 L260.39,772.67 L261.20,772.52 L262.00,772.72 L262.80,773.22 L263.61,773.61 L264.41,773.25 L265.21,773.04 L266.01,773.09 L266.81,773.12 L267.62,773.03 L268.42,773.15 L269.22,773.07 L270.02,773.11 L270.83,773.13 L271.63,773.52 L272.43,773.61 L273.24,773.49 L274.04,773.22 L274.84,773.31 L275.64,773.31 L276.44,773.34 L277.25,772.91 L278.05,772.80 L278.85,772.52 L279.65,772.77 L280.46,772.69 L281.26,772.81 L282.06,772.59 L282.87,772.78 L283.67,772.91 L284.47,773.09 L285.27,772.89 L286.07,773.05 L286.88,773.26 L287.68,773.42 L288.48,773.48 L289.28,773.65 L290.09,773.44 L290.89,773.32 L291.69,773.26 L292.50,773.63 L293.30,773.63 L294.10,773.60 L294.90,773.89 L295.70,774.36 L296.51,774.55 L297.31,774.87 L298.11,774.82 L298.91,774.84 L299.72,774.53 L300.52,774.54 L301.32,774.06 L302.12,774.08 L302.93,773.86 L303.73,773.86 L304.53,773.62 L305.34,773.74 L306.14,774.17 L306.94,774.31 L307.74,774.48 L308.54,774.74 L309.35,774.82 L310.15,774.94 L310.95,775.12 L311.75,775.15 L312.56,775.01 L313.36,774.66 L314.16,774.52 L314.97,774.70 L315.77,774.79 L316.57,774.75 L317.37,774.92 L318.18,774.83 L318.98,774.92 L319.78,774.89 L320.58,774.98 L321.38,774.93 L322.19,774.92 L322.99,774.82 L323.79,774.67 L324.60,774.50 L325.40,774.86 L326.20,774.89 L327.00,775.06 L327.81,775.21 L328.61,775.47 L329.41,775.38 L330.21,775.30 L331.01,775.25 L331.82,775.51 L332.62,775.30 L333.42,775.08 L334.23,774.99 L335.03,774.55 L335.83,774.50 L336.63,774.32 L337.44,774.73 L338.24,774.86 L339.04,774.81 L339.84,774.90 L340.64,775.28 L341.45,775.32 L342.25,775.37 L343.05,775.44 L343.86,775.65 L344.66,775.16 L345.46,775.33 L346.26,775.17 L347.06,774.90 L347.87,774.59 L348.67,774.78 L349.47,775.40 L350.27,775.37 L351.08,775.23 L351.88,775.48 L352.68,775.47 L353.49,775.66 L354.29,775.70 L355.09,775.85 L355.89,775.79 L356.69,775.41 L357.50,775.21 L358.30,775.27 L359.10,775.23 L359.90,775.32 L360.71,775.25 L361.51,775.33 L362.31,775.15 L363.12,775.13 L363.92,775.19 L364.72,775.28 L365.52,775.25 L366.32,775.31 L367.13,775.10 L367.93,775.21 L368.73,775.20 L369.54,775.14 L370.34,775.08 L371.14,774.96 L371.94,774.95 L372.75,774.95 L373.55,775.06 L374.35,775.20 L375.15,775.15 L375.95,775.11 L376.76,775.28 L377.56,775.14 L378.36,775.26 L379.17,775.56 L379.97,775.62 L380.77,775.48 L381.57,775.38 L382.38,775.30 L383.18,775.30 L383.98,775.52 L384.78,775.78 L385.58,775.63 L386.39,775.46 L387.19,775.43 L387.99,775.52 L388.80,775.45 L389.60,775.48 L390.40,775.65" fill="none" stroke="#f0007a" stroke-width="3.6" stroke-linejoin="round" stroke-linecap="round"/>
<path d="M101.50,775.80 L102.30,774.88 L103.11,774.31 L103.91,773.76 L104.71,773.25 L105.51,772.78 L106.31,772.25 L107.12,771.69 L107.92,771.14 L108.72,770.92 L109.53,770.54 L110.33,769.96 L111.13,769.46 L111.93,769.12 L112.73,768.80 L113.54,768.45 L114.34,768.22 L115.14,768.08 L115.94,767.51 L116.75,767.47 L117.55,767.19 L118.35,766.98 L119.16,766.51 L119.96,766.23 L120.76,765.98 L121.56,765.44 L122.36,765.10 L123.17,764.76 L123.97,764.37 L124.77,764.18 L125.58,764.01 L126.38,763.62 L127.18,763.33 L127.98,763.12 L128.78,762.93 L129.59,762.70 L130.39,762.44 L131.19,762.06 L132.00,761.85 L132.80,761.43 L133.60,761.35 L134.40,761.14 L135.20,760.97 L136.01,761.01 L136.81,760.54 L137.61,760.27 L138.41,760.02 L139.22,759.70 L140.02,759.58 L140.82,759.28 L141.62,759.23 L142.43,758.88 L143.23,758.49 L144.03,758.46 L144.84,758.25 L145.64,758.04 L146.44,757.72 L147.24,757.38 L148.05,757.42 L148.85,757.21 L149.65,756.92 L150.45,756.87 L151.25,756.67 L152.06,756.66 L152.86,756.34 L153.66,756.26 L154.47,756.10 L155.27,755.84 L156.07,755.63 L156.87,755.52 L157.68,755.39 L158.48,755.52 L159.28,755.17 L160.08,755.10 L160.88,755.23 L161.69,755.16 L162.49,754.93 L163.29,754.76 L164.09,754.61 L164.90,754.30 L165.70,754.05 L166.50,754.11 L167.31,754.01 L168.11,753.66 L168.91,753.62 L169.71,753.46 L170.51,753.46 L171.32,753.45 L172.12,753.67 L172.92,753.44 L173.72,753.11 L174.53,752.95 L175.33,753.04 L176.13,753.23 L176.94,753.22 L177.74,752.93 L178.54,752.92 L179.34,752.62 L180.14,752.73 L180.95,752.92 L181.75,753.13 L182.55,753.10 L183.36,752.76 L184.16,752.56 L184.96,752.56 L185.76,752.58 L186.56,752.54 L187.37,752.42 L188.17,752.35 L188.97,752.12 L189.78,752.07 L190.58,751.91 L191.38,752.05 L192.18,751.90 L192.99,751.85 L193.79,751.74 L194.59,751.66 L195.39,751.47 L196.19,751.61 L197.00,751.43 L197.80,751.49 L198.60,751.52 L199.41,751.61 L200.21,751.46 L201.01,751.48 L201.81,751.43 L202.62,751.49 L203.42,751.31 L204.22,751.08 L205.02,750.86 L205.82,750.49 L206.63,750.28 L207.43,750.00 L208.23,749.86 L209.03,749.65 L209.84,749.50 L210.64,749.39 L211.44,749.36 L212.25,749.30 L213.05,749.32 L213.85,749.32 L214.65,749.33 L215.45,749.41 L216.26,749.31 L217.06,749.26 L217.86,749.22 L218.66,749.26 L219.47,749.19 L220.27,749.09 L221.07,749.08 L221.88,749.05 L222.68,748.80 L223.48,748.70 L224.28,748.52 L225.08,748.32 L225.89,748.26 L226.69,748.37 L227.49,748.25 L228.30,748.26 L229.10,748.19 L229.90,748.16 L230.70,748.04 L231.50,748.10 L232.31,748.15 L233.11,748.28 L233.91,748.04 L234.72,748.13 L235.52,748.05 L236.32,748.12 L237.12,747.94 L237.93,748.01 L238.73,747.86 L239.53,747.79 L240.33,747.49 L241.13,747.40 L241.94,747.37 L242.74,747.11 L243.54,747.04 L244.34,746.91 L245.15,746.96 L245.95,747.04 L246.75,746.94 L247.56,746.95 L248.36,747.00 L249.16,746.92 L249.96,746.87 L250.76,746.84 L251.57,746.86 L252.37,746.66 L253.17,746.54 L253.97,746.52 L254.78,746.23 L255.58,746.43 L256.38,746.42 L257.19,746.51 L257.99,746.35 L258.79,746.42 L259.59,746.36 L260.39,746.27 L261.20,746.08 L262.00,746.29 L262.80,745.92 L263.61,745.64 L264.41,745.65 L265.21,745.63 L266.01,745.73 L266.81,745.73 L267.62,745.82 L268.42,745.82 L269.22,745.82 L270.02,745.82 L270.83,746.05 L271.63,745.94 L272.43,745.87 L273.24,745.43 L274.04,745.38 L274.84,745.20 L275.64,745.02 L276.44,744.74 L277.25,744.80 L278.05,744.59 L278.85,744.52 L279.65,744.43 L280.46,744.57 L281.26,744.75 L282.06,744.81 L282.87,744.77 L283.67,744.75 L284.47,744.68 L285.27,744.74 L286.07,744.74 L286.88,744.93 L287.68,745.29 L288.48,745.01 L289.28,745.02 L290.09,745.25 L290.89,745.38 L291.69,745.29 L292.50,745.25 L293.30,745.02 L294.10,744.86 L294.90,745.03 L295.70,745.66 L296.51,745.96 L297.31,746.39 L298.11,747.01 L298.91,747.23 L299.72,747.44 L300.52,747.95 L301.32,748.48 L302.12,748.77 L302.93,749.08 L303.73,749.65 L304.53,750.04 L305.34,750.00 L306.14,750.55 L306.94,751.03 L307.74,751.44 L308.54,751.47 L309.35,751.94 L310.15,752.15 L310.95,752.31 L311.75,752.23 L312.56,752.60 L313.36,752.71 L314.16,752.77 L314.97,752.76 L315.77,753.15 L316.57,753.19 L317.37,753.36 L318.18,753.39 L318.98,753.77 L319.78,753.69 L320.58,753.67 L321.38,753.94 L322.19,754.27 L322.99,754.22 L323.79,754.29 L324.60,754.32 L325.40,754.62 L326.20,754.77 L327.00,755.23 L327.81,755.58 L328.61,755.50 L329.41,755.24 L330.21,755.23 L331.01,755.39 L331.82,755.61 L332.62,755.35 L333.42,755.21 L334.23,755.05 L335.03,755.07 L335.83,755.34 L336.63,755.63 L337.44,755.59 L338.24,755.66 L339.04,755.74 L339.84,755.99 L340.64,756.21 L341.45,756.20 L342.25,756.32 L343.05,756.29 L343.86,756.43 L344.66,756.60 L345.46,756.63 L346.26,756.74 L347.06,756.89 L347.87,756.94 L348.67,756.95 L349.47,756.85 L350.27,756.89 L351.08,756.99 L351.88,757.31 L352.68,757.57 L353.49,757.62 L354.29,757.58 L355.09,757.64 L355.89,757.73 L356.69,757.97 L357.50,758.09 L358.30,758.07 L359.10,758.07 L359.90,758.19 L360.71,758.27 L361.51,758.27 L362.31,758.52 L363.12,758.60 L363.92,758.44 L364.72,758.49 L365.52,758.49 L366.32,758.45 L367.13,758.26 L367.93,758.07 L368.73,758.10 L369.54,757.85 L370.34,757.97 L371.14,758.12 L371.94,758.13 L372.75,758.35 L373.55,758.48 L374.35,758.52 L375.15,758.92 L375.95,759.09 L376.76,759.27 L377.56,759.37 L378.36,759.42 L379.17,759.57 L379.97,759.26 L380.77,759.43 L381.57,759.57 L382.38,759.62 L383.18,759.64 L383.98,759.58 L384.78,759.43 L385.58,759.54 L386.39,759.45 L387.19,759.83 L387.99,759.68 L388.80,759.59 L389.60,759.61 L390.40,759.71" fill="none" stroke="#00e0e0" stroke-width="3.6" stroke-linejoin="round" stroke-linecap="round"/>
<path d="M101.50,775.80 L102.30,775.58 L103.11,774.64 L103.91,773.53 L104.71,772.34 L105.51,771.24 L106.31,770.00 L107.12,768.84 L107.92,767.57 L108.72,766.65 L109.53,765.74 L110.33,764.99 L111.13,764.50 L111.93,763.81 L112.73,763.30 L113.54,762.85 L114.34,762.26 L115.14,762.18 L115.94,761.80 L116.75,761.37 L117.55,760.86 L118.35,760.51 L119.16,760.13 L119.96,759.82 L120.76,759.32 L121.56,759.07 L122.36,758.50 L123.17,758.28 L123.97,757.89 L124.77,757.37 L125.58,756.87 L126.38,756.47 L127.18,756.03 L127.98,755.88 L128.78,755.43 L129.59,755.12 L130.39,754.56 L131.19,754.34 L132.00,754.25 L132.80,754.33 L133.60,754.14 L134.40,754.05 L135.20,753.86 L136.01,753.59 L136.81,753.39 L137.61,753.17 L138.41,752.96 L139.22,752.63 L140.02,752.09 L140.82,751.87 L141.62,751.55 L142.43,751.06 L143.23,751.10 L144.03,750.89 L144.84,750.71 L145.64,750.32 L146.44,750.13 L147.24,750.00 L148.05,749.82 L148.85,749.44 L149.65,749.33 L150.45,749.06 L151.25,748.89 L152.06,748.76 L152.86,748.54 L153.66,748.48 L154.47,748.10 L155.27,747.76 L156.07,747.79 L156.87,747.48 L157.68,747.30 L158.48,747.18 L159.28,746.92 L160.08,746.98 L160.88,746.76 L161.69,746.90 L162.49,746.99 L163.29,746.81 L164.09,747.08 L164.90,746.82 L165.70,746.56 L166.50,746.52 L167.31,746.23 L168.11,746.02 L168.91,745.83 L169.71,745.58 L170.51,745.42 L171.32,745.20 L172.12,745.10 L172.92,745.18 L173.72,745.36 L174.53,745.25 L175.33,745.16 L176.13,744.72 L176.94,744.68 L177.74,744.47 L178.54,744.36 L179.34,744.40 L180.14,744.18 L180.95,743.68 L181.75,743.60 L182.55,743.37 L183.36,743.31 L184.16,743.28 L184.96,743.31 L185.76,742.86 L186.56,742.43 L187.37,742.40 L188.17,742.38 L188.97,742.00 L189.78,742.11 L190.58,741.97 L191.38,741.92 L192.18,741.75 L192.99,741.96 L193.79,741.95 L194.59,741.53 L195.39,741.26 L196.19,741.25 L197.00,740.88 L197.80,740.70 L198.60,740.31 L199.41,740.39 L200.21,740.34 L201.01,740.16 L201.81,740.12 L202.62,739.94 L203.42,739.98 L204.22,740.07 L205.02,740.39 L205.82,740.46 L206.63,740.15 L207.43,739.94 L208.23,740.15 L209.03,739.95 L209.84,739.99 L210.64,739.82 L211.44,739.66 L212.25,739.34 L213.05,739.24 L213.85,739.02 L214.65,738.90 L215.45,738.73 L216.26,738.65 L217.06,738.54 L217.86,738.39 L218.66,738.53 L219.47,738.22 L220.27,738.09 L221.07,738.22 L221.88,738.10 L222.68,737.99 L223.48,738.15 L224.28,738.00 L225.08,737.80 L225.89,737.50 L226.69,737.60 L227.49,737.40 L228.30,737.14 L229.10,737.14 L229.90,736.72 L230.70,736.69 L231.50,736.72 L232.31,736.55 L233.11,736.44 L233.91,736.47 L234.72,736.36 L235.52,736.01 L236.32,735.76 L237.12,735.99 L237.93,735.70 L238.73,735.49 L239.53,735.74 L240.33,735.60 L241.13,735.65 L241.94,735.52 L242.74,735.68 L243.54,735.58 L244.34,735.43 L245.15,735.20 L245.95,735.07 L246.75,734.71 L247.56,734.72 L248.36,734.27 L249.16,734.02 L249.96,733.79 L250.76,733.82 L251.57,733.66 L252.37,733.82 L253.17,733.85 L253.97,733.92 L254.78,733.56 L255.58,733.38 L256.38,733.52 L257.19,733.50 L257.99,733.38 L258.79,733.45 L259.59,733.51 L260.39,733.50 L261.20,733.18 L262.00,733.29 L262.80,733.32 L263.61,733.10 L264.41,733.36 L265.21,733.24 L266.01,733.01 L266.81,732.55 L267.62,732.32 L268.42,732.68 L269.22,732.84 L270.02,732.79 L270.83,732.81 L271.63,732.67 L272.43,732.73 L273.24,732.65 L274.04,732.89 L274.84,732.82 L275.64,732.57 L276.44,732.33 L277.25,732.05 L278.05,732.11 L278.85,732.00 L279.65,731.82 L280.46,732.05 L281.26,731.72 L282.06,731.62 L282.87,731.51 L283.67,731.41 L284.47,731.58 L285.27,731.60 L286.07,731.41 L286.88,731.29 L287.68,730.83 L288.48,730.82 L289.28,730.71 L290.09,730.57 L290.89,730.74 L291.69,730.75 L292.50,730.42 L293.30,730.39 L294.10,730.32 L294.90,731.33 L295.70,732.21 L296.51,732.98 L297.31,733.48 L298.11,733.79 L298.91,734.30 L299.72,734.86 L300.52,735.30 L301.32,735.86 L302.12,736.27 L302.93,736.51 L303.73,737.09 L304.53,737.46 L305.34,737.89 L306.14,738.08 L306.94,738.30 L307.74,738.53 L308.54,738.78 L309.35,739.38 L310.15,739.68 L310.95,739.65 L311.75,740.15 L312.56,740.30 L313.36,740.35 L314.16,740.72 L314.97,740.41 L315.77,740.40 L316.57,740.44 L317.37,740.50 L318.18,740.73 L318.98,740.59 L319.78,740.86 L320.58,741.09 L321.38,741.26 L322.19,741.86 L322.99,741.88 L323.79,741.87 L324.60,741.90 L325.40,742.06 L326.20,742.25 L327.00,742.32 L327.81,742.57 L328.61,742.57 L329.41,742.93 L330.21,743.36 L331.01,743.59 L331.82,743.67 L332.62,743.75 L333.42,744.13 L334.23,744.33 L335.03,744.44 L335.83,744.71 L336.63,744.63 L337.44,744.78 L338.24,744.96 L339.04,745.19 L339.84,745.55 L340.64,745.25 L341.45,745.32 L342.25,745.60 L343.05,745.50 L343.86,745.51 L344.66,745.33 L345.46,745.24 L346.26,745.54 L347.06,745.44 L347.87,745.80 L348.67,745.71 L349.47,745.52 L350.27,745.61 L351.08,745.73 L351.88,746.26 L352.68,746.49 L353.49,746.37 L354.29,746.50 L355.09,746.63 L355.89,746.91 L356.69,747.14 L357.50,747.40 L358.30,747.85 L359.10,747.63 L359.90,747.60 L360.71,747.94 L361.51,748.23 L362.31,748.35 L363.12,748.51 L363.92,748.46 L364.72,748.51 L365.52,748.55 L366.32,748.77 L367.13,748.69 L367.93,748.70 L368.73,748.64 L369.54,748.72 L370.34,748.80 L371.14,748.91 L371.94,749.13 L372.75,748.95 L373.55,748.82 L374.35,749.01 L375.15,749.08 L375.95,749.10 L376.76,749.13 L377.56,749.03 L378.36,749.13 L379.17,749.03 L379.97,749.14 L380.77,749.39 L381.57,749.66 L382.38,749.58 L383.18,749.54 L383.98,749.52 L384.78,749.42 L385.58,749.64 L386.39,749.77 L387.19,749.91 L387.99,749.82 L388.80,749.95 L389.60,750.23 L390.40,750.25" fill="none" stroke="#0000ff" stroke-width="3.6" stroke-linejoin="round" stroke-linecap="round"/>
<path d="M101.50,775.80 L102.30,773.87 L103.11,772.65 L103.91,771.44 L104.71,770.01 L105.51,768.56 L106.31,767.49 L107.12,766.07 L107.92,764.78 L108.72,763.73 L109.53,762.74 L110.33,761.26 L111.13,760.30 L111.93,759.38 L112.73,758.32 L113.54,756.65 L114.34,755.86 L115.14,754.96 L115.94,753.89 L116.75,752.97 L117.55,752.18 L118.35,751.07 L119.16,750.51 L119.96,749.76 L120.76,749.53 L121.56,748.56 L122.36,747.93 L123.17,747.45 L123.97,746.88 L124.77,746.52 L125.58,745.94 L126.38,745.32 L127.18,744.82 L127.98,744.23 L128.78,743.73 L129.59,743.23 L130.39,742.82 L131.19,742.23 L132.00,741.33 L132.80,741.05 L133.60,740.17 L134.40,739.73 L135.20,739.22 L136.01,738.88 L136.81,738.54 L137.61,737.75 L138.41,737.28 L139.22,736.96 L140.02,736.55 L140.82,736.19 L141.62,735.78 L142.43,735.14 L143.23,734.91 L144.03,734.26 L144.84,734.24 L145.64,734.11 L146.44,733.75 L147.24,733.06 L148.05,732.60 L148.85,732.14 L149.65,731.99 L150.45,731.26 L151.25,731.11 L152.06,730.68 L152.86,730.04 L153.66,729.64 L154.47,729.36 L155.27,728.98 L156.07,728.77 L156.87,728.28 L157.68,727.76 L158.48,727.31 L159.28,726.97 L160.08,726.53 L160.88,726.17 L161.69,725.68 L162.49,725.40 L163.29,724.91 L164.09,724.66 L164.90,724.75 L165.70,724.04 L166.50,723.66 L167.31,723.54 L168.11,723.37 L168.91,723.15 L169.71,722.74 L170.51,722.43 L171.32,722.03 L172.12,721.47 L172.92,721.22 L173.72,720.82 L174.53,720.44 L175.33,719.84 L176.13,719.78 L176.94,719.67 L177.74,719.30 L178.54,719.20 L179.34,719.03 L180.14,718.99 L180.95,718.54 L181.75,718.17 L182.55,718.16 L183.36,717.82 L184.16,717.42 L184.96,717.35 L185.76,717.00 L186.56,716.85 L187.37,716.80 L188.17,716.65 L188.97,716.68 L189.78,716.42 L190.58,715.89 L191.38,715.56 L192.18,715.28 L192.99,715.07 L193.79,714.79 L194.59,714.50 L195.39,714.12 L196.19,713.58 L197.00,713.20 L197.80,713.23 L198.60,713.09 L199.41,712.65 L200.21,712.30 L201.01,711.88 L201.81,711.31 L202.62,711.25 L203.42,711.17 L204.22,711.13 L205.02,710.60 L205.82,710.41 L206.63,710.51 L207.43,710.26 L208.23,710.01 L209.03,710.15 L209.84,710.11 L210.64,709.71 L211.44,709.40 L212.25,709.54 L213.05,709.38 L213.85,708.82 L214.65,708.75 L215.45,708.74 L216.26,708.33 L217.06,707.94 L217.86,707.65 L218.66,707.24 L219.47,706.79 L220.27,706.68 L221.07,706.60 L221.88,706.56 L222.68,706.27 L223.48,706.13 L224.28,706.01 L225.08,705.95 L225.89,705.77 L226.69,705.87 L227.49,705.55 L228.30,705.23 L229.10,704.84 L229.90,704.73 L230.70,704.28 L231.50,703.93 L232.31,703.57 L233.11,703.64 L233.91,703.36 L234.72,703.27 L235.52,703.04 L236.32,702.62 L237.12,702.11 L237.93,702.23 L238.73,702.33 L239.53,702.30 L240.33,701.92 L241.13,701.55 L241.94,701.17 L242.74,701.21 L243.54,701.41 L244.34,701.23 L245.15,700.95 L245.95,700.65 L246.75,700.51 L247.56,700.18 L248.36,700.07 L249.16,699.88 L249.96,699.61 L250.76,699.01 L251.57,699.09 L252.37,698.82 L253.17,698.63 L253.97,698.50 L254.78,698.60 L255.58,698.53 L256.38,698.58 L257.19,698.36 L257.99,698.47 L258.79,698.42 L259.59,698.37 L260.39,698.04 L261.20,697.99 L262.00,698.00 L262.80,697.92 L263.61,697.79 L264.41,697.54 L265.21,697.52 L266.01,697.17 L266.81,697.12 L267.62,697.25 L268.42,697.17 L269.22,696.77 L270.02,696.59 L270.83,696.29 L271.63,696.12 L272.43,695.97 L273.24,696.14 L274.04,696.21 L274.84,695.94 L275.64,695.86 L276.44,695.96 L277.25,695.88 L278.05,695.76 L278.85,695.81 L279.65,695.50 L280.46,695.44 L281.26,695.21 L282.06,695.17 L282.87,694.96 L283.67,694.72 L284.47,694.31 L285.27,694.28 L286.07,694.15 L286.88,694.13 L287.68,693.86 L288.48,693.70 L289.28,693.60 L290.09,693.68 L290.89,693.68 L291.69,693.77 L292.50,693.81 L293.30,693.81 L294.10,693.92 L294.90,694.83 L295.70,695.59 L296.51,696.19 L297.31,696.66 L298.11,697.25 L298.91,697.90 L299.72,698.37 L300.52,698.91 L301.32,699.04 L302.12,699.45 L302.93,699.76 L303.73,700.34 L304.53,700.87 L305.34,701.33 L306.14,701.43 L306.94,701.77 L307.74,702.02 L308.54,702.03 L309.35,702.34 L310.15,702.63 L310.95,702.92 L311.75,703.00 L312.56,702.94 L313.36,703.26 L314.16,703.12 L314.97,703.33 L315.77,703.89 L316.57,704.06 L317.37,704.19 L318.18,704.25 L318.98,704.32 L319.78,704.62 L320.58,704.65 L321.38,705.08 L322.19,705.07 L322.99,705.11 L323.79,705.14 L324.60,705.25 L325.40,705.26 L326.20,705.29 L327.00,705.53 L327.81,705.50 L328.61,705.50 L329.41,705.56 L330.21,705.57 L331.01,705.74 L331.82,705.75 L332.62,705.80 L333.42,706.02 L334.23,705.76 L335.03,706.06 L335.83,706.29 L336.63,706.32 L337.44,706.38 L338.24,706.25 L339.04,706.45 L339.84,706.37 L340.64,706.46 L341.45,706.62 L342.25,706.69 L343.05,706.67 L343.86,706.80 L344.66,707.10 L345.46,707.15 L346.26,707.18 L347.06,707.50 L347.87,707.60 L348.67,707.87 L349.47,707.91 L350.27,707.76 L351.08,707.97 L351.88,708.04 L352.68,708.26 L353.49,708.34 L354.29,708.31 L355.09,708.26 L355.89,708.17 L356.69,708.40 L357.50,708.56 L358.30,708.60 L359.10,708.51 L359.90,708.48 L360.71,708.59 L361.51,708.62 L362.31,708.72 L363.12,708.53 L363.92,708.26 L364.72,708.35 L365.52,708.41 L366.32,708.42 L367.13,708.45 L367.93,708.43 L368.73,708.59 L369.54,708.79 L370.34,709.23 L371.14,709.48 L371.94,709.55 L372.75,709.59 L373.55,709.83 L374.35,709.96 L375.15,710.03 L375.95,710.16 L376.76,710.17 L377.56,710.10 L378.36,710.07 L379.17,710.39 L379.97,710.49 L380.77,710.48 L381.57,710.58 L382.38,710.66 L383.18,710.56 L383.98,710.65 L384.78,710.43 L385.58,710.52 L386.39,710.24 L387.19,710.16 L387.99,710.44 L388.80,710.60 L389.60,710.69 L390.40,710.79" fill="none" stroke="#008000" stroke-width="3.6" stroke-linejoin="round" stroke-linecap="round"/>
<path d="M101.50,775.80 L102.30,771.95 L103.11,767.66 L103.91,763.82 L104.71,760.39 L105.51,757.62 L106.31,754.99 L107.12,752.34 L107.92,749.82 L108.72,747.45 L109.53,745.42 L110.33,743.50 L111.13,741.72 L111.93,740.13 L112.73,738.24 L113.54,736.62 L114.34,735.06 L115.14,733.41 L115.94,732.12 L116.75,730.52 L117.55,729.42 L118.35,728.58 L119.16,727.36 L119.96,726.51 L120.76,725.46 L121.56,724.20 L122.36,723.64 L123.17,722.70 L123.97,721.79 L124.77,720.56 L125.58,719.55 L126.38,718.78 L127.18,717.91 L127.98,716.86 L128.78,716.28 L129.59,715.16 L130.39,714.57 L131.19,713.91 L132.00,713.29 L132.80,712.39 L133.60,711.75 L134.40,711.07 L135.20,710.77 L136.01,709.95 L136.81,709.38 L137.61,708.56 L138.41,708.23 L139.22,707.96 L140.02,707.48 L140.82,706.68 L141.62,705.80 L142.43,704.94 L143.23,704.70 L144.03,704.56 L144.84,704.07 L145.64,703.31 L146.44,702.44 L147.24,702.03 L148.05,701.60 L148.85,701.39 L149.65,700.95 L150.45,700.34 L151.25,699.65 L152.06,699.25 L152.86,698.86 L153.66,698.74 L154.47,698.27 L155.27,697.92 L156.07,697.59 L156.87,697.26 L157.68,696.81 L158.48,696.34 L159.28,695.65 L160.08,695.28 L160.88,694.50 L161.69,694.20 L162.49,693.93 L163.29,693.24 L164.09,693.09 L164.90,692.63 L165.70,692.12 L166.50,692.06 L167.31,691.36 L168.11,690.92 L168.91,690.27 L169.71,689.74 L170.51,689.34 L171.32,688.49 L172.12,688.13 L172.92,687.86 L173.72,687.01 L174.53,686.80 L175.33,686.70 L176.13,686.46 L176.94,686.50 L177.74,686.27 L178.54,686.04 L179.34,685.64 L180.14,685.27 L180.95,685.09 L181.75,684.74 L182.55,684.36 L183.36,683.93 L184.16,683.26 L184.96,682.89 L185.76,682.67 L186.56,682.19 L187.37,681.81 L188.17,681.60 L188.97,681.05 L189.78,680.66 L190.58,680.48 L191.38,680.25 L192.18,679.97 L192.99,679.64 L193.79,679.33 L194.59,678.97 L195.39,678.56 L196.19,678.40 L197.00,678.10 L197.80,677.90 L198.60,677.69 L199.41,677.54 L200.21,677.13 L201.01,677.01 L201.81,676.59 L202.62,676.27 L203.42,675.97 L204.22,675.92 L205.02,675.43 L205.82,674.85 L206.63,674.61 L207.43,674.52 L208.23,674.06 L209.03,673.77 L209.84,673.93 L210.64,673.88 L211.44,673.72 L212.25,673.74 L213.05,673.75 L213.85,673.30 L214.65,672.90 L215.45,672.88 L216.26,672.77 L217.06,672.42 L217.86,672.23 L218.66,671.65 L219.47,671.06 L220.27,670.84 L221.07,670.87 L221.88,670.74 L222.68,670.54 L223.48,670.47 L224.28,670.17 L225.08,669.92 L225.89,670.00 L226.69,669.91 L227.49,669.70 L228.30,669.50 L229.10,669.30 L229.90,669.24 L230.70,669.20 L231.50,668.91 L232.31,668.70 L233.11,668.17 L233.91,667.75 L234.72,667.53 L235.52,667.21 L236.32,667.14 L237.12,667.03 L237.93,666.54 L238.73,666.35 L239.53,666.30 L240.33,666.14 L241.13,666.10 L241.94,665.78 L242.74,665.63 L243.54,665.70 L244.34,665.26 L245.15,665.41 L245.95,665.54 L246.75,665.23 L247.56,665.23 L248.36,665.30 L249.16,665.25 L249.96,664.97 L250.76,664.49 L251.57,664.51 L252.37,664.06 L253.17,663.75 L253.97,663.52 L254.78,663.46 L255.58,663.23 L256.38,662.91 L257.19,662.92 L257.99,662.73 L258.79,662.44 L259.59,662.35 L260.39,662.18 L261.20,662.42 L262.00,662.50 L262.80,662.57 L263.61,662.77 L264.41,662.57 L265.21,662.54 L266.01,662.55 L266.81,662.60 L267.62,662.57 L268.42,662.25 L269.22,661.88 L270.02,661.23 L270.83,660.99 L271.63,660.89 L272.43,660.77 L273.24,660.70 L274.04,660.46 L274.84,660.42 L275.64,660.02 L276.44,660.14 L277.25,660.32 L278.05,660.04 L278.85,659.83 L279.65,659.57 L280.46,659.56 L281.26,659.44 L282.06,659.08 L282.87,659.03 L283.67,658.71 L284.47,658.58 L285.27,658.83 L286.07,658.72 L286.88,658.87 L287.68,658.51 L288.48,658.28 L289.28,658.38 L290.09,658.47 L290.89,658.44 L291.69,658.44 L292.50,658.38 L293.30,658.42 L294.10,658.14 L294.90,659.85 L295.70,662.23 L296.51,664.26 L297.31,666.11 L298.11,667.83 L298.91,669.50 L299.72,670.79 L300.52,671.97 L301.32,673.17 L302.12,674.73 L302.93,675.92 L303.73,676.92 L304.53,677.86 L305.34,678.66 L306.14,679.48 L306.94,680.32 L307.74,681.11 L308.54,681.83 L309.35,682.16 L310.15,682.94 L310.95,683.22 L311.75,684.11 L312.56,684.41 L313.36,684.70 L314.16,685.00 L314.97,685.15 L315.77,685.55 L316.57,685.91 L317.37,686.17 L318.18,686.62 L318.98,686.54 L319.78,686.83 L320.58,686.94 L321.38,687.15 L322.19,687.75 L322.99,688.06 L323.79,688.44 L324.60,688.69 L325.40,689.09 L326.20,689.37 L327.00,689.81 L327.81,690.31 L328.61,690.51 L329.41,690.96 L330.21,691.15 L331.01,691.60 L331.82,691.82 L332.62,691.89 L333.42,692.13 L334.23,692.52 L335.03,692.67 L335.83,692.95 L336.63,692.95 L337.44,693.14 L338.24,693.13 L339.04,693.41 L339.84,693.84 L340.64,694.02 L341.45,694.21 L342.25,694.60 L343.05,694.68 L343.86,694.91 L344.66,695.33 L345.46,695.36 L346.26,695.53 L347.06,695.68 L347.87,696.06 L348.67,696.05 L349.47,695.96 L350.27,696.14 L351.08,696.33 L351.88,696.01 L352.68,696.38 L353.49,696.64 L354.29,696.81 L355.09,697.13 L355.89,697.52 L356.69,697.86 L357.50,698.16 L358.30,698.08 L359.10,698.53 L359.90,698.67 L360.71,698.69 L361.51,698.99 L362.31,698.73 L363.12,698.78 L363.92,698.84 L364.72,699.11 L365.52,699.59 L366.32,699.96 L367.13,700.23 L367.93,700.50 L368.73,700.41 L369.54,700.89 L370.34,701.03 L371.14,701.16 L371.94,701.22 L372.75,701.18 L373.55,701.54 L374.35,701.57 L375.15,701.73 L375.95,701.84 L376.76,701.88 L377.56,702.18 L378.36,702.46 L379.17,702.66 L379.97,702.72 L380.77,702.64 L381.57,702.81 L382.38,703.00 L383.18,703.32 L383.98,703.49 L384.78,703.60 L385.58,703.80 L386.39,703.79 L387.19,704.06 L387.99,704.11 L388.80,704.40 L389.60,704.44 L390.40,704.63" fill="none" stroke="#cccc00" stroke-width="3.6" stroke-linejoin="round" stroke-linecap="round"/>
<path d="M104.71,753.84 L105.51,749.67 L106.31,746.05 L107.12,742.36 L107.92,738.85 L108.72,735.86 L109.53,733.29 L110.33,730.64 L111.13,728.39 L111.93,726.30 L112.73,724.55 L113.54,722.44 L114.34,720.43 L115.14,718.71 L115.94,717.15 L116.75,715.37 L117.55,713.80 L118.35,712.48 L119.16,711.30 L119.96,710.04 L120.76,708.85 L121.56,707.89 L122.36,706.65 L123.17,705.45 L123.97,704.27 L124.77,703.36 L125.58,702.19 L126.38,701.19 L127.18,700.30 L127.98,699.24 L128.78,698.38 L129.59,697.69 L130.39,696.61 L131.19,696.06 L132.00,695.11 L132.80,694.49 L133.60,693.83 L134.40,692.89 L135.20,692.31 L136.01,691.44 L136.81,690.84 L137.61,690.41 L138.41,689.63 L139.22,688.74 L140.02,688.09 L140.82,687.30 L141.62,686.39 L142.43,685.48 L143.23,684.92 L144.03,683.87 L144.84,683.63 L145.64,683.11 L146.44,682.67 L147.24,681.82 L148.05,681.27 L148.85,680.84 L149.65,680.32 L150.45,679.47 L151.25,679.46 L152.06,678.58 L152.86,678.03 L153.66,677.28 L154.47,676.51 L155.27,675.53 L156.07,675.07 L156.87,674.51 L157.68,674.14 L158.48,673.34 L159.28,672.81 L160.08,672.16 L160.88,671.78 L161.69,671.44 L162.49,671.17 L163.29,670.21 L164.09,669.96 L164.90,669.50 L165.70,669.07 L166.50,668.46 L167.31,667.87 L168.11,667.37 L168.91,666.56 L169.71,666.01 L170.51,665.68 L171.32,664.99 L172.12,664.55 L172.92,663.68 L173.72,663.35 L174.53,663.23 L175.33,662.87 L176.13,662.80 L176.94,662.23 L177.74,662.02 L178.54,661.62 L179.34,661.06 L180.14,660.87 L180.95,660.45 L181.75,659.79 L182.55,659.37 L183.36,658.93 L184.16,658.65 L184.96,658.08 L185.76,657.41 L186.56,657.12 L187.37,656.96 L188.17,656.45 L188.97,656.10 L189.78,655.64 L190.58,655.21 L191.38,654.89 L192.18,654.54 L192.99,654.40 L193.79,653.99 L194.59,653.62 L195.39,653.20 L196.19,652.85 L197.00,652.34 L197.80,652.03 L198.60,651.78 L199.41,651.54 L200.21,651.23 L201.01,650.91 L201.81,650.66 L202.62,650.41 L203.42,650.09 L204.22,650.11 L205.02,649.85 L205.82,649.43 L206.63,649.31 L207.43,649.15 L208.23,648.80 L209.03,648.23 L209.84,647.93 L210.64,647.89 L211.44,647.59 L212.25,647.28 L213.05,647.18 L213.85,646.62 L214.65,646.05 L215.45,645.93 L216.26,645.73 L217.06,645.41 L217.86,644.85 L218.66,644.51 L219.47,644.35 L220.27,643.97 L221.07,643.64 L221.88,643.45 L222.68,642.94 L223.48,642.70 L224.28,642.47 L225.08,642.18 L225.89,641.90 L226.69,641.74 L227.49,641.44 L228.30,641.47 L229.10,641.40 L229.90,641.42 L230.70,641.41 L231.50,641.24 L232.31,641.26 L233.11,641.12 L233.91,640.85 L234.72,640.85 L235.52,640.52 L236.32,640.12 L237.12,639.96 L237.93,639.62 L238.73,639.46 L239.53,639.17 L240.33,638.86 L241.13,638.57 L241.94,638.30 L242.74,638.08 L243.54,638.25 L244.34,638.05 L245.15,637.69 L245.95,637.53 L246.75,637.27 L247.56,636.94 L248.36,636.58 L249.16,636.46 L249.96,636.48 L250.76,636.15 L251.57,635.93 L252.37,635.84 L253.17,635.87 L253.97,635.69 L254.78,635.68 L255.58,635.54 L256.38,635.44 L257.19,635.09 L257.99,634.89 L258.79,634.73 L259.59,634.49 L260.39,633.97 L261.20,634.05 L262.00,633.78 L262.80,633.86 L263.61,633.56 L264.41,633.56 L265.21,633.37 L266.01,633.21 L266.81,633.17 L267.62,633.45 L268.42,633.01 L269.22,632.94 L270.02,632.84 L270.83,632.61 L271.63,632.43 L272.43,632.21 L273.24,631.86 L274.04,631.68 L274.84,631.63 L275.64,631.45 L276.44,631.35 L277.25,631.06 L278.05,631.09 L278.85,630.96 L279.65,630.94 L280.46,630.89 L281.26,630.73 L282.06,630.17 L282.87,630.19 L283.67,629.97 L284.47,629.79 L285.27,629.49 L286.07,629.40 L286.88,629.15 L287.68,629.19 L288.48,629.14 L289.28,628.88 L290.09,629.00 L290.89,629.16 L291.69,629.49 L292.50,629.23 L293.30,629.06 L294.10,629.01 L294.90,629.65 L295.70,632.16 L296.51,634.74 L297.31,636.64 L298.11,638.58 L298.91,640.03 L299.72,641.76 L300.52,643.07 L301.32,644.72 L302.12,646.17 L302.93,647.56 L303.73,648.86 L304.53,650.17 L305.34,651.12 L306.14,652.06 L306.94,653.04 L307.74,654.33 L308.54,654.95 L309.35,655.71 L310.15,656.30 L310.95,656.64 L311.75,657.02 L312.56,657.51 L313.36,658.19 L314.16,658.88 L314.97,659.27 L315.77,659.79 L316.57,660.27 L317.37,660.72 L318.18,661.29 L318.98,661.68 L319.78,662.35 L320.58,662.86 L321.38,663.28 L322.19,663.71 L322.99,664.45 L323.79,664.67 L324.60,664.89 L325.40,665.48 L326.20,666.17 L327.00,666.21 L327.81,666.68 L328.61,666.99 L329.41,667.31 L330.21,667.38 L331.01,667.77 L331.82,668.40 L332.62,668.69 L333.42,668.87 L334.23,669.35 L335.03,669.41 L335.83,669.60 L336.63,669.66 L337.44,669.81 L338.24,670.13 L339.04,670.19 L339.84,670.40 L340.64,670.67 L341.45,671.00 L342.25,671.48 L343.05,671.74 L343.86,672.32 L344.66,672.81 L345.46,673.18 L346.26,673.29 L347.06,673.21 L347.87,673.33 L348.67,673.38 L349.47,673.65 L350.27,674.10 L351.08,674.16 L351.88,674.34 L352.68,674.63 L353.49,675.15 L354.29,675.44 L355.09,675.50 L355.89,675.95 L356.69,675.76 L357.50,676.02 L358.30,676.27 L359.10,676.35 L359.90,676.43 L360.71,676.33 L361.51,676.54 L362.31,676.94 L363.12,676.87 L363.92,677.35 L364.72,677.33 L365.52,677.37 L366.32,677.51 L367.13,677.41 L367.93,677.97 L368.73,678.43 L369.54,678.67 L370.34,679.04 L371.14,679.21 L371.94,679.28 L372.75,679.61 L373.55,679.99 L374.35,680.52 L375.15,680.52 L375.95,680.71 L376.76,680.82 L377.56,681.12 L378.36,681.25 L379.17,681.59 L379.97,682.02 L380.77,682.14 L381.57,682.29 L382.38,682.52 L383.18,682.45 L383.98,682.69 L384.78,682.92 L385.58,683.16 L386.39,683.49 L387.19,683.51 L387.99,683.50 L388.80,683.51 L389.60,683.56 L390.40,683.94" fill="none" stroke="#ff6600" stroke-width="3.6" stroke-linejoin="round" stroke-linecap="round"/>
<circle cx="101.50" cy="775.80" r="1.9" fill="#ff6600"/>
<circle cx="102.30" cy="769.15" r="1.9" fill="#ff6600"/>
<circle cx="103.11" cy="763.88" r="1.9" fill="#ff6600"/>
<circle cx="103.91" cy="758.60" r="1.9" fill="#ff6600"/>
<path d="M107.12,720.24 L107.92,716.34 L108.72,713.12 L109.53,710.38 L110.33,707.51 L111.13,705.10 L111.93,702.92 L112.73,700.80 L113.54,699.07 L114.34,697.46 L115.14,695.78 L115.94,694.39 L116.75,692.79 L117.55,691.90 L118.35,690.78 L119.16,689.64 L119.96,688.58 L120.76,687.11 L121.56,685.88 L122.36,684.63 L123.17,683.42 L123.97,682.74 L124.77,681.54 L125.58,680.12 L126.38,678.71 L127.18,677.74 L127.98,676.93 L128.78,676.11 L129.59,675.25 L130.39,674.31 L131.19,673.45 L132.00,672.47 L132.80,671.84 L133.60,671.04 L134.40,670.06 L135.20,669.33 L136.01,668.25 L136.81,667.41 L137.61,666.56 L138.41,665.53 L139.22,664.32 L140.02,663.58 L140.82,662.57 L141.62,661.68 L142.43,660.71 L143.23,660.11 L144.03,659.31 L144.84,658.33 L145.64,657.58 L146.44,656.81 L147.24,656.05 L148.05,655.53 L148.85,654.60 L149.65,653.93 L150.45,653.15 L151.25,652.46 L152.06,651.68 L152.86,651.06 L153.66,650.70 L154.47,650.27 L155.27,649.43 L156.07,648.87 L156.87,648.01 L157.68,647.28 L158.48,646.74 L159.28,646.13 L160.08,645.41 L160.88,644.77 L161.69,643.86 L162.49,643.17 L163.29,642.76 L164.09,641.83 L164.90,641.36 L165.70,640.88 L166.50,640.35 L167.31,639.73 L168.11,638.94 L168.91,638.21 L169.71,637.91 L170.51,637.10 L171.32,637.02 L172.12,636.33 L172.92,635.65 L173.72,635.15 L174.53,634.45 L175.33,633.82 L176.13,633.47 L176.94,632.72 L177.74,632.06 L178.54,631.59 L179.34,630.98 L180.14,630.46 L180.95,629.90 L181.75,629.40 L182.55,629.14 L183.36,628.41 L184.16,627.87 L184.96,627.60 L185.76,627.03 L186.56,626.71 L187.37,626.14 L188.17,625.67 L188.97,625.47 L189.78,624.91 L190.58,624.61 L191.38,624.40 L192.18,624.10 L192.99,623.90 L193.79,623.45 L194.59,623.21 L195.39,622.94 L196.19,622.01 L197.00,621.90 L197.80,621.84 L198.60,621.31 L199.41,621.06 L200.21,620.54 L201.01,620.21 L201.81,619.88 L202.62,619.31 L203.42,619.29 L204.22,618.73 L205.02,618.21 L205.82,618.10 L206.63,617.56 L207.43,616.89 L208.23,616.57 L209.03,616.04 L209.84,615.80 L210.64,615.60 L211.44,615.19 L212.25,614.85 L213.05,614.62 L213.85,614.53 L214.65,614.38 L215.45,613.81 L216.26,613.49 L217.06,613.10 L217.86,612.83 L218.66,613.03 L219.47,612.43 L220.27,611.77 L221.07,611.45 L221.88,611.22 L222.68,611.20 L223.48,611.03 L224.28,611.04 L225.08,610.56 L225.89,609.81 L226.69,609.96 L227.49,609.78 L228.30,609.50 L229.10,609.18 L229.90,608.95 L230.70,608.56 L231.50,608.10 L232.31,608.13 L233.11,608.12 L233.91,607.69 L234.72,607.42 L235.52,606.82 L236.32,606.84 L237.12,606.60 L237.93,606.17 L238.73,605.99 L239.53,605.67 L240.33,605.54 L241.13,605.28 L241.94,605.01 L242.74,605.06 L243.54,604.58 L244.34,604.20 L245.15,604.12 L245.95,603.83 L246.75,603.53 L247.56,603.19 L248.36,602.92 L249.16,603.03 L249.96,602.52 L250.76,602.36 L251.57,602.35 L252.37,602.60 L253.17,602.62 L253.97,602.60 L254.78,602.47 L255.58,602.35 L256.38,601.69 L257.19,601.86 L257.99,601.89 L258.79,601.40 L259.59,600.98 L260.39,600.65 L261.20,600.37 L262.00,599.85 L262.80,599.74 L263.61,599.78 L264.41,599.37 L265.21,598.89 L266.01,598.95 L266.81,598.89 L267.62,598.71 L268.42,598.47 L269.22,598.77 L270.02,598.71 L270.83,598.87 L271.63,598.86 L272.43,599.00 L273.24,598.96 L274.04,598.96 L274.84,598.83 L275.64,598.66 L276.44,598.15 L277.25,598.10 L278.05,597.83 L278.85,597.77 L279.65,597.51 L280.46,597.43 L281.26,597.01 L282.06,597.11 L282.87,596.95 L283.67,596.95 L284.47,596.68 L285.27,596.52 L286.07,596.32 L286.88,596.14 L287.68,595.79 L288.48,595.63 L289.28,595.34 L290.09,595.36 L290.89,595.35 L291.69,595.27 L292.50,595.14 L293.30,595.10 L294.10,595.28 L294.90,594.27 L295.70,596.58 L296.51,598.83 L297.31,600.76 L298.11,602.60 L298.91,604.26 L299.72,605.91 L300.52,607.20 L301.32,608.44 L302.12,609.78 L302.93,611.12 L303.73,612.35 L304.53,613.49 L305.34,614.35 L306.14,615.54 L306.94,616.35 L307.74,617.37 L308.54,618.07 L309.35,618.69 L310.15,619.29 L310.95,619.82 L311.75,620.26 L312.56,620.97 L313.36,621.47 L314.16,622.08 L314.97,622.60 L315.77,623.01 L316.57,623.61 L317.37,624.41 L318.18,624.70 L318.98,625.37 L319.78,626.05 L320.58,626.47 L321.38,626.98 L322.19,627.42 L322.99,627.72 L323.79,628.00 L324.60,628.05 L325.40,628.49 L326.20,628.80 L327.00,629.13 L327.81,629.06 L328.61,629.33 L329.41,629.68 L330.21,630.18 L331.01,630.55 L331.82,630.98 L332.62,631.19 L333.42,631.45 L334.23,631.45 L335.03,632.01 L335.83,632.00 L336.63,632.35 L337.44,633.05 L338.24,633.17 L339.04,633.38 L339.84,633.38 L340.64,633.54 L341.45,633.79 L342.25,633.87 L343.05,634.26 L343.86,634.20 L344.66,634.18 L345.46,634.46 L346.26,634.45 L347.06,635.21 L347.87,635.50 L348.67,635.69 L349.47,635.91 L350.27,636.17 L351.08,636.38 L351.88,636.37 L352.68,636.53 L353.49,637.04 L354.29,637.04 L355.09,637.28 L355.89,637.62 L356.69,637.76 L357.50,637.92 L358.30,638.37 L359.10,638.93 L359.90,639.26 L360.71,639.35 L361.51,639.55 L362.31,639.69 L363.12,639.56 L363.92,639.96 L364.72,640.37 L365.52,640.45 L366.32,640.30 L367.13,640.35 L367.93,640.55 L368.73,640.66 L369.54,640.73 L370.34,641.00 L371.14,641.25 L371.94,641.27 L372.75,641.43 L373.55,641.74 L374.35,641.75 L375.15,641.93 L375.95,642.23 L376.76,642.73 L377.56,643.17 L378.36,643.24 L379.17,643.47 L379.97,643.84 L380.77,643.97 L381.57,644.43 L382.38,644.56 L383.18,644.74 L383.98,644.65 L384.78,644.93 L385.58,645.29 L386.39,645.39 L387.19,645.07 L387.99,645.26 L388.80,645.37 L389.60,645.75 L390.40,645.76" fill="none" stroke="#f03a46" stroke-width="3.6" stroke-linejoin="round" stroke-linecap="round"/>
<circle cx="101.50" cy="775.80" r="1.9" fill="#f03a46"/>
<circle cx="102.30" cy="762.97" r="1.9" fill="#f03a46"/>
<circle cx="103.11" cy="752.30" r="1.9" fill="#f03a46"/>
<circle cx="103.91" cy="743.37" r="1.9" fill="#f03a46"/>
<circle cx="104.71" cy="736.13" r="1.9" fill="#f03a46"/>
<circle cx="105.51" cy="729.90" r="1.9" fill="#f03a46"/>
<circle cx="106.31" cy="724.69" r="1.9" fill="#f03a46"/>
<polyline points="101.50,775.03 103.11,773.95 104.71,772.92 106.31,771.93 107.92,770.97 109.53,770.05 111.13,769.17 112.73,768.32 114.34,767.51 115.94,766.72 117.55,765.97 119.16,765.24 120.76,764.55 122.36,763.88 123.97,763.23 125.58,762.61 127.18,762.02 128.78,761.45 130.39,760.90 132.00,760.37 133.60,759.86 135.20,759.37 136.81,758.90 138.41,758.45 140.02,758.01 141.62,757.60 143.23,757.19 144.84,756.81 146.44,756.44 148.05,756.08 149.65,755.74 151.25,755.41 152.86,755.09 154.47,754.79 156.07,754.49 157.68,754.21 159.28,753.94 160.88,753.68 162.49,753.43 164.09,753.19 165.70,752.96 167.31,752.74 168.91,752.52 170.51,752.32 172.12,752.12 173.72,751.93 175.33,751.75 176.94,751.57 178.54,751.40 180.14,751.24 181.75,751.09 183.36,750.94 184.96,750.79 186.56,750.65 188.17,750.52 189.78,750.39 191.38,750.27 192.99,750.15 194.59,750.04 196.19,749.93 197.80,749.82 199.41,749.72 201.01,749.62 202.62,749.53 204.22,749.44 205.82,749.35 207.43,749.27 209.03,749.19 210.64,749.12 212.25,749.04 213.85,748.97 215.45,748.90 217.06,748.84 218.66,748.77 220.27,748.71 221.88,748.66 223.48,748.60 225.08,748.55 226.69,748.49 228.30,748.44 229.90,748.40 231.50,748.35 233.11,748.31 234.72,748.26 236.32,748.22 237.93,748.18 239.53,748.15 241.13,748.11 242.74,748.07 244.34,748.04 245.95,748.01 247.56,747.98 249.16,747.95 250.76,747.92 252.37,747.89 253.97,747.87 255.58,747.84 257.19,747.82 258.79,747.79 260.39,747.77 262.00,747.75 263.61,747.73 265.21,747.71 266.81,747.69 268.42,747.67 270.02,747.65 271.63,747.63 273.24,747.62 274.84,747.60 276.44,747.59 278.05,747.57 279.65,747.56 281.26,747.54 282.87,747.53 284.47,747.52 286.07,747.51 287.68,747.49 289.28,747.48 290.89,747.47 292.50,747.46 294.10,747.45 295.70,747.79 297.31,748.12 298.91,748.44 300.52,748.77 302.12,749.09 303.73,749.41 305.34,749.72 306.94,750.03 308.54,750.34 310.15,750.64 311.75,750.95 313.36,751.25 314.97,751.54 316.57,751.83 318.18,752.12 319.78,752.41 321.38,752.69 322.99,752.98 324.60,753.25 326.20,753.53 327.81,753.80 329.41,754.07 331.01,754.34 332.62,754.60 334.23,754.87 335.83,755.12 337.44,755.38 339.04,755.64 340.64,755.89 342.25,756.14 343.86,756.38 345.46,756.63 347.06,756.87 348.67,757.11 350.27,757.34 351.88,757.58 353.49,757.81 355.09,758.04 356.69,758.26 358.30,758.49 359.90,758.71 361.51,758.93 363.12,759.15 364.72,759.37 366.32,759.58 367.93,759.79 369.54,760.00 371.14,760.21 372.75,760.41 374.35,760.62 375.95,760.82 377.56,761.02 379.17,761.21 380.77,761.41 382.38,761.60 383.98,761.79 385.58,761.98 387.19,762.17 388.80,762.36 390.40,762.54" fill="none" stroke="#000" stroke-width="2.0" stroke-linejoin="round" stroke-linecap="round"/>
<polyline points="101.50,774.48 103.11,773.30 104.71,772.17 106.31,771.06 107.92,769.99 109.53,768.95 111.13,767.94 112.73,766.95 114.34,766.00 115.94,765.07 117.55,764.17 119.16,763.29 120.76,762.44 122.36,761.61 123.97,760.81 125.58,760.03 127.18,759.27 128.78,758.53 130.39,757.82 132.00,757.12 133.60,756.45 135.20,755.79 136.81,755.15 138.41,754.54 140.02,753.93 141.62,753.35 143.23,752.78 144.84,752.23 146.44,751.70 148.05,751.18 149.65,750.67 151.25,750.18 152.86,749.70 154.47,749.24 156.07,748.79 157.68,748.35 159.28,747.93 160.88,747.51 162.49,747.11 164.09,746.72 165.70,746.34 167.31,745.98 168.91,745.62 170.51,745.27 172.12,744.94 173.72,744.61 175.33,744.29 176.94,743.98 178.54,743.68 180.14,743.39 181.75,743.11 183.36,742.83 184.96,742.56 186.56,742.30 188.17,742.05 189.78,741.81 191.38,741.57 192.99,741.34 194.59,741.11 196.19,740.89 197.80,740.68 199.41,740.48 201.01,740.28 202.62,740.08 204.22,739.89 205.82,739.71 207.43,739.53 209.03,739.36 210.64,739.19 212.25,739.03 213.85,738.87 215.45,738.71 217.06,738.56 218.66,738.42 220.27,738.28 221.88,738.14 223.48,738.01 225.08,737.88 226.69,737.75 228.30,737.63 229.90,737.51 231.50,737.39 233.11,737.28 234.72,737.17 236.32,737.07 237.93,736.96 239.53,736.86 241.13,736.77 242.74,736.67 244.34,736.58 245.95,736.49 247.56,736.40 249.16,736.32 250.76,736.24 252.37,736.16 253.97,736.08 255.58,736.01 257.19,735.94 258.79,735.86 260.39,735.80 262.00,735.73 263.61,735.66 265.21,735.60 266.81,735.54 268.42,735.48 270.02,735.42 271.63,735.37 273.24,735.31 274.84,735.26 276.44,735.21 278.05,735.16 279.65,735.11 281.26,735.06 282.87,735.02 284.47,734.97 286.07,734.93 287.68,734.89 289.28,734.85 290.89,734.81 292.50,734.77 294.10,734.73 295.70,735.11 297.31,735.49 298.91,735.86 300.52,736.23 302.12,736.60 303.73,736.96 305.34,737.32 306.94,737.67 308.54,738.03 310.15,738.37 311.75,738.72 313.36,739.06 314.97,739.40 316.57,739.74 318.18,740.07 319.78,740.40 321.38,740.72 322.99,741.05 324.60,741.37 326.20,741.68 327.81,742.00 329.41,742.31 331.01,742.61 332.62,742.92 334.23,743.22 335.83,743.52 337.44,743.82 339.04,744.11 340.64,744.40 342.25,744.69 343.86,744.97 345.46,745.25 347.06,745.53 348.67,745.81 350.27,746.08 351.88,746.36 353.49,746.63 355.09,746.89 356.69,747.16 358.30,747.42 359.90,747.68 361.51,747.93 363.12,748.19 364.72,748.44 366.32,748.69 367.93,748.93 369.54,749.18 371.14,749.42 372.75,749.66 374.35,749.90 375.95,750.13 377.56,750.37 379.17,750.60 380.77,750.82 382.38,751.05 383.98,751.27 385.58,751.50 387.19,751.72 388.80,751.93 390.40,752.15" fill="none" stroke="#000" stroke-width="2.0" stroke-linejoin="round" stroke-linecap="round"/>
<polyline points="101.50,773.59 103.11,771.71 104.71,769.88 106.31,768.09 107.92,766.34 109.53,764.63 111.13,762.96 112.73,761.33 114.34,759.74 115.94,758.18 117.55,756.66 119.16,755.17 120.76,753.72 122.36,752.30 123.97,750.92 125.58,749.57 127.18,748.25 128.78,746.95 130.39,745.69 132.00,744.46 133.60,743.26 135.20,742.08 136.81,740.93 138.41,739.81 140.02,738.72 141.62,737.65 143.23,736.60 144.84,735.58 146.44,734.58 148.05,733.61 149.65,732.65 151.25,731.72 152.86,730.81 154.47,729.93 156.07,729.06 157.68,728.21 159.28,727.38 160.88,726.58 162.49,725.79 164.09,725.01 165.70,724.26 167.31,723.52 168.91,722.81 170.51,722.10 172.12,721.42 173.72,720.75 175.33,720.09 176.94,719.45 178.54,718.83 180.14,718.22 181.75,717.62 183.36,717.04 184.96,716.47 186.56,715.91 188.17,715.37 189.78,714.84 191.38,714.32 192.99,713.81 194.59,713.32 196.19,712.84 197.80,712.36 199.41,711.90 201.01,711.45 202.62,711.01 204.22,710.58 205.82,710.16 207.43,709.75 209.03,709.35 210.64,708.96 212.25,708.58 213.85,708.21 215.45,707.84 217.06,707.48 218.66,707.14 220.27,706.80 221.88,706.46 223.48,706.14 225.08,705.82 226.69,705.51 228.30,705.21 229.90,704.91 231.50,704.62 233.11,704.34 234.72,704.07 236.32,703.80 237.93,703.54 239.53,703.28 241.13,703.03 242.74,702.78 244.34,702.54 245.95,702.31 247.56,702.08 249.16,701.86 250.76,701.64 252.37,701.43 253.97,701.22 255.58,701.01 257.19,700.82 258.79,700.62 260.39,700.43 262.00,700.25 263.61,700.07 265.21,699.89 266.81,699.72 268.42,699.55 270.02,699.38 271.63,699.22 273.24,699.07 274.84,698.91 276.44,698.76 278.05,698.62 279.65,698.47 281.26,698.33 282.87,698.20 284.47,698.06 286.07,697.93 287.68,697.81 289.28,697.68 290.89,697.56 292.50,697.44 294.10,697.33 295.70,697.62 297.31,697.90 298.91,698.19 300.52,698.48 302.12,698.76 303.73,699.05 305.34,699.33 306.94,699.61 308.54,699.90 310.15,700.18 311.75,700.46 313.36,700.73 314.97,701.01 316.57,701.29 318.18,701.56 319.78,701.84 321.38,702.11 322.99,702.38 324.60,702.65 326.20,702.92 327.81,703.19 329.41,703.46 331.01,703.73 332.62,703.99 334.23,704.26 335.83,704.52 337.44,704.79 339.04,705.05 340.64,705.31 342.25,705.57 343.86,705.83 345.46,706.09 347.06,706.35 348.67,706.60 350.27,706.86 351.88,707.11 353.49,707.37 355.09,707.62 356.69,707.87 358.30,708.12 359.90,708.37 361.51,708.62 363.12,708.87 364.72,709.12 366.32,709.36 367.93,709.61 369.54,709.85 371.14,710.10 372.75,710.34 374.35,710.58 375.95,710.82 377.56,711.06 379.17,711.30 380.77,711.54 382.38,711.78 383.98,712.01 385.58,712.25 387.19,712.48 388.80,712.72 390.40,712.95" fill="none" stroke="#000" stroke-width="2.0" stroke-linejoin="round" stroke-linecap="round"/>
<polyline points="101.50,765.64 103.11,762.36 104.71,759.19 106.31,756.11 107.92,753.13 109.53,750.25 111.13,747.45 112.73,744.75 114.34,742.13 115.94,739.59 117.55,737.14 119.16,734.76 120.76,732.46 122.36,730.23 123.97,728.07 125.58,725.98 127.18,723.96 128.78,722.00 130.39,720.10 132.00,718.26 133.60,716.48 135.20,714.76 136.81,713.09 138.41,711.48 140.02,709.91 141.62,708.40 143.23,706.93 144.84,705.51 146.44,704.13 148.05,702.80 149.65,701.51 151.25,700.26 152.86,699.05 154.47,697.88 156.07,696.75 157.68,695.65 159.28,694.59 160.88,693.56 162.49,692.56 164.09,691.60 165.70,690.66 167.31,689.76 168.91,688.88 170.51,688.03 172.12,687.21 173.72,686.42 175.33,685.65 176.94,684.90 178.54,684.18 180.14,683.48 181.75,682.80 183.36,682.15 184.96,681.51 186.56,680.90 188.17,680.30 189.78,679.72 191.38,679.17 192.99,678.63 194.59,678.10 196.19,677.60 197.80,677.10 199.41,676.63 201.01,676.17 202.62,675.72 204.22,675.29 205.82,674.87 207.43,674.47 209.03,674.08 210.64,673.70 212.25,673.33 213.85,672.98 215.45,672.63 217.06,672.30 218.66,671.97 220.27,671.66 221.88,671.36 223.48,671.07 225.08,670.78 226.69,670.51 228.30,670.24 229.90,669.98 231.50,669.73 233.11,669.49 234.72,669.26 236.32,669.03 237.93,668.81 239.53,668.60 241.13,668.39 242.74,668.19 244.34,668.00 245.95,667.81 247.56,667.63 249.16,667.46 250.76,667.29 252.37,667.12 253.97,666.97 255.58,666.81 257.19,666.66 258.79,666.52 260.39,666.38 262.00,666.24 263.61,666.11 265.21,665.99 266.81,665.86 268.42,665.74 270.02,665.63 271.63,665.52 273.24,665.41 274.84,665.30 276.44,665.20 278.05,665.10 279.65,665.01 281.26,664.92 282.87,664.83 284.47,664.74 286.07,664.66 287.68,664.58 289.28,664.50 290.89,664.42 292.50,664.35 294.10,664.28 295.70,665.28 297.31,666.28 298.91,667.27 300.52,668.26 302.12,669.23 303.73,670.20 305.34,671.16 306.94,672.11 308.54,673.05 310.15,673.99 311.75,674.92 313.36,675.84 314.97,676.76 316.57,677.67 318.18,678.57 319.78,679.46 321.38,680.35 322.99,681.23 324.60,682.10 326.20,682.97 327.81,683.83 329.41,684.68 331.01,685.53 332.62,686.37 334.23,687.20 335.83,688.03 337.44,688.85 339.04,689.66 340.64,690.47 342.25,691.27 343.86,692.06 345.46,692.85 347.06,693.64 348.67,694.41 350.27,695.18 351.88,695.95 353.49,696.70 355.09,697.46 356.69,698.20 358.30,698.94 359.90,699.68 361.51,700.41 363.12,701.13 364.72,701.85 366.32,702.56 367.93,703.27 369.54,703.97 371.14,704.66 372.75,705.35 374.35,706.04 375.95,706.72 377.56,707.39 379.17,708.06 380.77,708.72 382.38,709.38 383.98,710.03 385.58,710.68 387.19,711.33 388.80,711.96 390.40,712.60" fill="none" stroke="#000" stroke-width="2.0" stroke-linejoin="round" stroke-linecap="round"/>
<polyline points="101.50,753.46 103.11,749.82 104.71,746.28 106.31,742.85 107.92,739.53 109.53,736.31 111.13,733.18 112.73,730.15 114.34,727.22 115.94,724.37 117.55,721.61 119.16,718.93 120.76,716.33 122.36,713.81 123.97,711.37 125.58,709.01 127.18,706.71 128.78,704.49 130.39,702.33 132.00,700.24 133.60,698.21 135.20,696.24 136.81,694.33 138.41,692.48 140.02,690.69 141.62,688.95 143.23,687.27 144.84,685.63 146.44,684.05 148.05,682.51 149.65,681.02 151.25,679.57 152.86,678.17 154.47,676.82 156.07,675.50 157.68,674.22 159.28,672.98 160.88,671.78 162.49,670.62 164.09,669.49 165.70,668.39 167.31,667.33 168.91,666.30 170.51,665.31 172.12,664.34 173.72,663.40 175.33,662.49 176.94,661.61 178.54,660.75 180.14,659.92 181.75,659.12 183.36,658.34 184.96,657.58 186.56,656.85 188.17,656.14 189.78,655.45 191.38,654.78 192.99,654.14 194.59,653.51 196.19,652.90 197.80,652.31 199.41,651.74 201.01,651.18 202.62,650.64 204.22,650.12 205.82,649.61 207.43,649.12 209.03,648.65 210.64,648.19 212.25,647.74 213.85,647.30 215.45,646.88 217.06,646.48 218.66,646.08 220.27,645.70 221.88,645.32 223.48,644.96 225.08,644.61 226.69,644.28 228.30,643.95 229.90,643.63 231.50,643.32 233.11,643.02 234.72,642.73 236.32,642.45 237.93,642.17 239.53,641.91 241.13,641.65 242.74,641.40 244.34,641.16 245.95,640.93 247.56,640.70 249.16,640.48 250.76,640.27 252.37,640.06 253.97,639.86 255.58,639.67 257.19,639.48 258.79,639.29 260.39,639.12 262.00,638.95 263.61,638.78 265.21,638.62 266.81,638.46 268.42,638.31 270.02,638.16 271.63,638.02 273.24,637.88 274.84,637.75 276.44,637.61 278.05,637.49 279.65,637.37 281.26,637.25 282.87,637.13 284.47,637.02 286.07,636.91 287.68,636.81 289.28,636.71 290.89,636.61 292.50,636.51 294.10,636.42 295.70,637.56 297.31,638.70 298.91,639.82 300.52,640.94 302.12,642.05 303.73,643.15 305.34,644.23 306.94,645.31 308.54,646.38 310.15,647.45 311.75,648.50 313.36,649.54 314.97,650.58 316.57,651.61 318.18,652.63 319.78,653.64 321.38,654.64 322.99,655.63 324.60,656.62 326.20,657.60 327.81,658.57 329.41,659.53 331.01,660.48 332.62,661.43 334.23,662.36 335.83,663.29 337.44,664.22 339.04,665.13 340.64,666.04 342.25,666.94 343.86,667.83 345.46,668.72 347.06,669.59 348.67,670.46 350.27,671.33 351.88,672.18 353.49,673.03 355.09,673.87 356.69,674.71 358.30,675.54 359.90,676.36 361.51,677.17 363.12,677.98 364.72,678.78 366.32,679.57 367.93,680.36 369.54,681.14 371.14,681.92 372.75,682.69 374.35,683.45 375.95,684.20 377.56,684.95 379.17,685.70 380.77,686.43 382.38,687.17 383.98,687.89 385.58,688.61 387.19,689.32 388.80,690.03 390.40,690.73" fill="none" stroke="#000" stroke-width="2.0" stroke-linejoin="round" stroke-linecap="round"/>
<polyline points="101.50,741.45 103.11,736.95 104.71,732.59 106.31,728.37 107.92,724.28 109.53,720.33 111.13,716.50 112.73,712.79 114.34,709.20 115.94,705.73 117.55,702.36 119.16,699.11 120.76,695.95 122.36,692.90 123.97,689.95 125.58,687.08 127.18,684.31 128.78,681.63 130.39,679.03 132.00,676.52 133.60,674.08 135.20,671.73 136.81,669.45 138.41,667.24 140.02,665.10 141.62,663.03 143.23,661.02 144.84,659.08 146.44,657.20 148.05,655.38 149.65,653.62 151.25,651.91 152.86,650.26 154.47,648.66 156.07,647.12 157.68,645.62 159.28,644.17 160.88,642.76 162.49,641.40 164.09,640.09 165.70,638.81 167.31,637.58 168.91,636.38 170.51,635.23 172.12,634.11 173.72,633.02 175.33,631.97 176.94,630.96 178.54,629.97 180.14,629.02 181.75,628.10 183.36,627.20 184.96,626.34 186.56,625.50 188.17,624.69 189.78,623.91 191.38,623.15 192.99,622.41 194.59,621.70 196.19,621.01 197.80,620.34 199.41,619.70 201.01,619.07 202.62,618.47 204.22,617.88 205.82,617.31 207.43,616.76 209.03,616.23 210.64,615.71 212.25,615.22 213.85,614.73 215.45,614.26 217.06,613.81 218.66,613.37 220.27,612.95 221.88,612.54 223.48,612.14 225.08,611.76 226.69,611.38 228.30,611.02 229.90,610.67 231.50,610.33 233.11,610.01 234.72,609.69 236.32,609.38 237.93,609.09 239.53,608.80 241.13,608.52 242.74,608.25 244.34,607.99 245.95,607.73 247.56,607.49 249.16,607.25 250.76,607.02 252.37,606.80 253.97,606.59 255.58,606.38 257.19,606.18 258.79,605.98 260.39,605.79 262.00,605.61 263.61,605.43 265.21,605.26 266.81,605.09 268.42,604.93 270.02,604.78 271.63,604.63 273.24,604.48 274.84,604.34 276.44,604.20 278.05,604.07 279.65,603.94 281.26,603.82 282.87,603.70 284.47,603.58 286.07,603.47 287.68,603.36 289.28,603.25 290.89,603.15 292.50,603.05 294.10,602.96 295.70,603.94 297.31,604.91 298.91,605.88 300.52,606.85 302.12,607.81 303.73,608.76 305.34,609.71 306.94,610.65 308.54,611.59 310.15,612.52 311.75,613.44 313.36,614.37 314.97,615.28 316.57,616.19 318.18,617.10 319.78,618.00 321.38,618.89 322.99,619.78 324.60,620.67 326.20,621.55 327.81,622.42 329.41,623.29 331.01,624.16 332.62,625.02 334.23,625.88 335.83,626.73 337.44,627.57 339.04,628.41 340.64,629.25 342.25,630.08 343.86,630.91 345.46,631.73 347.06,632.55 348.67,633.36 350.27,634.17 351.88,634.97 353.49,635.77 355.09,636.57 356.69,637.36 358.30,638.14 359.90,638.92 361.51,639.70 363.12,640.47 364.72,641.24 366.32,642.00 367.93,642.76 369.54,643.52 371.14,644.27 372.75,645.01 374.35,645.75 375.95,646.49 377.56,647.23 379.17,647.96 380.77,648.68 382.38,649.40 383.98,650.12 385.58,650.83 387.19,651.54 388.80,652.25 390.40,652.95" fill="none" stroke="#000" stroke-width="2.0" stroke-linejoin="round" stroke-linecap="round"/>
<line x1="101.5" y1="35.1" x2="101.5" y2="228.4" stroke="#000" stroke-width="2"/>
<line x1="100.5" y1="227.4" x2="399" y2="227.4" stroke="#000" stroke-width="2"/>
<line x1="94" y1="227.4" x2="101.5" y2="227.4" stroke="#000" stroke-width="2"/>
<text x="89.6" y="233.4" text-anchor="end" class="tk">0.0</text>
<line x1="94" y1="135.4" x2="101.5" y2="135.4" stroke="#000" stroke-width="2"/>
<text x="89.6" y="141.4" text-anchor="end" class="tk">0.5</text>
<line x1="94" y1="43.4" x2="101.5" y2="43.4" stroke="#000" stroke-width="2"/>
<text x="89.6" y="49.4" text-anchor="end" class="tk">1.0</text>
<line x1="101.5" y1="227.4" x2="101.5" y2="233.9" stroke="#000" stroke-width="2"/>
<text x="101.5" y="254.3" text-anchor="middle" class="tk">0</text>
<line x1="133.6" y1="227.4" x2="133.6" y2="233.9" stroke="#000" stroke-width="2"/>
<text x="133.6" y="254.3" text-anchor="middle" class="tk">10</text>
<line x1="165.7" y1="227.4" x2="165.7" y2="233.9" stroke="#000" stroke-width="2"/>
<text x="165.7" y="254.3" text-anchor="middle" class="tk">20</text>
<line x1="197.8" y1="227.4" x2="197.8" y2="233.9" stroke="#000" stroke-width="2"/>
<text x="197.8" y="254.3" text-anchor="middle" class="tk">30</text>
<line x1="229.9" y1="227.4" x2="229.9" y2="233.9" stroke="#000" stroke-width="2"/>
<text x="229.9" y="254.3" text-anchor="middle" class="tk">40</text>
<line x1="262.0" y1="227.4" x2="262.0" y2="233.9" stroke="#000" stroke-width="2"/>
<text x="262.0" y="254.3" text-anchor="middle" class="tk">50</text>
<line x1="294.1" y1="227.4" x2="294.1" y2="233.9" stroke="#000" stroke-width="2"/>
<text x="294.1" y="254.3" text-anchor="middle" class="tk">60</text>
<line x1="326.2" y1="227.4" x2="326.2" y2="233.9" stroke="#000" stroke-width="2"/>
<text x="326.2" y="254.3" text-anchor="middle" class="tk">70</text>
<line x1="358.3" y1="227.4" x2="358.3" y2="233.9" stroke="#000" stroke-width="2"/>
<text x="358.3" y="254.3" text-anchor="middle" class="tk">80</text>
<line x1="390.4" y1="227.4" x2="390.4" y2="233.9" stroke="#000" stroke-width="2"/>
<text x="390.4" y="254.3" text-anchor="middle" class="tk">90</text>
<text transform="translate(247.2,279.4) scale(0.765,1)" text-anchor="middle" class="ti">Time (s)</text>
<text transform="translate(51,131.4) rotate(-90) scale(0.785,1)" text-anchor="middle" class="ti">Binding (nM)</text>
<text transform="translate(14.0,31.0) scale(1.07,1)" class="lt">A</text>
<line x1="101.5" y1="305.8" x2="101.5" y2="499.1" stroke="#000" stroke-width="2"/>
<line x1="100.5" y1="498.1" x2="399" y2="498.1" stroke="#000" stroke-width="2"/>
<line x1="94" y1="498.1" x2="101.5" y2="498.1" stroke="#000" stroke-width="2"/>
<text x="89.6" y="504.1" text-anchor="end" class="tk">0.0</text>
<line x1="94" y1="406.1" x2="101.5" y2="406.1" stroke="#000" stroke-width="2"/>
<text x="89.6" y="412.1" text-anchor="end" class="tk">0.5</text>
<line x1="94" y1="314.1" x2="101.5" y2="314.1" stroke="#000" stroke-width="2"/>
<text x="89.6" y="320.1" text-anchor="end" class="tk">1.0</text>
<line x1="101.5" y1="498.1" x2="101.5" y2="504.6" stroke="#000" stroke-width="2"/>
<text x="101.5" y="525.0" text-anchor="middle" class="tk">0</text>
<line x1="133.6" y1="498.1" x2="133.6" y2="504.6" stroke="#000" stroke-width="2"/>
<text x="133.6" y="525.0" text-anchor="middle" class="tk">10</text>
<line x1="165.7" y1="498.1" x2="165.7" y2="504.6" stroke="#000" stroke-width="2"/>
<text x="165.7" y="525.0" text-anchor="middle" class="tk">20</text>
<line x1="197.8" y1="498.1" x2="197.8" y2="504.6" stroke="#000" stroke-width="2"/>
<text x="197.8" y="525.0" text-anchor="middle" class="tk">30</text>
<line x1="229.9" y1="498.1" x2="229.9" y2="504.6" stroke="#000" stroke-width="2"/>
<text x="229.9" y="525.0" text-anchor="middle" class="tk">40</text>
<line x1="262.0" y1="498.1" x2="262.0" y2="504.6" stroke="#000" stroke-width="2"/>
<text x="262.0" y="525.0" text-anchor="middle" class="tk">50</text>
<line x1="294.1" y1="498.1" x2="294.1" y2="504.6" stroke="#000" stroke-width="2"/>
<text x="294.1" y="525.0" text-anchor="middle" class="tk">60</text>
<line x1="326.2" y1="498.1" x2="326.2" y2="504.6" stroke="#000" stroke-width="2"/>
<text x="326.2" y="525.0" text-anchor="middle" class="tk">70</text>
<line x1="358.3" y1="498.1" x2="358.3" y2="504.6" stroke="#000" stroke-width="2"/>
<text x="358.3" y="525.0" text-anchor="middle" class="tk">80</text>
<line x1="390.4" y1="498.1" x2="390.4" y2="504.6" stroke="#000" stroke-width="2"/>
<text x="390.4" y="525.0" text-anchor="middle" class="tk">90</text>
<text transform="translate(249.4,550.1) scale(0.745,1)" text-anchor="middle" class="ti">Time (s)</text>
<text transform="translate(51,402.1) rotate(-90) scale(0.785,1)" text-anchor="middle" class="ti">Binding (nM)</text>
<text transform="translate(14.6,302.2) scale(1.07,1)" class="lt">B</text>
<line x1="101.5" y1="583.5" x2="101.5" y2="776.8" stroke="#000" stroke-width="2"/>
<line x1="100.5" y1="775.8" x2="399" y2="775.8" stroke="#000" stroke-width="2"/>
<line x1="94" y1="775.8" x2="101.5" y2="775.8" stroke="#000" stroke-width="2"/>
<text x="89.6" y="781.8" text-anchor="end" class="tk">0.0</text>
<line x1="94" y1="683.8" x2="101.5" y2="683.8" stroke="#000" stroke-width="2"/>
<text x="89.6" y="689.8" text-anchor="end" class="tk">0.5</text>
<line x1="94" y1="591.8" x2="101.5" y2="591.8" stroke="#000" stroke-width="2"/>
<text x="89.6" y="597.8" text-anchor="end" class="tk">1.0</text>
<line x1="101.5" y1="775.8" x2="101.5" y2="782.3" stroke="#000" stroke-width="2"/>
<text x="101.5" y="800.5" text-anchor="middle" class="tk">0</text>
<line x1="133.6" y1="775.8" x2="133.6" y2="782.3" stroke="#000" stroke-width="2"/>
<text x="133.6" y="800.5" text-anchor="middle" class="tk">10</text>
<line x1="165.7" y1="775.8" x2="165.7" y2="782.3" stroke="#000" stroke-width="2"/>
<text x="165.7" y="800.5" text-anchor="middle" class="tk">20</text>
<line x1="197.8" y1="775.8" x2="197.8" y2="782.3" stroke="#000" stroke-width="2"/>
<text x="197.8" y="800.5" text-anchor="middle" class="tk">30</text>
<line x1="229.9" y1="775.8" x2="229.9" y2="782.3" stroke="#000" stroke-width="2"/>
<text x="229.9" y="800.5" text-anchor="middle" class="tk">40</text>
<line x1="262.0" y1="775.8" x2="262.0" y2="782.3" stroke="#000" stroke-width="2"/>
<text x="262.0" y="800.5" text-anchor="middle" class="tk">50</text>
<line x1="294.1" y1="775.8" x2="294.1" y2="782.3" stroke="#000" stroke-width="2"/>
<text x="294.1" y="800.5" text-anchor="middle" class="tk">60</text>
<line x1="326.2" y1="775.8" x2="326.2" y2="782.3" stroke="#000" stroke-width="2"/>
<text x="326.2" y="800.5" text-anchor="middle" class="tk">70</text>
<line x1="358.3" y1="775.8" x2="358.3" y2="782.3" stroke="#000" stroke-width="2"/>
<text x="358.3" y="800.5" text-anchor="middle" class="tk">80</text>
<line x1="390.4" y1="775.8" x2="390.4" y2="782.3" stroke="#000" stroke-width="2"/>
<text x="390.4" y="800.5" text-anchor="middle" class="tk">90</text>
<text transform="translate(249.4,825.5) scale(0.745,1)" text-anchor="middle" class="ti">Time (s)</text>
<text transform="translate(51,679.8) rotate(-90) scale(0.785,1)" text-anchor="middle" class="ti">Binding (nM)</text>
<text transform="translate(14.2,579.4) scale(1.07,1)" class="lt">C</text>
<line x1="423" y1="69.3" x2="443.2" y2="69.3" stroke="#000" stroke-width="2"/>
<circle cx="433.3" cy="69.3" r="2.1" fill="#ff0000"/>
<text x="448" y="74.2" class="lg">800 nM</text>
<line x1="423" y1="94.1" x2="443.2" y2="94.1" stroke="#000" stroke-width="2"/>
<circle cx="433.3" cy="94.1" r="2.1" fill="#ff6600"/>
<text x="448" y="99.0" class="lg">400 nM</text>
<line x1="423" y1="118.9" x2="443.2" y2="118.9" stroke="#000" stroke-width="2"/>
<circle cx="433.3" cy="118.9" r="2.1" fill="#cccc00"/>
<text x="448" y="123.8" class="lg">200 nM</text>
<line x1="423" y1="143.8" x2="443.2" y2="143.8" stroke="#000" stroke-width="2"/>
<circle cx="433.3" cy="143.8" r="2.1" fill="#008000"/>
<text x="448" y="148.7" class="lg">100 nM</text>
<line x1="423" y1="168.6" x2="443.2" y2="168.6" stroke="#000" stroke-width="2"/>
<circle cx="433.3" cy="168.6" r="2.1" fill="#0000ff"/>
<text x="448" y="173.5" class="lg">50 nM</text>
<line x1="423" y1="193.4" x2="443.2" y2="193.4" stroke="#000" stroke-width="2"/>
<circle cx="433.3" cy="193.4" r="2.1" fill="#00e0e0"/>
<text x="448" y="198.3" class="lg">25 nM</text>
<line x1="423" y1="218.2" x2="443.2" y2="218.2" stroke="#000" stroke-width="2"/>
<circle cx="433.3" cy="218.2" r="2.1" fill="#f0007a"/>
<text x="448" y="223.1" class="lg">12.5 nM</text>
<line x1="423" y1="340.8" x2="443.2" y2="340.8" stroke="#000" stroke-width="2"/>
<circle cx="433.3" cy="340.8" r="2.1" fill="#ff0000"/>
<text x="448" y="345.7" class="lg">800 nM</text>
<line x1="423" y1="365.7" x2="443.2" y2="365.7" stroke="#000" stroke-width="2"/>
<circle cx="433.3" cy="365.7" r="2.1" fill="#ff6600"/>
<text x="448" y="370.6" class="lg">400 nM</text>
<line x1="423" y1="390.6" x2="443.2" y2="390.6" stroke="#000" stroke-width="2"/>
<circle cx="433.3" cy="390.6" r="2.1" fill="#cccc00"/>
<text x="448" y="395.5" class="lg">200 nM</text>
<line x1="423" y1="415.6" x2="443.2" y2="415.6" stroke="#000" stroke-width="2"/>
<circle cx="433.3" cy="415.6" r="2.1" fill="#008000"/>
<text x="448" y="420.5" class="lg">100 nM</text>
<line x1="423" y1="440.5" x2="443.2" y2="440.5" stroke="#000" stroke-width="2"/>
<circle cx="433.3" cy="440.5" r="2.1" fill="#0000ff"/>
<text x="448" y="445.4" class="lg">50 nM</text>
<line x1="423" y1="465.4" x2="443.2" y2="465.4" stroke="#000" stroke-width="2"/>
<circle cx="433.3" cy="465.4" r="2.1" fill="#00e0e0"/>
<text x="448" y="470.3" class="lg">25 nM</text>
<line x1="423" y1="490.3" x2="443.2" y2="490.3" stroke="#000" stroke-width="2"/>
<circle cx="433.3" cy="490.3" r="2.1" fill="#f0007a"/>
<text x="448" y="495.2" class="lg">12.5 nM</text>
<line x1="423" y1="618.2" x2="443.2" y2="618.2" stroke="#000" stroke-width="2"/>
<circle cx="433.3" cy="618.2" r="2.1" fill="#ff0000"/>
<text x="448" y="623.1" class="lg">800 nM</text>
<line x1="423" y1="643.1" x2="443.2" y2="643.1" stroke="#000" stroke-width="2"/>
<circle cx="433.3" cy="643.1" r="2.1" fill="#ff6600"/>
<text x="448" y="648.0" class="lg">400 nM</text>
<line x1="423" y1="668.0" x2="443.2" y2="668.0" stroke="#000" stroke-width="2"/>
<circle cx="433.3" cy="668.0" r="2.1" fill="#cccc00"/>
<text x="448" y="672.9" class="lg">200 nM</text>
<line x1="423" y1="692.9" x2="443.2" y2="692.9" stroke="#000" stroke-width="2"/>
<circle cx="433.3" cy="692.9" r="2.1" fill="#008000"/>
<text x="448" y="697.8" class="lg">100 nM</text>
<line x1="423" y1="717.8" x2="443.2" y2="717.8" stroke="#000" stroke-width="2"/>
<circle cx="433.3" cy="717.8" r="2.1" fill="#0000ff"/>
<text x="448" y="722.7" class="lg">50 nM</text>
<line x1="423" y1="742.7" x2="443.2" y2="742.7" stroke="#000" stroke-width="2"/>
<circle cx="433.3" cy="742.7" r="2.1" fill="#00e0e0"/>
<text x="448" y="747.6" class="lg">25 nM</text>
<line x1="423" y1="767.6" x2="443.2" y2="767.6" stroke="#000" stroke-width="2"/>
<circle cx="433.3" cy="767.6" r="2.1" fill="#f0007a"/>
<text x="448" y="772.5" class="lg">12.5 nM</text>
<path d="M0,0H520V840H0Z M2.1,2.1V837.6H517.6V2.1Z" fill="#000" fill-rule="evenodd"/>
</svg>
</body></html>
